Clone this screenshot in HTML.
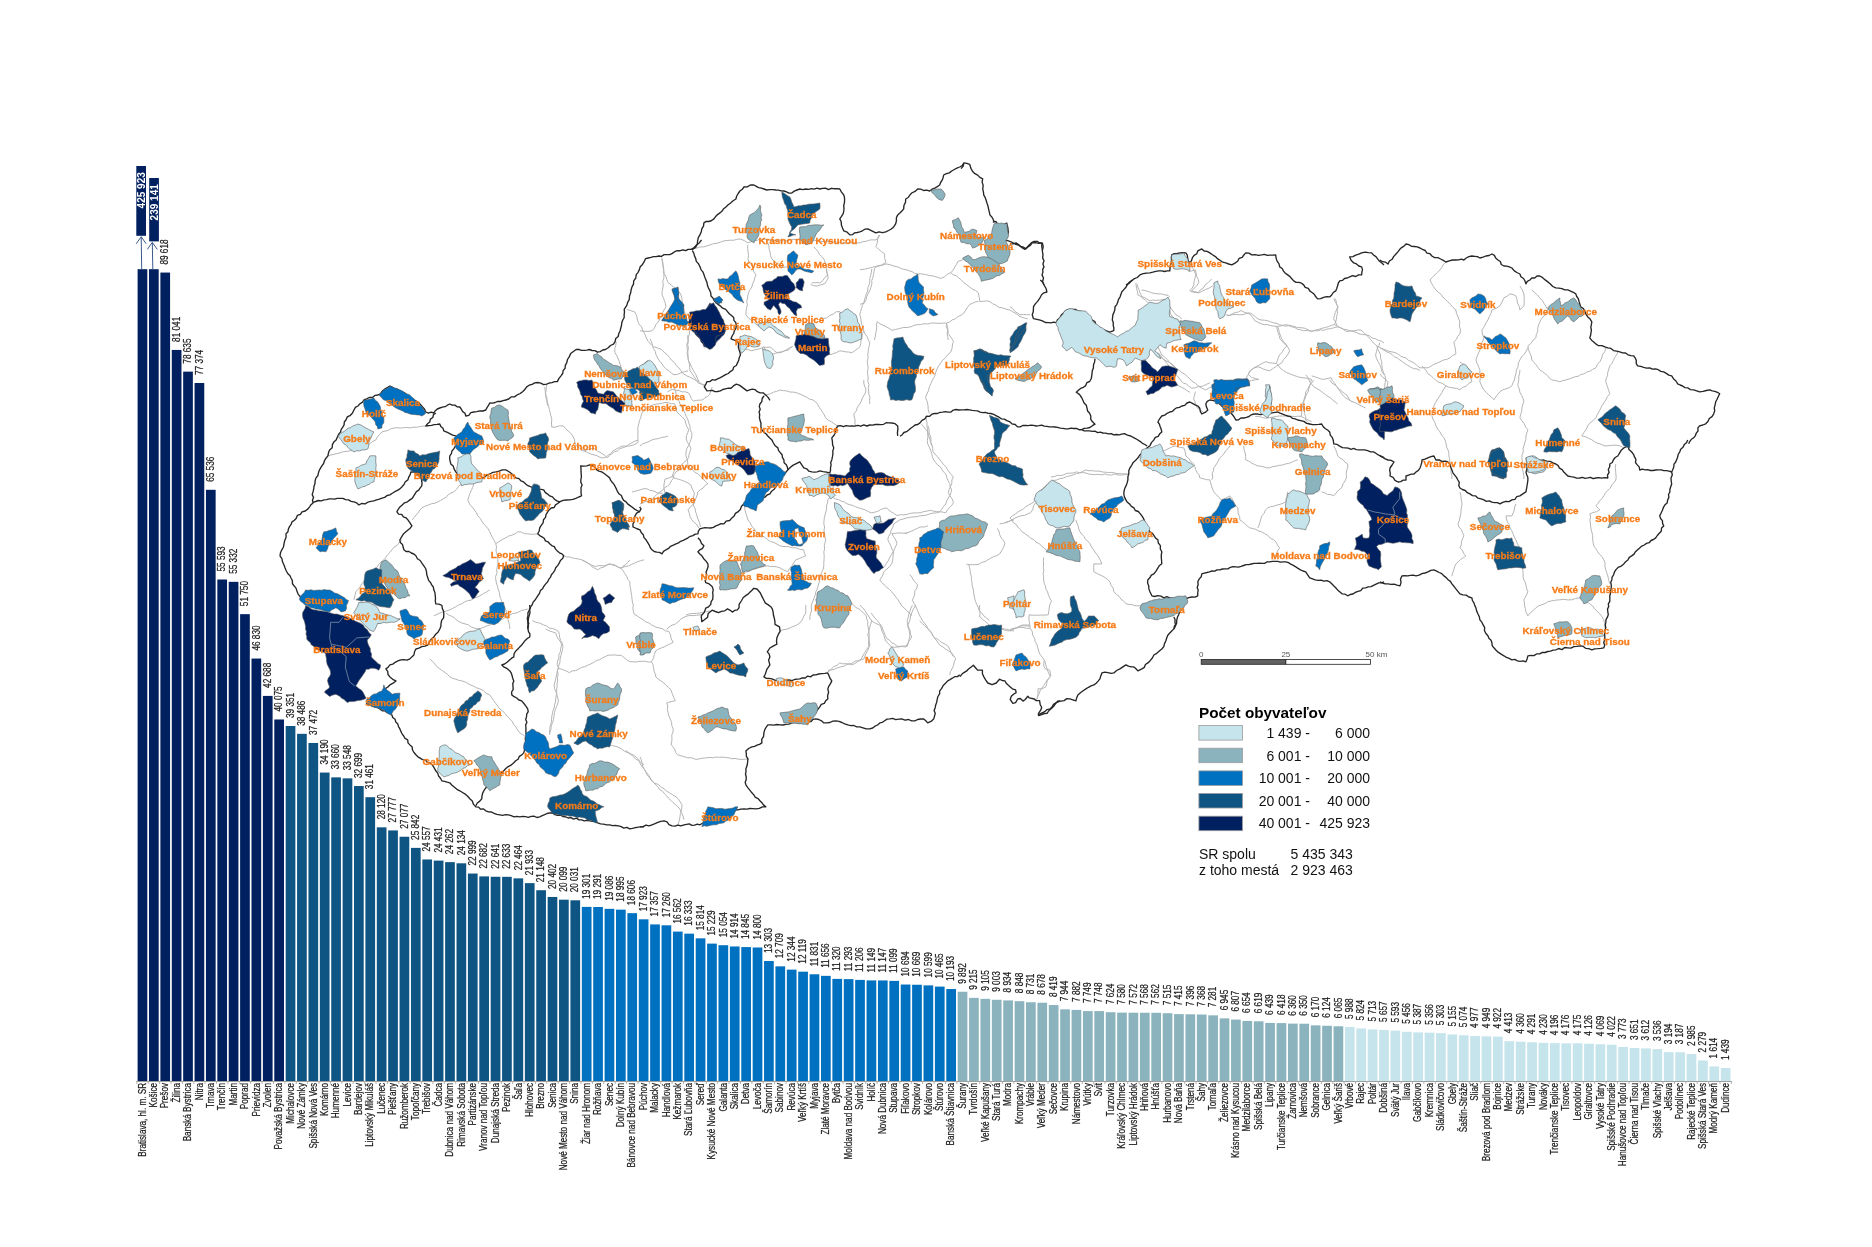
<!DOCTYPE html><html><head><meta charset="utf-8"><style>html,body{margin:0;padding:0;background:#fff;width:1872px;height:1247px;overflow:hidden}svg{display:block;will-change:transform}text{font-family:"Liberation Sans",sans-serif}</style></head><body>
<svg width="1872" height="1247" viewBox="0 0 1872 1247">
<g fill="none" stroke="#b4b4b4" stroke-width="1" stroke-linejoin="round">
<path d="M327.9,455.9 L330.9,455.0 L333.9,454.3 L336.9,453.6 L339.9,452.9 L343.3,451.7 L346.9,451.3 L350.5,450.8 L353.9,449.9 L357.0,449.2 L359.8,447.6 L363.0,447.1 L365.9,445.9 L369.4,444.2 L372.4,441.6 L375.9,439.9 L377.4,436.9 L379.6,434.4 L381.9,431.9 L385.0,431.2 L388.0,430.4 L390.8,428.8 L393.9,428.0 L397.1,427.7 L400.3,428.1 L403.5,427.7 L406.7,427.4 L409.9,428.0 L413.0,427.2 L416.3,427.3 L419.4,426.7 L422.6,426.2 L425.8,426.0"/>
<path d="M401.9,539.8 L399.5,542.4 L397.2,545.1 L394.1,547.1 L391.9,549.8 L390.0,552.4 L387.7,554.7 L385.8,557.3 L383.9,559.8 L381.0,562.0 L378.6,564.6 L376.7,567.6 L373.9,569.8 L371.9,572.2 L370.4,575.0 L367.7,576.8 L366.2,579.6 L363.9,581.8 L361.5,583.9 L360.2,587.0 L357.9,589.3 L355.9,591.8 L354.9,595.8 L353.9,599.8"/>
<path d="M411.9,519.9 L414.2,517.7 L415.9,515.1 L418.2,513.0 L419.7,510.1 L421.8,507.9 L424.9,506.2 L428.1,505.1 L431.2,503.8 L434.7,503.3 L437.8,501.9 L440.6,500.4 L443.3,498.8 L446.0,497.2 L448.2,494.8 L450.9,493.1 L453.8,491.9 L456.6,489.4 L458.7,486.1 L461.8,483.9"/>
<path d="M473.8,483.9 L472.8,487.2 L471.3,490.3 L470.0,493.4 L468.9,496.6 L467.8,499.9 L469.0,502.8 L470.6,505.5 L473.0,507.8 L474.7,510.4 L476.6,512.9 L477.8,515.9 L480.2,518.3 L481.8,521.1 L483.7,524.0 L486.0,526.3 L488.2,528.9 L489.8,531.8 L491.1,534.9 L492.6,537.9 L494.3,540.8 L495.8,543.8 L498.9,541.5 L502.2,539.5 L505.8,537.8 L508.6,536.1 L511.9,535.2 L515.0,533.8 L517.8,531.8 L521.2,532.0 L524.3,533.7 L527.7,533.8 L531.1,534.3 L534.4,534.2 L537.7,533.8"/>
<path d="M495.8,543.8 L496.5,547.0 L496.0,550.3 L496.6,553.5 L497.8,556.6 L497.8,559.8 L498.0,563.2 L497.3,566.5 L496.7,569.8 L497.0,573.2 L495.6,576.4 L495.8,579.8 L496.4,583.0 L497.4,586.2 L498.2,589.4 L499.4,592.5 L499.8,595.8 L500.7,598.7 L501.9,601.5 L503.9,604.0 L504.2,607.1 L505.8,609.8 L506.6,612.9 L506.6,616.3 L507.9,619.3 L508.8,622.5 L509.5,625.7 L509.8,629.0"/>
<path d="M433.8,615.8 L437.0,614.4 L440.0,612.9 L443.3,611.8 L446.6,610.9 L449.8,609.8 L452.8,608.3 L455.8,606.8 L458.6,604.9 L461.8,603.8 L464.6,601.9 L467.6,600.7 L471.0,600.2 L473.6,598.0 L476.9,597.3 L479.8,595.8 L483.2,593.8 L486.5,591.9 L489.8,589.8"/>
<path d="M563.7,555.8 L566.6,557.0 L569.8,556.9 L572.6,558.1 L575.7,558.5 L578.7,559.0 L581.7,559.8 L584.4,561.4 L587.2,562.8 L589.9,564.4 L592.1,566.9 L594.9,568.3 L597.7,569.8 L600.5,568.0 L603.8,567.1 L606.5,565.0 L609.7,563.8 L612.6,565.0 L615.6,565.9 L618.5,567.2 L621.6,567.8 L624.8,566.6 L628.2,566.0 L631.3,564.6 L634.4,563.2 L637.5,561.7 L640.7,560.7 L644.0,559.8"/>
<path d="M331.9,617.0 L331.8,620.1 L330.7,622.9 L329.9,625.9 L329.9,629.0 L331.2,632.0 L331.4,635.4 L331.8,638.7 L333.6,641.7 L333.9,645.0 L336.3,647.0 L338.4,649.3 L341.3,650.7 L343.7,652.7 L345.9,655.0 L346.2,658.0 L346.6,661.0 L346.9,664.0 L347.9,666.9 L348.1,670.0 L349.1,672.9 L348.5,676.0 L349.5,678.9 L349.5,681.9 L349.9,684.9 L351.7,687.7 L353.5,690.6 L355.9,692.9"/>
<path d="M333.9,639.0 L336.9,639.5 L340.0,639.5 L342.9,640.5 L345.9,641.0 L349.3,639.7 L352.7,638.6 L355.9,637.0 L358.7,634.7 L361.9,633.0"/>
<path d="M369.9,631.0 L371.9,628.0 L373.9,625.0 L376.7,623.5 L380.1,623.5 L382.7,621.4 L385.9,621.0 L388.9,620.5 L391.8,619.6 L394.8,619.2 L397.9,619.0 L400.8,618.4 L403.8,617.7 L406.8,617.2 L409.9,617.0"/>
<path d="M429.8,658.9 L432.5,661.3 L434.8,663.9 L436.9,666.8 L439.8,668.9 L442.5,670.7 L445.1,672.6 L447.7,674.5 L449.8,676.9 L452.7,678.4 L455.7,679.2 L458.7,680.3 L461.8,680.9 L465.0,681.9 L467.8,683.5 L470.7,685.1 L473.8,686.3 L476.7,687.8 L479.8,688.9 L483.3,690.6 L486.2,693.3 L489.8,694.9 L491.7,697.8 L493.7,700.6 L495.7,703.4 L497.8,706.1 L499.8,708.9 L502.7,711.0 L505.1,713.6 L507.3,716.4 L509.8,718.9 L512.2,721.4 L513.7,724.5 L516.1,727.1 L517.6,730.2 L519.8,732.9 L522.8,734.8 L525.7,736.9"/>
<path d="M445.8,613.0 L448.4,614.8 L451.3,616.1 L454.1,617.6 L456.4,619.8 L458.9,621.6 L461.8,623.0 L465.1,623.9 L468.4,624.9 L471.2,627.0 L474.5,628.1 L477.8,629.0 L480.9,628.3 L483.9,627.3 L486.8,625.9 L489.8,625.0 L492.9,624.0 L495.7,622.5 L498.5,621.0 L501.4,619.7 L504.3,618.3 L506.9,616.5 L509.8,615.0 L512.6,613.5 L515.8,613.1 L518.7,612.0 L521.6,610.4 L524.7,609.8 L527.7,609.0"/>
<path d="M545.7,629.0 L548.9,630.7 L552.3,631.8 L555.7,633.0 L556.8,636.2 L558.4,639.1 L560.5,641.8 L561.7,645.0 L560.7,648.1 L560.6,651.5 L558.9,654.4 L558.8,657.8 L557.7,660.9 L557.1,664.3 L558.3,667.6 L557.4,670.9 L558.2,674.3 L557.3,677.6 L557.7,680.9 L557.0,683.9 L557.0,686.9 L556.6,689.9 L556.7,692.9 L556.2,695.9 L555.7,698.9 L555.5,702.0 L554.5,704.9 L554.1,708.0 L552.9,710.9 L552.4,713.9 L551.7,716.9 L551.6,719.9 L551.2,722.9 L550.2,725.8 L549.9,728.8 L549.5,731.8 L549.7,734.9"/>
<path d="M609.7,744.9 L612.7,745.7 L615.8,746.4 L618.8,747.5 L621.6,748.9 L624.4,751.2 L627.7,752.7 L630.9,754.5 L633.6,756.8 L635.9,759.3 L639.0,760.6 L641.4,762.9 L644.0,764.8"/>
<path d="M693.9,248.9 L697.1,247.9 L700.2,246.9 L703.6,246.9 L706.8,245.9 L709.9,244.9 L713.4,243.7 L717.0,243.3 L720.5,242.1 L723.9,240.9 L727.1,240.5 L730.3,240.2 L733.6,240.3 L736.7,239.4 L739.9,238.9 L744.1,240.5 L747.9,242.9 L750.9,241.8 L753.8,240.7 L757.1,240.4 L759.9,238.9 L763.2,239.2 L766.6,239.5 L769.8,240.2 L773.2,240.6 L776.6,240.1 L779.9,240.9 L783.2,240.8 L786.6,240.8 L789.9,240.0 L793.2,239.3 L796.6,239.8 L799.8,238.9 L803.2,238.7 L806.5,239.6 L809.9,239.6 L813.2,240.3 L816.5,240.5 L819.8,240.9 L823.1,241.7 L826.5,241.1 L829.8,241.9 L833.2,242.0 L836.5,242.1 L839.8,242.9 L843.1,243.3 L846.5,243.1 L849.8,242.7 L853.1,243.0 L856.5,242.8 L859.8,242.9 L862.7,241.7 L865.7,241.4 L868.6,240.4 L871.7,239.8 L874.9,240.0 L877.8,238.9 L879.8,234.9"/>
<path d="M747.9,244.9 L747.6,248.4 L748.1,251.9 L748.5,255.4 L747.9,258.9 L749.1,262.3 L751.6,265.1 L753.0,268.3 L753.9,271.9 L755.9,274.9 L754.8,277.8 L754.0,280.9 L752.6,283.8 L751.9,286.9 L749.4,290.6 L747.9,294.9 L747.5,298.2 L746.7,301.5 L747.4,304.9 L746.5,308.2 L746.0,311.5 L745.9,314.8 L748.6,318.1 L751.9,320.8 L754.6,322.8 L757.1,325.0 L759.9,326.8"/>
<path d="M767.9,242.9 L768.9,246.0 L769.2,249.4 L770.2,252.5 L770.5,255.8 L771.9,258.9 L774.5,261.6 L777.5,264.0 L779.9,266.9 L783.9,267.2 L787.9,266.9"/>
<path d="M813.8,246.9 L815.9,249.3 L818.2,251.4 L819.4,254.5 L821.8,256.5 L823.8,258.9 L825.0,262.0 L825.8,265.2 L826.5,268.4 L826.5,271.8 L827.8,274.9 L824.9,277.3 L822.9,280.6 L819.8,282.9 L815.8,282.6 L811.8,282.9"/>
<path d="M871.8,268.9 L871.4,272.1 L870.7,275.2 L869.8,278.3 L869.7,281.5 L869.2,284.6 L867.8,287.6 L867.8,290.9 L866.4,293.8 L865.4,296.7 L864.5,299.8 L863.8,302.9 L862.3,305.7 L861.5,308.7 L860.5,311.7 L859.8,314.8 L860.8,318.0 L861.1,321.3 L861.7,324.6 L862.9,327.6 L863.8,330.8 L865.0,333.9 L867.1,336.6 L868.3,339.8 L869.8,342.8 L869.2,345.8 L868.5,348.8 L868.2,351.8 L867.8,354.8 L868.1,358.1 L867.2,361.5 L867.8,364.8 L868.2,368.1 L867.4,371.5 L867.8,374.8 L868.2,378.0 L867.7,381.3 L869.0,384.5 L868.3,387.8 L868.7,391.0 L868.8,394.2 L869.9,397.4 L869.5,400.7 L869.8,404.0"/>
<path d="M662.0,258.9 L662.4,262.1 L663.0,265.3 L663.7,268.4 L663.4,271.7 L664.0,274.9 L663.8,278.2 L662.7,281.5 L663.3,284.9 L662.8,288.2 L662.1,291.5 L662.0,294.9 L663.4,297.7 L664.4,300.7 L665.4,303.7 L666.0,306.8 L664.1,309.7 L662.7,312.7 L661.9,316.0 L660.0,318.8 L658.2,322.0 L655.8,324.7 L654.4,328.1 L652.0,330.8 L648.0,331.4 L644.0,331.2 L640.0,330.8"/>
<path d="M688.0,334.8 L687.6,338.2 L688.3,341.5 L687.7,344.8 L688.4,348.1 L687.8,351.5 L688.0,354.8 L688.1,358.0 L688.6,361.2 L689.5,364.3 L689.6,367.6 L690.0,370.8 L692.2,373.6 L694.1,376.7 L696.1,379.7 L697.9,382.8 L701.8,384.2 L705.9,384.8"/>
<path d="M650.0,338.8 L651.5,341.9 L652.5,345.2 L653.3,348.5 L655.3,351.4 L656.0,354.8 L657.7,358.0 L659.6,361.1 L661.9,363.9 L664.0,366.8 L666.2,369.2 L669.0,370.7 L671.3,373.0 L674.0,374.8 L677.6,374.4 L681.0,372.8 L684.4,371.7 L688.0,370.8"/>
<path d="M739.9,346.8 L742.7,348.3 L745.8,349.0 L748.9,349.8 L751.9,350.8 L754.8,349.7 L758.0,349.1 L761.1,348.3 L763.9,346.8 L765.9,350.8 L767.9,354.8 L770.9,354.3 L773.9,353.8 L776.8,352.8 L779.9,352.8 L783.0,351.7 L786.0,350.0 L788.9,348.4 L791.8,346.8"/>
<path d="M829.8,354.8 L833.2,353.7 L836.6,352.5 L839.8,350.8 L842.8,351.2 L845.8,351.9 L848.8,352.0 L851.8,352.8 L854.5,350.9 L857.2,349.0 L859.8,346.8 L860.7,343.6 L861.0,340.3 L861.9,337.2 L862.4,333.9 L863.8,330.8"/>
<path d="M763.9,396.0 L767.0,394.7 L770.3,393.8 L773.4,392.2 L776.7,391.4 L779.9,390.0 L783.2,390.6 L786.6,390.9 L789.9,392.0 L793.3,392.1 L796.6,392.8 L799.8,394.0 L803.1,395.5 L806.3,397.0 L809.3,399.1 L812.9,399.9 L815.8,402.0 L817.7,404.4 L819.1,407.2 L820.9,409.7 L822.6,412.3 L824.3,414.9 L825.6,417.7 L827.8,420.0 L831.3,421.7 L834.5,424.0 L837.8,426.0"/>
<path d="M855.8,426.0 L854.8,423.0 L855.1,419.9 L854.3,417.0 L853.8,414.0 L856.3,410.9 L857.4,407.1 L859.8,404.0 L861.3,401.0 L862.5,397.9 L864.2,394.9 L865.8,392.0 L865.8,388.9 L864.5,386.0 L863.8,383.1 L863.8,380.0"/>
<path d="M925.7,416.0 L926.3,419.4 L927.0,422.9 L926.9,426.5 L927.7,430.0 L927.5,433.4 L928.0,436.9 L927.3,440.4 L927.7,443.9 L929.2,447.0 L930.6,450.1 L931.7,453.4 L932.4,456.8 L933.7,459.9 L935.5,462.5 L937.5,464.8 L940.0,466.6 L941.8,469.2 L943.4,471.8 L945.7,473.9 L946.7,477.2 L947.8,480.4 L949.7,483.4 L950.2,486.8 L951.7,489.9 L950.9,492.8 L949.8,495.7 L948.1,498.3 L946.7,501.0 L945.7,503.9 L943.6,506.4 L941.7,509.2 L939.7,511.9 L936.4,512.9 L933.0,513.1 L929.7,513.9 L926.5,515.1 L923.1,515.5 L919.7,515.9 L916.4,516.7 L913.0,516.9 L909.6,517.3 L906.3,518.0 L903.1,519.1 L899.7,519.9 L896.8,522.0 L893.7,523.9"/>
<path d="M831.8,473.9 L831.7,477.0 L832.1,479.9 L832.3,483.0 L833.4,485.9 L832.9,489.0 L833.8,491.9 L831.7,494.5 L829.7,497.1 L827.8,499.9 L827.6,502.9 L826.3,505.8 L826.7,508.9 L825.8,511.9 L825.1,514.8 L824.3,517.8 L824.0,520.8 L823.8,523.9 L824.6,527.0 L824.0,530.3 L824.6,533.5 L824.8,536.7 L825.8,539.8 L825.0,542.8 L824.3,545.7 L824.6,548.9 L823.8,551.8 L824.2,555.3 L824.1,558.8 L823.8,562.3 L823.8,565.8 L823.2,569.4 L821.4,572.7 L820.4,576.2 L819.8,579.8 L819.0,582.9 L818.1,585.9 L817.2,588.9 L815.8,591.8 L815.2,594.9 L814.1,597.9 L813.0,600.8 L811.8,603.8 L811.2,606.9 L811.6,610.2 L810.6,613.4 L809.9,616.5 L809.8,619.8"/>
<path d="M893.7,523.9 L892.8,527.2 L891.2,530.2 L890.4,533.5 L888.5,536.5 L887.8,539.8 L889.3,542.8 L890.9,545.8 L891.8,549.1 L893.7,551.8 L893.2,554.8 L892.9,557.8 L892.6,560.9 L891.7,563.8 L889.4,566.8 L886.6,569.3 L883.8,571.8 L882.3,576.1 L879.8,579.8 L881.8,582.5 L884.2,584.9 L886.7,587.3 L889.4,589.4 L891.7,591.8 L893.9,594.5 L896.0,597.2 L898.1,599.9 L899.9,602.8 L901.7,605.8 L904.4,608.1 L906.7,610.8 L909.5,613.0 L911.7,615.8"/>
<path d="M1014.0,519.9 L1010.4,520.8 L1006.8,521.9 L1003.4,523.3 L999.6,523.9"/>
<path d="M743.9,503.9 L744.6,507.1 L745.0,510.4 L746.0,513.5 L747.0,516.7 L747.9,519.9 L750.1,522.7 L751.7,526.0 L754.1,528.7 L755.9,531.8 L758.6,534.2 L762.0,535.6 L765.1,537.5 L767.9,539.8 L770.7,541.6 L774.0,542.5 L777.0,544.1 L779.9,545.8 L783.0,546.5 L786.3,546.5 L789.5,546.9 L792.6,547.9 L795.8,547.8 L799.7,549.3 L803.8,549.8 L804.3,553.0 L805.8,555.8 L802.5,557.1 L799.2,558.6 L795.8,559.8 L793.8,562.8 L791.9,565.9 L789.4,568.5 L787.9,571.8 L783.7,570.1 L779.9,567.8 L776.9,566.9 L773.9,566.5 L770.8,566.6 L767.9,565.8 L764.6,566.3 L761.4,567.2 L758.2,567.9 L755.1,569.0 L751.9,569.8 L748.8,571.4 L745.5,572.2 L742.1,572.9 L738.9,574.1 L735.9,575.8 L731.9,576.0 L727.9,575.6 L723.9,575.8"/>
<path d="M674.0,388.0 L675.7,391.0 L676.1,394.5 L677.5,397.6 L678.9,400.7 L680.0,404.0 L681.8,407.1 L683.6,410.1 L685.0,413.4 L686.4,416.7 L688.0,420.0 L688.8,423.1 L690.0,426.3 L690.1,429.6 L691.7,432.6 L691.9,435.9 L691.1,439.3 L689.8,442.4 L688.7,445.7 L686.8,448.6 L686.0,451.9 L685.9,455.5 L687.0,458.9 L687.6,462.4 L688.0,465.9 L684.8,467.0 L681.8,468.6 L678.9,470.2 L676.0,471.9 L674.0,474.7 L673.4,478.1 L671.4,480.8 L670.0,483.9 L667.6,486.1 L664.6,487.5 L662.8,490.3 L660.0,491.9 L657.0,494.2 L654.3,496.9 L652.0,499.9 L649.2,501.4 L645.8,501.4 L643.0,502.9 L640.0,503.9"/>
<path d="M688.0,465.9 L690.0,468.3 L692.8,469.9 L694.8,472.4 L697.7,473.7 L699.9,475.9 L702.9,478.3 L705.2,481.3 L707.9,483.9 L705.1,485.4 L703.1,488.1 L700.3,489.7 L697.9,491.9 L697.2,495.0 L696.1,497.9 L694.8,500.8 L693.9,503.9 L690.7,506.6 L688.0,509.9 L689.3,513.2 L690.1,516.7 L691.9,519.9 L693.8,522.2 L696.4,524.0 L697.8,526.7 L699.9,528.9"/>
<path d="M640.0,445.9 L642.7,443.9 L645.9,442.7 L649.0,441.5 L652.0,439.9 L655.2,439.0 L658.4,438.6 L661.6,437.4 L664.9,437.1 L668.0,435.9"/>
<path d="M640.0,756.8 L641.3,759.7 L642.0,762.8 L642.6,766.0 L644.0,768.8 L645.8,772.0 L648.4,774.6 L650.2,777.7 L652.0,780.8 L654.7,783.2 L658.2,784.4 L660.9,786.9 L664.0,788.8 L666.7,791.2 L669.8,793.0 L672.9,794.9 L676.0,796.8 L678.4,799.1 L680.2,802.0 L682.0,804.8 L681.8,807.8 L681.2,810.8 L680.3,813.8 L680.0,816.8 L679.2,820.8 L678.0,824.8"/>
<path d="M686.0,615.0 L689.4,613.9 L692.9,613.5 L696.4,613.4 L699.9,613.0 L703.3,612.2 L706.6,611.7 L709.9,611.0"/>
<path d="M779.9,631.0 L782.8,629.8 L786.0,629.3 L789.0,628.5 L791.8,627.0 L796.1,625.4 L799.8,623.0 L802.3,619.9 L803.7,616.2 L805.8,613.0 L805.8,609.0 L805.8,605.0"/>
<path d="M827.8,670.9 L831.1,669.3 L833.6,666.6 L837.1,665.3 L839.8,662.9 L842.7,663.8 L845.8,663.7 L848.9,663.9 L851.8,664.9 L854.8,663.5 L857.6,661.6 L860.6,660.1 L863.8,658.9 L864.8,656.1 L866.1,653.3 L867.6,650.7 L868.8,647.8 L869.8,645.0 L869.5,641.6 L868.8,638.2 L867.8,635.0 L868.7,631.4 L869.6,627.9 L870.6,624.4 L871.8,621.0 L869.8,618.0 L867.8,615.0 L865.8,611.9 L863.8,609.0 L859.8,605.0"/>
<path d="M871.8,621.0 L875.5,623.4 L879.8,625.0 L881.1,628.1 L882.1,631.4 L883.7,634.4 L884.5,637.8 L885.8,641.0 L888.7,644.0 L891.7,647.0 L895.2,647.2 L898.7,646.9 L902.2,646.5 L905.7,647.0 L907.6,643.5 L909.5,640.2 L911.7,637.0 L910.4,634.1 L910.2,630.8 L909.0,627.9 L907.7,625.0 L909.2,622.2 L910.2,619.2 L910.5,615.9 L911.7,613.0 L913.5,608.9 L915.7,605.0"/>
<path d="M919.7,621.0 L922.1,623.4 L924.6,625.7 L927.0,628.1 L929.7,630.2 L931.7,633.0 L933.3,636.3 L935.3,639.2 L937.6,642.0 L939.7,645.0 L942.8,646.8 L945.6,649.1 L948.7,651.0 L951.7,653.0 L953.8,655.9 L955.7,658.9 L954.2,662.0 L953.6,665.4 L952.2,668.6 L950.5,671.6 L949.7,674.9"/>
<path d="M979.7,605.0 L979.4,609.0 L980.0,613.0 L979.7,617.0 L982.2,618.8 L984.4,621.0 L987.1,622.7 L989.1,625.2 L991.6,627.0 L994.8,627.7 L998.1,628.0 L1001.3,628.5 L1004.5,628.9 L1007.7,629.5 L1010.8,630.5 L1014.0,631.0"/>
<path d="M1010.0,306.8 L1012.7,308.6 L1014.7,311.2 L1017.4,313.0 L1020.0,314.8 L1023.3,314.5 L1026.7,314.7 L1030.0,314.8"/>
<path d="M1135.9,282.9 L1136.2,285.9 L1136.7,288.9 L1137.5,291.8 L1137.9,294.9 L1140.8,296.5 L1144.1,297.4 L1147.0,299.1 L1149.9,300.9 L1152.8,300.0 L1155.9,300.4 L1158.9,300.1 L1161.9,299.8 L1164.9,299.3 L1167.8,298.9 L1169.0,302.8 L1169.8,306.8 L1171.8,309.5 L1173.9,312.1 L1175.8,314.8 L1179.1,316.5 L1181.8,318.8"/>
<path d="M1189.8,262.9 L1191.0,266.1 L1193.2,268.7 L1194.6,271.8 L1195.8,274.9 L1194.9,278.2 L1194.1,281.5 L1193.8,284.9 L1192.2,288.1 L1189.8,290.9 L1193.7,292.2 L1197.8,292.9 L1200.1,290.1 L1203.2,288.2 L1205.0,285.0 L1207.8,282.9 L1211.8,278.9"/>
<path d="M1225.8,314.8 L1229.3,315.4 L1232.8,314.6 L1236.3,314.5 L1239.8,314.8 L1243.2,314.6 L1246.4,313.3 L1249.8,312.8 L1252.7,314.5 L1255.2,316.6 L1257.8,318.8 L1261.0,320.0 L1264.4,320.2 L1267.7,320.8 L1270.7,321.8 L1273.7,322.9 L1276.9,323.4 L1279.7,324.8 L1282.7,325.4 L1285.7,326.1 L1288.8,325.7 L1291.7,326.8 L1294.8,327.5 L1297.5,329.3 L1300.7,329.8 L1303.7,330.8 L1307.2,330.5 L1310.7,331.0 L1314.2,330.7 L1317.7,330.8 L1320.6,329.8 L1323.8,330.4 L1326.7,329.1 L1329.7,328.8 L1333.7,327.8 L1337.7,326.8 L1340.7,327.7 L1343.5,329.2 L1346.7,329.7 L1349.7,330.8 L1352.9,331.4 L1356.1,332.4 L1359.1,333.8 L1362.3,334.5 L1365.6,334.8 L1369.2,335.7 L1372.1,338.0 L1375.6,338.8 L1378.4,340.3 L1381.4,341.1 L1384.0,342.8"/>
<path d="M1333.7,298.9 L1335.9,302.8 L1337.7,306.8 L1336.5,309.8 L1335.2,312.7 L1334.4,315.7 L1333.7,318.8 L1335.8,322.7 L1337.7,326.8"/>
<path d="M1277.7,326.8 L1278.7,329.8 L1279.4,332.9 L1280.6,335.9 L1281.7,338.8 L1283.7,341.8 L1286.2,344.5 L1288.1,347.6 L1289.7,350.8 L1288.1,354.0 L1286.0,357.0 L1283.5,359.7 L1281.7,362.8 L1278.7,364.7 L1275.7,366.8 L1272.7,368.7 L1269.7,370.8 L1266.6,370.2 L1263.6,369.2 L1260.8,367.7 L1257.8,366.8 L1253.5,368.3 L1249.8,370.8 L1248.1,374.9 L1245.8,378.8"/>
<path d="M1157.9,346.8 L1159.8,350.8 L1161.8,354.8 L1164.8,357.2 L1167.5,359.8 L1169.8,362.8 L1172.0,365.2 L1174.6,367.0 L1177.1,369.1 L1179.8,370.8 L1182.2,372.9 L1185.1,374.4 L1187.4,376.6 L1189.8,378.8 L1192.0,381.2 L1194.8,382.8 L1197.2,385.0 L1199.8,386.8 L1203.3,385.9 L1206.6,384.3 L1209.8,382.8"/>
<path d="M1305.7,374.8 L1308.0,377.6 L1309.3,381.0 L1311.5,383.9 L1313.7,386.8 L1316.9,388.5 L1320.0,390.3 L1322.8,392.6 L1325.7,394.8 L1328.1,396.5 L1330.7,398.2 L1333.0,400.2 L1335.3,402.1 L1337.7,404.0"/>
<path d="M1379.6,342.8 L1379.0,345.9 L1377.2,348.7 L1376.5,351.7 L1375.6,354.8 L1376.3,358.2 L1377.9,361.2 L1379.6,364.3 L1380.9,367.4 L1381.6,370.8 L1384.0,374.8"/>
<path d="M1010.0,517.9 L1012.5,515.7 L1015.5,514.1 L1018.0,511.9 L1020.8,510.4 L1023.5,508.8 L1025.8,506.6 L1028.6,505.1 L1031.3,503.5 L1034.0,501.9 L1035.9,498.5 L1037.8,495.1 L1040.0,491.9 L1042.1,489.0 L1044.7,486.6 L1047.4,484.3 L1050.0,481.9 L1053.2,480.6 L1056.6,480.0 L1059.9,478.7 L1063.3,478.1 L1066.5,476.6 L1069.9,475.9 L1073.2,474.8 L1076.4,473.6 L1079.7,472.8 L1082.8,471.4 L1085.9,469.9 L1089.1,470.8 L1092.3,470.7 L1095.5,471.2 L1098.8,471.0 L1101.9,471.9 L1105.2,472.2 L1108.6,472.5 L1111.9,472.4 L1115.2,473.2 L1118.6,473.6 L1121.9,473.9 L1127.9,473.9"/>
<path d="M1010.0,517.9 L1012.0,520.2 L1013.5,522.9 L1016.4,524.5 L1018.0,527.2 L1020.2,529.4 L1022.0,531.8 L1025.1,533.7 L1028.0,535.8 L1030.7,538.2 L1034.0,539.8 L1036.1,542.2 L1039.0,543.5 L1041.3,545.6 L1043.5,547.9 L1046.0,549.8 L1049.9,552.0 L1054.0,553.8"/>
<path d="M1075.9,519.9 L1076.8,522.9 L1078.2,525.8 L1078.7,528.9 L1079.9,531.8 L1081.9,534.2 L1084.0,536.6 L1085.5,539.4 L1088.1,541.3 L1089.9,543.8 L1091.6,547.1 L1093.7,550.0 L1095.7,553.0 L1097.9,555.8 L1100.1,559.7 L1101.9,563.8 L1097.9,564.0 L1093.9,563.8 L1093.7,567.8 L1093.9,571.8 L1097.9,573.9 L1101.9,575.8 L1104.9,577.4 L1107.5,579.5 L1109.9,581.8 L1111.0,585.2 L1113.1,588.2 L1113.9,591.8 L1116.3,594.2 L1119.0,596.3 L1120.9,599.1 L1123.7,601.2 L1125.9,603.8 L1128.9,604.4 L1131.9,604.6 L1134.8,605.7 L1137.9,605.8 L1141.9,605.8"/>
<path d="M1137.9,457.9 L1140.8,456.9 L1144.0,457.5 L1146.9,456.7 L1149.9,455.9 L1152.8,454.2 L1156.1,453.1 L1159.4,452.3 L1162.8,451.6 L1165.8,449.9 L1169.1,448.4 L1172.3,446.7 L1175.8,445.9 L1179.7,447.3 L1183.8,447.9 L1185.2,451.8 L1185.8,455.9 L1188.7,458.4 L1190.9,461.5 L1193.8,463.9 L1194.9,466.8 L1195.8,469.7 L1197.1,472.5 L1199.1,474.9 L1199.8,477.9 L1203.1,478.7 L1206.4,479.6 L1209.8,479.9 L1210.7,482.9 L1211.5,486.0 L1212.6,489.0 L1213.8,491.9 L1216.4,494.6 L1218.8,497.5 L1221.8,499.9 L1225.9,498.1 L1229.8,495.9 L1232.0,498.7 L1233.7,501.9 L1235.4,505.1 L1237.8,507.9 L1238.1,510.9 L1238.3,513.9 L1239.7,516.8 L1239.8,519.9 L1242.5,521.6 L1244.9,523.7 L1247.2,525.9 L1249.8,527.9 L1252.9,528.5 L1255.9,529.4 L1258.7,531.1 L1261.7,531.8 L1264.8,533.8 L1268.0,535.5 L1270.4,538.3 L1273.7,539.8 L1276.2,542.2 L1277.6,545.3 L1279.7,547.8 L1277.8,550.6 L1276.5,553.7 L1275.3,556.8 L1273.7,559.8"/>
<path d="M1229.8,445.9 L1228.0,448.6 L1225.6,450.8 L1224.1,453.7 L1221.8,455.9 L1219.3,458.6 L1217.8,461.9 L1215.9,465.0 L1213.8,467.9 L1213.3,470.9 L1212.2,473.8 L1212.8,477.0 L1211.8,479.9"/>
<path d="M1243.8,445.9 L1244.0,449.5 L1245.2,452.9 L1245.6,456.4 L1245.8,459.9 L1248.9,461.1 L1251.7,463.1 L1254.7,464.6 L1257.8,465.9 L1260.8,466.2 L1263.7,466.9 L1266.7,467.8 L1269.7,467.9 L1272.8,466.6 L1276.1,466.2 L1279.3,465.3 L1282.6,465.0 L1285.7,463.9 L1288.9,463.3 L1291.8,462.3 L1294.7,460.8 L1297.7,459.9"/>
<path d="M1257.8,527.9 L1259.2,525.0 L1260.0,522.0 L1260.8,518.9 L1261.7,515.9 L1264.1,513.5 L1265.3,510.2 L1267.7,507.9 L1270.7,506.7 L1273.8,506.2 L1276.8,505.1 L1279.9,504.4 L1282.9,503.3 L1285.7,501.9 L1286.6,498.6 L1287.0,495.2 L1287.7,491.9"/>
<path d="M1321.7,491.9 L1324.7,492.8 L1327.5,494.4 L1330.8,494.6 L1333.7,495.9 L1336.1,493.0 L1338.6,490.1 L1341.7,487.9 L1343.2,483.7 L1345.7,479.9 L1346.5,476.8 L1346.2,473.5 L1346.7,470.3 L1347.8,467.2 L1347.7,463.9 L1345.0,462.2 L1343.0,459.6 L1340.1,458.1 L1337.7,455.9 L1336.7,452.4 L1335.5,449.1 L1333.7,445.9"/>
<path d="M1313.7,380.0 L1311.7,383.0 L1309.3,385.7 L1307.9,389.1 L1305.7,392.0 L1305.5,395.0 L1304.4,397.9 L1303.9,400.9 L1303.7,404.0 L1303.6,407.2 L1304.5,410.4 L1304.4,413.6 L1305.8,416.7 L1305.7,420.0 L1309.7,424.0"/>
<path d="M1329.7,380.0 L1332.0,383.1 L1335.3,385.1 L1337.7,388.0 L1339.5,390.6 L1341.3,393.3 L1343.3,395.8 L1345.7,398.0 L1348.6,399.6 L1351.5,401.3 L1354.7,402.4 L1357.7,404.0 L1361.6,406.1 L1365.6,408.0"/>
<path d="M1010.0,631.0 L1013.0,629.5 L1016.1,628.2 L1019.2,626.9 L1022.0,625.0 L1026.0,625.0 L1030.0,625.0"/>
<path d="M1445.9,262.0 L1443.5,264.3 L1441.9,267.3 L1439.9,270.0 L1437.4,272.4 L1434.9,274.9 L1432.3,277.3 L1430.0,280.0 L1431.6,283.5 L1433.6,286.8 L1435.9,289.9 L1438.3,292.4 L1441.1,294.4 L1443.0,297.3 L1445.6,299.5 L1447.9,301.9 L1450.6,304.6 L1453.0,307.5 L1455.9,309.9 L1456.4,313.1 L1457.7,316.0 L1458.8,319.0 L1459.9,321.9 L1459.3,325.9 L1460.5,329.9 L1459.9,333.9 L1457.7,336.4 L1456.3,339.5 L1453.9,341.9 L1454.4,344.9 L1455.2,347.8 L1455.6,350.9 L1455.9,353.9 L1452.7,355.5 L1449.9,357.9 L1446.7,359.4 L1443.1,360.1 L1439.9,361.9 L1436.9,363.2 L1433.7,364.4 L1430.9,366.2 L1428.0,367.9 L1424.0,367.7 L1420.0,367.9 L1417.3,365.8 L1414.9,363.5 L1412.0,361.9 L1408.6,360.4 L1406.0,357.9 L1403.0,357.1 L1400.2,355.8 L1397.8,353.8 L1395.0,352.6 L1392.0,351.9 L1388.9,351.3 L1385.9,350.1 L1383.0,348.9 L1380.0,347.9"/>
<path d="M1519.9,285.9 L1522.2,289.8 L1523.9,293.9 L1524.2,297.9 L1524.2,301.9 L1523.9,305.9 L1519.9,309.9 L1519.2,306.3 L1517.4,303.0 L1517.0,299.4 L1515.9,295.9 L1513.0,294.5 L1509.9,293.9 L1507.1,296.2 L1503.9,297.9 L1502.0,302.0 L1499.9,305.9 L1496.1,308.4 L1491.9,309.9 L1491.0,313.4 L1489.3,316.6 L1487.9,319.9 L1485.8,323.2 L1484.2,326.8 L1481.9,329.9 L1482.4,334.0 L1483.9,337.9 L1482.8,340.9 L1481.3,343.7 L1480.9,346.9 L1479.9,349.9 L1478.5,353.2 L1477.0,356.5 L1475.9,359.9 L1477.1,363.3 L1478.5,366.6 L1479.9,369.9 L1479.8,373.9 L1480.2,377.9 L1479.9,381.8 L1481.7,386.0 L1483.9,389.8 L1486.2,392.5 L1488.8,394.9 L1491.5,397.2 L1493.9,399.8 L1495.7,397.1 L1497.7,394.3 L1499.9,391.8 L1502.6,389.8 L1505.9,388.9 L1509.1,387.7 L1511.9,385.8 L1512.9,382.9 L1514.4,380.0 L1515.0,376.9 L1515.9,373.9 L1516.3,370.2 L1518.0,366.9 L1518.3,363.2 L1519.9,359.9 L1521.7,356.8 L1524.3,354.2 L1526.2,351.1 L1527.9,347.9"/>
<path d="M1531.8,289.9 L1534.6,292.5 L1537.4,295.0 L1539.8,297.9 L1542.3,300.6 L1544.2,303.7 L1546.1,306.7 L1547.8,309.9 L1545.5,312.7 L1544.0,316.0 L1541.5,318.7 L1539.8,321.9 L1538.5,325.0 L1537.7,328.2 L1537.7,331.6 L1536.3,334.6 L1535.8,337.9 L1533.0,340.4 L1530.8,343.5 L1527.9,345.9 L1528.5,349.5 L1529.7,352.9 L1531.3,356.2 L1531.8,359.9 L1533.9,362.3 L1536.0,364.7 L1537.9,367.3 L1539.8,369.9 L1542.4,371.6 L1544.9,373.6 L1547.4,375.4 L1549.3,378.0 L1551.8,379.9 L1555.9,380.6 L1559.8,381.8 L1562.7,380.6 L1565.9,380.0 L1568.9,379.1 L1571.8,377.9 L1574.8,376.8 L1578.0,376.4 L1580.7,374.5 L1583.8,373.9 L1586.7,372.1 L1589.9,371.2 L1592.7,369.3 L1595.8,367.9 L1597.4,364.3 L1600.1,361.4 L1601.8,357.9 L1602.6,354.4 L1604.9,351.4 L1605.8,347.9"/>
<path d="M1519.9,369.9 L1519.7,373.1 L1518.8,376.2 L1518.8,379.5 L1518.2,382.6 L1517.9,385.8 L1519.3,389.0 L1519.9,392.4 L1521.6,395.4 L1523.1,398.5 L1523.9,401.8 L1522.6,404.9 L1521.9,408.1 L1521.7,411.5 L1520.7,414.6 L1519.9,417.8 L1521.9,420.8 L1524.2,423.6 L1525.6,427.0 L1527.9,429.8 L1526.8,432.9 L1525.9,436.1 L1525.8,439.5 L1524.8,442.6 L1523.9,445.8 L1523.1,448.7 L1523.3,451.9 L1522.1,454.7 L1521.9,457.8 L1522.3,460.8 L1523.0,463.8 L1522.9,466.8 L1522.5,469.9 L1523.4,472.9 L1523.8,475.9 L1523.9,479.0"/>
<path d="M1617.8,351.9 L1616.6,354.9 L1614.7,357.5 L1613.4,360.5 L1611.9,363.4 L1609.8,365.9 L1608.8,369.0 L1607.8,372.2 L1607.5,375.5 L1606.1,378.5 L1605.8,381.8 L1606.8,384.8 L1607.8,387.8 L1608.8,390.8 L1609.8,393.8 L1607.4,396.6 L1605.8,399.8 L1603.9,402.9 L1601.8,405.8 L1600.5,408.9 L1598.8,411.8 L1597.2,414.8 L1595.8,417.8 L1593.2,420.5 L1590.1,422.8 L1587.8,425.8 L1586.3,429.4 L1583.9,432.5 L1581.8,435.8 L1585.3,436.7 L1588.5,438.3 L1591.8,439.8 L1594.6,441.7 L1597.5,443.3 L1600.9,444.1 L1603.8,445.8 L1607.0,445.9 L1610.2,445.5 L1613.4,445.2 L1616.6,445.2 L1619.8,445.8 L1623.8,447.8"/>
<path d="M1445.9,385.8 L1443.8,389.1 L1441.9,392.5 L1439.9,395.8 L1437.6,399.0 L1435.7,402.3 L1433.9,405.8 L1433.6,409.2 L1433.1,412.6 L1431.9,415.8 L1433.0,419.3 L1434.9,422.4 L1435.9,425.8 L1437.6,429.0 L1439.9,431.8 L1441.6,435.0 L1443.9,437.8 L1445.3,440.7 L1446.1,443.7 L1446.5,446.9 L1447.9,449.8 L1448.9,452.7 L1448.9,455.8 L1449.5,458.8 L1449.9,461.8 L1449.8,465.3 L1451.1,468.6 L1450.9,472.1 L1451.9,475.5 L1451.9,479.0"/>
<path d="M1459.9,361.9 L1462.5,363.8 L1465.0,365.7 L1467.7,367.6 L1469.9,369.9 L1470.1,372.9 L1471.0,375.8 L1471.1,378.9 L1471.9,381.8 L1468.7,383.5 L1466.2,386.2 L1462.6,387.4 L1459.9,389.8 L1456.6,388.3 L1452.9,387.9 L1449.3,387.4 L1445.9,385.8"/>
<path d="M1422.0,365.9 L1424.2,368.4 L1426.3,370.9 L1428.0,373.9 L1430.7,375.5 L1433.1,377.6 L1435.4,379.9 L1437.9,381.8 L1442.2,383.4 L1445.9,385.8"/>
<path d="M1380.0,373.9 L1382.3,376.9 L1385.4,379.2 L1388.0,381.8 L1387.3,385.9 L1386.0,389.8"/>
<path d="M1459.9,491.9 L1460.9,495.4 L1461.1,498.9 L1461.9,502.4 L1461.9,505.9 L1461.0,508.9 L1461.0,512.0 L1460.5,515.1 L1459.8,518.0 L1459.1,521.0 L1457.9,523.9 L1459.1,527.1 L1461.4,529.7 L1462.6,532.8 L1463.9,535.9 L1462.5,538.8 L1461.5,541.8 L1461.2,545.0 L1459.9,547.9 L1462.4,550.2 L1463.6,553.5 L1465.9,555.9 L1463.3,557.7 L1460.6,559.5 L1458.3,561.7 L1455.9,563.9 L1454.6,566.8 L1453.8,569.8 L1452.7,572.8 L1451.9,575.9"/>
<path d="M1515.9,503.9 L1514.7,506.9 L1514.3,510.1 L1513.2,513.0 L1511.9,515.9 L1505.9,515.9 L1506.6,519.0 L1507.4,522.1 L1509.3,524.8 L1509.9,527.9 L1511.7,530.7 L1513.1,533.8 L1514.3,536.9 L1515.9,539.9 L1517.5,544.1 L1519.9,547.9 L1520.7,551.0 L1520.1,554.4 L1521.1,557.5 L1522.0,560.6 L1521.9,563.9 L1522.2,567.1 L1522.8,570.2 L1523.2,573.5 L1523.0,576.7 L1523.9,579.9 L1525.4,582.7 L1526.1,585.8 L1526.8,588.9 L1527.9,591.8 L1526.0,595.9 L1523.9,599.8 L1524.4,602.8 L1524.6,605.9 L1525.4,608.8 L1525.9,611.8 L1527.9,615.8 L1530.2,612.8 L1533.2,610.5 L1535.8,607.8 L1538.6,605.9 L1541.8,604.7 L1545.0,603.6 L1547.8,601.8 L1550.8,601.0 L1553.8,600.5 L1556.8,600.0 L1559.8,599.8 L1563.8,599.3 L1567.8,599.9 L1571.8,599.8 L1575.7,598.5 L1579.8,597.8 L1583.0,600.1 L1586.7,601.4 L1589.8,603.8 L1592.6,606.0 L1594.7,608.9 L1597.2,611.4 L1599.8,613.8 L1602.0,616.7 L1603.8,619.8 L1604.7,623.8 L1604.8,627.8"/>
<path d="M1615.8,464.0 L1615.3,467.2 L1615.6,470.4 L1615.8,473.6 L1616.2,476.8 L1615.8,480.0 L1613.9,482.7 L1611.7,485.2 L1610.1,488.2 L1607.7,490.6 L1605.4,493.0 L1603.8,495.9 L1601.9,498.5 L1599.7,500.9 L1597.9,503.5 L1595.8,505.9 L1599.8,509.9 L1596.6,511.7 L1593.1,512.5 L1589.8,513.9 L1590.6,516.9 L1590.0,520.0 L1590.3,523.0 L1590.6,526.0 L1591.0,529.0 L1591.8,531.9 L1592.6,535.4 L1592.7,538.9 L1593.0,542.4 L1593.8,545.9 L1595.8,548.6 L1597.6,551.6 L1599.6,554.4 L1602.2,556.8 L1603.8,559.9 L1605.1,562.9 L1604.9,566.4 L1605.7,569.6 L1606.7,572.7 L1607.8,575.9 L1608.7,579.9 L1609.8,583.9"/>
<path d="M1392.0,493.9 L1394.4,496.2 L1397.0,498.3 L1400.0,499.9 L1398.4,503.2 L1397.1,506.5 L1396.0,509.9 L1393.6,512.4 L1390.8,514.2 L1388.0,515.9 L1385.5,518.7 L1382.7,521.3 L1380.0,523.9"/>
<path d="M1380.0,535.9 L1382.9,534.2 L1386.2,533.2 L1389.3,531.9 L1392.0,529.9 L1396.0,529.8 L1400.0,530.3 L1404.0,529.9"/>
<path d="M661.6,257.4 L662.4,260.5 L663.0,263.7 L663.1,267.0 L663.8,270.2 L664.2,273.4 L665.8,276.4 L666.9,279.6 L668.2,282.7 L671.6,285.4 L674.9,288.1 L678.0,290.4 L680.3,293.4 L681.6,296.9 L682.1,300.5 L682.9,304.1 L683.6,307.7 L684.3,311.3 L685.6,314.8"/>
<path d="M626.8,309.4 L630.9,310.7 L634.9,312.1 L636.7,315.9 L637.5,320.1 L638.9,323.9 L641.6,327.0 L642.9,330.8 L644.9,334.2 L646.3,338.0 L648.2,341.5 L650.9,344.2 L653.5,346.8 L657.6,347.9 L661.6,349.5 L664.1,352.3 L667.2,354.6 L669.6,357.5 L671.6,360.4 L674.5,362.5 L676.2,365.5 L678.9,367.8 L680.9,370.7 L682.9,373.5 L686.8,375.9 L690.9,377.6 L694.8,379.9 L699.0,381.6 L701.3,384.0 L704.3,385.6"/>
<path d="M616.2,341.5 L615.8,345.1 L614.8,348.6 L614.8,352.2 L616.9,356.1 L618.8,360.2 L620.1,364.2 L621.5,368.2"/>
<path d="M689.6,330.8 L689.4,334.1 L688.4,337.2 L688.3,340.5 L687.0,343.6 L686.9,346.8 L687.5,350.2 L687.1,353.6 L687.9,356.9 L688.3,360.2 L690.2,363.7 L691.7,367.4 L693.6,370.9 L695.7,374.3 L697.2,378.0 L699.0,381.6"/>
<path d="M546.7,384.2 L546.3,387.4 L546.1,390.5 L545.4,393.6 L546.6,396.6 L547.1,399.7 L547.0,403.0 L548.0,406.0"/>
<path d="M946.7,324.1 L947.5,327.1 L948.0,330.2 L948.1,333.4 L950.0,336.0 L951.8,338.7 L953.4,341.4 L952.4,345.0 L952.0,348.7 L950.7,352.1 L947.8,354.5 L945.6,357.7 L942.7,360.1 L940.8,362.7 L939.0,365.4 L937.4,368.1 L935.8,372.1 L934.7,376.2 L932.6,379.6 L931.0,383.2 L929.4,386.8 L928.5,390.6 L926.9,394.0 L925.4,397.5 L927.2,401.4 L928.0,405.5 L928.2,409.6 L929.4,413.5"/>
<path d="M921.4,424.2 L923.8,426.7 L925.7,429.6 L928.0,432.2 L928.6,435.8 L929.9,439.2 L930.6,442.7 L932.1,446.0"/>
<path d="M792.9,346.2 L790.3,348.0 L788.1,350.2 L784.8,350.7 L781.7,351.8 L776.9,352.6 L773.7,350.2 L770.5,347.0 L766.9,347.4 L763.3,347.0"/>
<path d="M820.2,317.3 L823.3,318.3 L826.6,318.1 L829.5,315.5 L833.2,314.1 L836.2,311.7 L840.0,311.7"/>
<path d="M810.6,284.4 L813.6,285.7 L817.0,286.0 L821.0,284.8 L825.0,283.6 L826.6,280.8 L828.2,278.0 L827.3,274.0 L826.6,270.0"/>
<path d="M544.7,387.1 L545.2,390.6 L545.6,394.1 L545.9,397.7 L547.0,400.6 L547.8,403.5 L548.7,406.5 L549.4,409.5 L550.1,412.7 L550.8,415.8 L551.8,418.9 L551.5,423.0 L551.8,427.2 L555.7,427.0 L559.6,425.8 L563.6,426.0 L565.6,428.7 L568.1,430.9 L570.7,433.1 L572.7,435.8 L574.2,439.0 L574.9,442.7 L576.6,446.0 L579.1,448.0 L582.3,448.8 L584.8,450.8 L587.8,449.5 L591.0,448.7 L594.2,448.4 L597.6,451.1 L601.3,453.1 L604.6,455.1 L607.2,457.8 L609.4,455.7 L611.1,453.1 L613.1,450.8 L616.2,449.1 L619.3,447.4 L622.5,446.0 L626.1,446.2 L629.6,446.0 L634.0,444.8 L637.9,442.5 L638.0,439.4 L637.8,436.4 L637.9,433.3 L637.9,430.2 L637.9,427.2 L638.8,423.9 L639.4,420.6 L640.8,417.5 L641.4,414.2 L643.8,409.5"/>
<path d="M643.8,409.5 L646.9,407.9 L650.0,406.1 L653.2,404.8 L656.2,404.2 L659.2,403.8 L662.1,403.2 L665.0,402.4 L668.2,402.7 L671.2,403.8 L674.4,403.6 L676.1,407.6 L676.8,411.8 L679.6,414.6 L682.4,417.2 L685.0,420.1 L685.7,423.4 L686.9,426.6 L688.6,429.5 L687.8,432.7 L686.5,435.7 L686.2,439.0 L687.4,442.3 L689.4,445.2 L690.9,448.4 L690.0,451.5 L689.0,454.6 L688.6,457.8 L686.4,460.4 L683.8,462.4 L681.5,464.9 L679.4,467.2 L676.6,468.6 L674.4,470.8 L673.0,473.7 L672.1,476.7 L668.6,478.1 L665.0,479.1 L664.3,482.6 L663.8,486.1 L664.3,489.7 L665.0,493.2"/>
<path d="M632.0,492.0 L635.5,491.2 L639.1,490.2 L642.5,489.0 L646.1,488.5 L649.5,490.2 L653.2,490.8 L657.9,493.2 L662.6,493.2"/>
<path d="M672.1,476.7 L675.1,478.3 L678.3,479.1 L681.5,480.2 L684.8,481.5 L688.0,483.0 L690.9,485.0 L692.3,489.2 L694.5,493.2 L693.5,497.1 L693.5,501.1 L693.3,505.0 L695.0,508.4 L695.7,512.1 L696.8,515.0 L697.5,518.1 L698.8,521.0 L699.9,523.9 L700.4,527.1"/>
<path d="M667.4,391.8 L672.1,389.4 L675.6,390.2 L679.2,390.6 L682.2,391.9 L685.5,391.8 L688.6,393.0 L690.2,395.7 L691.3,398.7 L693.3,401.2 L696.4,400.4 L699.6,400.1 L702.7,400.0 L704.7,397.7 L707.8,396.5 L709.8,394.2 L710.8,390.5 L712.2,387.1"/>
<path d="M1169.7,297.1 L1168.0,295.3 L1164.7,294.8 L1161.4,293.9 L1158.1,293.9 L1154.7,293.5 L1151.4,292.7 L1148.2,291.4 L1144.9,290.5 L1141.5,290.0"/>
<path d="M1150.3,349.1 L1153.1,350.9 L1155.5,353.2 L1158.0,355.3 L1160.8,357.0 L1163.6,358.8 L1166.2,361.1 L1169.4,362.4 L1172.4,364.1 L1174.9,367.0 L1177.7,369.4"/>
<path d="M1177.7,385.3 L1181.2,387.1 L1184.7,388.9 L1187.3,390.8 L1190.0,392.4"/>
<path d="M1035.9,700.6 L1037.2,697.5 L1038.0,694.2 L1038.0,688.8 L1042.3,688.8 L1046.0,686.7 L1046.6,683.5 L1047.6,680.3 L1050.8,675.5 L1049.7,670.1 L1045.5,669.1 L1043.9,666.4 L1043.7,663.2 L1044.4,660.0"/>
<path d="M832.8,497.5 L835.5,499.0 L838.6,499.6 L841.3,501.2 L844.3,501.9 L846.9,503.8 L849.8,504.7 L852.8,505.5 L855.6,506.8 L858.5,507.8 L861.8,508.8 L865.1,509.9 L868.2,511.5 L871.3,512.9 L874.5,512.2 L877.7,511.4 L880.5,509.6 L883.6,508.6 L886.7,507.8 L888.9,510.2 L891.5,512.1 L894.3,513.7 L897.0,515.5 L900.4,514.7 L903.9,514.9 L907.3,514.3 L910.6,513.3 L914.0,512.9 L917.5,512.9 L920.8,512.7 L923.9,511.5 L927.1,511.1 L930.3,510.3 L933.4,511.1 L936.5,511.6 L939.6,511.8 L942.7,512.1 L945.7,512.9 L947.4,510.1 L949.5,507.7 L951.7,505.4 L953.4,502.6 L952.2,499.0 L949.9,495.9 L948.3,492.4 L949.2,489.3 L950.7,486.3 L951.8,483.3 L951.9,479.9 L953.4,477.0 L951.3,474.5 L949.1,472.0 L947.4,469.2 L945.6,466.4 L943.2,464.2 L941.2,461.5 L939.2,458.9 L937.1,456.4 L934.8,454.0 L932.9,451.3 L932.7,448.2 L932.0,445.1 L930.9,442.2 L931.0,439.0 L930.3,435.9 L929.1,432.6 L929.0,429.0 L927.8,425.7"/>
<path d="M904.7,533.4 L908.0,532.4 L911.3,531.3 L914.4,529.7 L917.5,528.3 L920.8,526.9 L924.5,527.0 L927.8,525.7"/>
<path d="M884.2,566.8 L886.3,563.7 L888.4,560.6 L889.8,557.1 L891.9,554.0 L893.7,550.6 L895.3,547.1 L897.0,543.7 L895.8,540.0 L893.7,536.8 L891.9,533.4 L894.9,533.4 L898.0,532.9 L901.1,533.0 L904.2,533.2 L907.2,533.4"/>
<path d="M909.8,574.5 L911.8,577.0 L913.3,579.9 L915.4,582.3 L917.5,584.8 L916.9,588.0 L914.9,590.7 L914.7,594.1 L913.8,597.2 L912.4,600.2 L914.2,603.5 L916.0,606.9 L917.5,610.4 L918.9,614.0 L920.7,617.4 L922.6,620.7 L924.5,623.1 L926.4,625.6 L927.8,628.4 L929.7,630.8 L931.6,633.2 L932.9,636.1 L935.2,638.2 L938.1,639.4 L940.3,641.6 L943.0,643.1 L945.8,644.6 L948.3,646.3 L949.9,649.8 L951.4,653.4 L953.4,656.6"/>
<path d="M871.3,613.0 L873.1,615.8 L875.1,618.4 L877.5,620.6 L879.4,623.3 L881.6,625.8 L882.6,629.1 L884.0,632.3 L885.3,635.5 L886.7,638.6 L889.5,640.2 L891.7,642.8 L894.6,644.1 L897.0,646.3 L900.4,646.3 L903.8,646.0 L907.2,646.3 L908.3,643.0 L909.0,639.5 L909.8,636.1 L909.6,632.9 L909.0,629.9 L907.9,626.9 L907.5,623.8 L907.2,620.7 L908.2,617.6 L908.8,614.3 L909.8,611.3 L910.9,608.2 L912.4,605.3"/>
<path d="M850.8,602.7 L853.4,604.8 L855.6,607.4 L858.8,608.8 L861.4,610.9 L863.7,613.3 L866.2,615.6 L866.7,618.6 L867.8,621.6 L867.7,624.8 L868.3,627.9 L868.8,630.9 L869.1,634.0 L869.1,637.1 L868.8,640.2 L868.4,643.3 L868.8,646.3 L866.7,649.4 L864.7,652.6 L862.8,655.9 L861.1,659.2 L858.3,660.8 L855.1,661.0 L852.5,663.0 L849.5,663.9 L846.4,664.7 L843.7,666.3 L840.5,666.9 L837.2,667.9 L834.1,669.3 L830.7,670.2 L827.7,672.0"/>
<path d="M1004.8,523.2 L1008.3,521.8 L1011.7,520.0 L1015.0,518.0 L1018.0,516.8 L1021.1,515.8 L1024.4,515.5 L1027.4,514.0 L1030.4,512.9 L1032.7,509.8 L1033.5,505.9 L1035.6,502.6"/>
<path d="M999.6,628.4 L1003.0,629.6 L1006.4,630.6 L1009.9,630.9 L1013.1,628.8 L1016.8,627.6 L1020.2,625.8 L1023.6,625.9 L1027.0,625.9 L1030.4,625.8"/>
<path d="M1050.9,477.0 L1054.2,476.6 L1057.3,475.4 L1060.7,475.5 L1063.9,474.8 L1066.9,473.3 L1070.2,473.2 L1073.5,472.9 L1076.6,471.9 L1079.6,472.8 L1082.8,472.6 L1085.9,473.0 L1088.9,474.1 L1092.0,474.4 L1095.3,474.6 L1098.5,474.3 L1101.8,474.9 L1105.1,473.9 L1108.3,474.9 L1111.6,475.0 L1114.9,473.9 L1118.1,475.0 L1121.4,474.9 L1124.7,474.7 L1127.9,474.4"/>
<path d="M966.3,564.2 L969.5,564.6 L972.7,564.7 L975.9,564.6 L979.1,564.2 L981.8,562.3 L985.1,561.6 L987.9,559.8 L990.8,558.2 L993.6,556.6 L996.8,555.6 L999.6,554.0 L1001.6,550.7 L1003.5,547.4 L1004.8,543.7 L1003.6,540.4 L1001.2,537.8 L999.7,534.7 L999.0,531.2 L997.1,528.3"/>
<path d="M968.8,564.2 L969.4,567.3 L970.2,570.3 L970.4,573.5 L971.4,576.5 L971.4,579.6 L972.1,582.7 L972.2,585.8 L973.1,588.8 L973.6,591.9 L974.0,595.0 L974.6,598.2 L975.5,601.4 L976.7,604.4 L978.2,607.3 L979.1,610.4 L981.7,612.9 L983.9,615.9 L986.7,618.2 L989.4,620.7"/>
<path d="M532.5,620.6 L536.0,622.3 L539.8,623.1 L543.3,624.9 L546.4,625.9 L549.1,628.0 L552.5,628.5 L555.6,629.6 L558.4,631.4 L559.4,634.4 L559.7,637.6 L560.7,640.6 L562.5,643.4 L562.8,646.6 L562.5,649.7 L561.6,652.8 L560.9,655.8 L560.1,658.9 L560.0,662.1 L558.9,665.1 L558.4,668.2 L562.2,669.4 L565.8,670.8 L569.3,672.6 L572.2,670.9 L575.7,670.6 L578.6,669.1 L581.6,667.4 L584.8,666.7 L587.8,665.2 L590.9,663.9 L593.8,662.4 L596.4,660.5 L599.6,659.7 L602.3,657.9 L605.3,656.6 L608.2,655.2 L611.5,655.1 L614.7,654.9 L618.0,655.4 L621.2,655.2 L624.0,657.6 L626.8,659.8 L629.9,661.7 L633.0,661.8 L636.1,662.0 L639.1,661.3 L642.2,661.3 L645.3,661.2 L648.4,662.2 L651.5,661.7 L653.5,658.3 L654.3,654.5 L655.8,650.9 L658.5,649.1 L661.5,647.9 L664.6,646.7 L667.4,645.1 L670.3,643.8 L673.2,642.3 L671.2,638.9 L670.5,635.0 L668.8,631.4 L665.4,630.9 L662.5,628.7 L659.2,627.9 L655.8,627.1 L651.5,624.9"/>
<path d="M629.9,560.0 L627.9,562.3 L625.8,564.6 L623.0,566.1 L621.2,568.7 L623.3,571.0 L624.8,573.7 L626.7,576.3 L627.7,579.3 L629.9,581.6 L629.8,585.2 L630.6,588.6 L631.0,592.1 L631.7,595.5 L632.0,599.0 L632.4,602.0 L633.3,605.0 L632.9,608.1 L633.3,611.1 L634.2,614.1 L637.1,615.9 L639.9,617.8 L642.9,619.5 L645.5,621.7 L648.8,622.9 L651.5,624.9"/>
<path d="M666.7,629.3 L669.2,627.0 L672.0,625.2 L675.3,624.1 L677.9,622.0 L680.3,619.5 L683.1,617.7 L686.1,616.3 L689.6,615.5 L693.1,615.6 L696.6,615.3 L700.0,614.8 L703.5,614.1"/>
<path d="M558.4,668.2 L557.1,671.6 L556.6,675.1 L555.8,678.6 L554.9,682.0 L554.1,685.5 L554.5,688.7 L555.9,691.6 L556.9,694.6 L557.7,697.6 L558.4,700.7 L557.7,703.8 L556.4,706.7 L555.3,709.6 L554.5,712.7 L554.1,715.8 L553.5,719.4 L552.5,722.8 L551.1,726.1 L550.9,729.7 L549.8,733.2"/>
<path d="M625.5,750.5 L628.1,752.2 L630.8,753.8 L633.6,755.2 L636.1,757.1 L638.5,759.1 L639.5,762.2 L641.0,765.1 L642.9,767.8 L645.1,770.1 L646.3,773.0 L647.6,775.9 L649.9,778.1 L651.5,780.8 L653.9,782.7 L655.9,785.0 L658.2,787.1 L659.8,789.8 L662.7,791.3 L664.5,793.8 L666.7,795.9 L668.7,798.3 L670.9,800.4 L673.0,802.6 L675.4,804.5 L677.8,806.5 L679.7,808.9 L681.5,812.4 L683.0,816.0 L684.0,819.7"/>
<path d="M651.5,661.7 L652.9,664.6 L653.6,667.7 L653.9,670.9 L655.2,673.8 L655.8,676.9 L658.3,679.1 L661.1,681.0 L663.8,682.9 L666.0,685.4 L668.6,687.5 L671.0,689.9 L672.2,693.6 L673.7,697.2 L675.3,700.7 L671.0,701.7 L666.7,702.9 L667.8,706.0 L667.4,709.4 L668.1,712.6 L668.8,715.8 L670.2,719.0 L671.6,722.2 L671.8,725.7 L673.2,728.8 L673.0,731.9 L671.8,734.8 L671.9,737.9 L671.9,741.0 L671.0,744.0 L672.6,746.7 L674.7,749.1 L675.5,752.3 L677.5,754.8 L680.9,755.7 L684.4,756.7 L687.8,757.8 L691.5,757.7 L694.8,759.1 L697.9,759.3 L701.0,758.3 L704.1,758.1 L707.2,757.7 L710.2,757.4 L713.4,757.8 L716.5,757.0 L719.5,757.3 L722.7,757.1 L725.8,757.6 L728.9,757.8 L731.9,758.8 L735.0,758.4 L738.1,759.1 L741.7,759.5 L745.3,759.2 L748.9,759.1"/>
<path d="M582.3,560.0 L585.6,561.5 L588.6,563.6 L591.8,565.2 L595.2,566.5 L598.7,565.7 L602.2,565.7 L605.7,565.7 L609.0,564.2 L612.6,564.3 L615.7,565.3 L618.3,567.3 L621.2,568.7"/>
<path d="M1137.0,284.1 L1137.8,287.0 L1139.1,289.8 L1139.9,292.7 L1141.3,295.4 L1142.3,298.2 L1145.3,300.0 L1147.8,302.4 L1150.4,304.7 L1152.9,307.0 L1155.6,305.6 L1158.4,304.4 L1161.5,304.1 L1164.1,302.4 L1167.0,301.7 L1168.1,304.8 L1168.4,308.0 L1170.1,310.9 L1170.6,314.1 L1172.4,316.6 L1174.6,318.9 L1177.5,320.4 L1179.4,322.9"/>
<path d="M1188.2,271.8 L1191.7,270.8 L1195.3,270.0 L1196.1,273.1 L1196.6,276.3 L1198.1,279.2 L1198.8,282.3 L1196.9,285.6 L1194.1,288.2 L1191.7,291.2 L1195.3,291.7 L1198.8,292.9 L1202.3,291.1 L1205.8,289.4 L1209.5,287.9 L1212.9,285.9"/>
<path d="M1227.0,315.9 L1230.0,315.2 L1232.6,313.6 L1235.4,312.5 L1238.4,312.0 L1241.1,310.6 L1243.9,312.0 L1246.9,313.1 L1249.9,314.1 L1252.7,317.5 L1255.2,321.1 L1258.2,322.3 L1261.0,323.7 L1264.1,324.7 L1267.2,324.6 L1270.2,325.4 L1273.3,326.1 L1276.4,326.4 L1280.9,326.0 L1285.2,324.7 L1289.7,325.4 L1294.0,326.4 L1297.5,327.6 L1301.1,327.7 L1304.6,328.2 L1308.2,329.8 L1311.7,331.7 L1315.1,330.1 L1318.7,329.4 L1322.3,328.2 L1325.4,327.5 L1328.5,326.6 L1331.5,325.3 L1334.6,324.7"/>
<path d="M1334.6,298.2 L1336.2,301.0 L1336.5,304.3 L1338.1,307.0 L1337.1,310.0 L1337.5,313.2 L1336.7,316.3 L1336.4,319.4 L1334.6,324.7 L1337.6,326.6 L1340.9,328.0 L1344.0,329.7 L1347.0,331.7 L1350.4,330.8 L1354.0,330.9 L1357.5,330.0 L1361.1,330.0 L1363.2,332.2 L1365.5,334.3 L1368.0,336.3 L1369.9,338.8 L1372.1,341.3 L1374.3,343.8 L1376.9,345.8 L1380.0,347.7 L1383.0,349.6 L1386.0,351.5 L1389.3,352.9 L1392.1,354.4 L1394.3,356.8 L1397.4,358.0 L1399.9,360.0 L1402.5,361.7 L1405.0,363.7 L1407.7,365.4 L1410.5,367.0 L1413.5,368.6 L1417.0,368.9 L1420.0,370.5"/>
<path d="M1276.4,326.4 L1277.3,329.5 L1278.0,332.7 L1279.2,335.6 L1279.9,338.8 L1282.2,341.3 L1284.3,343.8 L1287.0,345.8 L1284.2,348.5 L1282.4,351.8 L1279.9,354.7 L1278.3,357.4 L1277.4,360.5 L1276.4,363.5 L1272.8,363.1 L1269.3,362.8 L1265.8,361.7 L1262.2,363.4 L1258.9,365.4 L1255.2,367.0 L1252.5,369.0 L1250.1,371.3 L1248.2,374.1 L1251.7,377.6 L1255.3,378.4 L1258.8,379.4 L1255.2,379.8 L1251.7,380.7 L1248.2,381.1 L1244.8,383.2 L1241.1,384.6"/>
<path d="M1276.4,363.5 L1278.7,365.8 L1280.7,368.6 L1283.5,370.5 L1286.8,372.7 L1290.5,374.1 L1294.0,375.5 L1297.5,376.6 L1301.1,377.6 L1304.7,377.9 L1308.2,378.4 L1311.7,379.4 L1310.5,382.3 L1309.9,385.5 L1308.9,388.6 L1308.1,391.7 L1306.1,395.1 L1304.9,398.9 L1302.9,402.3 L1302.7,405.8 L1301.9,409.3 L1301.7,412.9 L1301.1,416.4"/>
<path d="M1311.7,375.8 L1315.2,377.0 L1318.8,378.1 L1322.3,379.4 L1326.7,378.8 L1331.1,377.6 L1332.5,380.7 L1334.8,383.4 L1336.4,386.4 L1339.0,388.7 L1341.4,391.1 L1344.2,393.2 L1347.0,395.2 L1349.2,399.1 L1352.2,402.3"/>
<path d="M1376.9,345.8 L1377.6,349.0 L1379.1,351.8 L1380.5,354.7 L1380.6,358.2 L1381.7,361.7 L1381.9,365.2 L1382.2,368.8 L1383.4,372.3 L1385.0,375.7 L1385.8,379.4 L1385.1,382.9 L1384.7,386.4 L1384.0,389.9"/>
<path d="M1158.2,352.9 L1160.8,355.2 L1162.3,358.5 L1164.8,360.9 L1167.0,363.5 L1169.3,366.5 L1172.0,369.1 L1174.1,372.3 L1176.5,375.2 L1179.0,378.0 L1181.1,381.1 L1183.6,383.2 L1186.7,384.2 L1189.1,386.4 L1191.7,388.2 L1195.4,387.7 L1198.8,386.4 L1202.2,388.4 L1205.8,389.9 L1209.2,387.8 L1212.9,386.4"/>
<path d="M1195.3,391.7 L1194.5,395.3 L1193.5,398.8 L1194.9,401.6 L1195.8,404.7 L1197.0,407.6 L1200.6,410.1 L1204.1,412.9"/>
<path d="M1255.2,416.4 L1258.9,416.4 L1262.3,417.5 L1265.8,418.2 L1269.4,417.6 L1272.9,417.1 L1276.4,416.4 L1279.5,416.0 L1282.6,416.0 L1285.7,416.1 L1288.7,415.9 L1291.8,416.3 L1294.9,416.6 L1298.0,416.2 L1301.1,416.4 L1304.6,418.3 L1308.1,420.0 L1311.7,421.7"/>
<path d="M878.8,235.1 L877.6,238.9 L877.3,242.9 L875.9,246.6 L878.6,249.3 L881.5,251.6 L884.5,253.8 L884.7,258.3 L886.0,262.5 L883.1,264.0 L880.4,265.7 L877.1,266.5 L874.4,268.3 L874.1,271.4 L873.5,274.5 L872.8,277.6 L871.7,280.6 L871.9,283.9 L871.0,286.9 L870.1,289.9 L868.4,293.1 L866.8,296.3 L866.0,299.8 L864.3,302.9 L860.0,304.4"/>
<path d="M860.0,269.7 L864.4,269.2 L868.7,268.3 L872.1,267.3 L875.6,266.5 L879.0,265.5 L882.6,265.2 L886.0,263.9 L889.9,264.6 L893.7,266.0 L897.5,266.8 L900.3,268.1 L903.2,269.2 L906.2,269.7 L909.1,270.8 L912.1,271.6 L914.7,273.3 L917.7,274.0 L921.7,273.9 L925.5,274.5 L929.3,275.5 L933.3,276.0 L937.1,277.2 L940.8,278.4 L944.4,276.8 L947.4,274.3 L950.9,272.6 L953.2,270.0 L954.8,267.0 L956.6,264.1 L958.2,261.1 L961.2,260.6 L963.9,259.1 L966.8,258.2"/>
<path d="M950.9,272.6 L953.2,274.8 L956.3,275.8 L958.7,277.8 L961.1,279.8 L963.7,282.5 L966.7,284.8 L969.7,287.0 L972.4,289.2 L975.7,290.6 L978.4,292.8 L979.1,297.1 L979.8,301.5 L983.2,301.3 L986.6,300.9 L989.9,301.5 L992.6,303.7 L995.8,305.1 L998.6,307.2 L1002.5,307.8 L1006.3,309.2 L1010.1,310.1 L1013.0,312.0 L1016.2,313.6 L1018.8,315.9 L1021.6,317.1 L1024.5,318.1 L1027.5,318.8"/>
<path d="M978.4,301.5 L975.3,301.9 L972.6,303.3 L969.7,304.4 L967.6,307.2 L965.8,310.1 L963.9,313.0 L961.2,315.2 L958.0,316.6 L955.3,318.8 L952.2,319.9 L949.7,322.0 L946.6,323.1 L942.8,323.1 L938.9,323.4 L935.1,323.1 L931.4,322.9 L927.9,324.0 L924.2,323.7 L920.6,324.6 L917.1,324.7 L913.7,325.5 L910.3,326.9 L906.9,327.5 L903.3,327.5 L899.5,328.5 L895.6,329.4 L891.8,330.3 L889.0,328.3 L886.1,326.7 L883.0,325.2 L880.0,323.8 L877.3,321.7 L876.4,324.7 L876.8,327.9 L876.3,330.9 L875.6,333.9 L875.2,337.0 L874.4,340.0"/>
<path d="M946.6,323.1 L946.3,326.6 L947.6,329.8 L947.2,333.3 L947.7,336.7 L948.1,340.0"/>
<path d="M581.6,450.3 L584.8,451.3 L587.8,452.6 L590.8,454.1 L594.0,454.9 L597.2,455.8 L600.1,457.4 L603.4,458.0 L606.4,456.8 L608.8,454.7 L611.8,453.9 L614.2,451.7 L617.4,451.1 L619.8,448.8 L622.7,447.7 L626.0,446.6 L628.8,444.5 L631.8,442.8 L634.8,441.2 L638.1,440.0"/>
<path d="M1043.7,557.5 L1043.3,560.7 L1043.6,564.0 L1043.4,567.2 L1043.8,570.4 L1043.1,573.6 L1043.6,576.8 L1043.7,580.0 L1044.1,583.1 L1045.4,585.9 L1045.9,589.0 L1047.6,591.9 L1048.5,595.3 L1049.9,598.4 L1051.5,601.3 L1050.0,604.0 L1049.3,607.0 L1048.9,610.9 L1048.2,614.8 L1045.0,615.1 L1041.8,615.0 L1038.6,615.2 L1035.5,615.2 L1032.3,615.2 L1029.1,614.8 L1028.9,618.2 L1029.2,621.6 L1029.7,624.9 L1030.2,628.3 L1032.2,631.4 L1032.7,635.2 L1034.7,638.4 L1035.1,641.5 L1036.8,644.1 L1037.5,647.1 L1038.5,650.0 L1039.2,653.0 L1041.0,655.6 L1043.0,658.2 L1044.8,660.9 L1045.7,664.7 L1046.9,668.4 L1048.2,672.1 L1050.4,676.6 L1047.7,679.2 L1045.7,682.4 L1043.7,685.6 L1040.3,690.1 L1039.4,693.1 L1037.9,696.0 L1037.0,699.0"/>
<path d="M1010.0,629.4 L1013.0,628.5 L1016.0,628.1 L1019.0,627.2 L1022.7,627.5 L1026.4,628.2 L1030.2,628.3"/>
</g>
<g fill="none" stroke="#262626" stroke-width="1.35" stroke-linejoin="round">
<path d="M519.8,393.6 L517.0,395.0 L514.5,396.9 L511.1,396.9 L508.7,399.0 L505.8,400.0 L503.1,400.7 L500.5,401.5 L497.8,401.4 L495.2,402.5 L492.6,403.1 L489.8,403.0 L488.5,405.4 L487.0,407.6 L485.8,410.0 L482.9,411.0 L479.8,410.9 L476.8,411.7 L473.8,412.0 L470.8,412.6 L468.8,415.3 L465.8,416.0 L465.0,413.3 L462.7,411.6 L461.3,409.2 L459.8,407.0 L457.1,406.8 L454.9,405.1 L452.2,405.2 L449.8,404.0 L447.4,405.2 L445.1,406.7 L442.4,407.2 L439.8,408.0 L437.3,409.0 L435.3,410.7 L433.8,413.0 L431.2,412.2 L428.4,413.1 L425.8,412.0 L424.4,409.0 L422.3,406.6 L420.2,404.2 L417.9,402.0 L413.9,400.0 L411.2,398.8 L408.7,397.3 L406.6,395.3 L404.6,393.0 L401.9,392.0 L399.5,390.7 L397.3,389.2 L394.5,388.8 L392.3,387.2 L389.9,386.0 L387.3,387.5 L384.8,389.1 L382.4,391.0 L380.6,393.6 L377.9,395.0 L374.9,395.4 L372.5,397.4 L369.3,397.5 L366.7,398.9 L363.9,400.0 L362.3,402.4 L359.8,403.9 L357.9,406.0 L355.4,407.4 L353.9,410.0 L352.5,413.0 L350.4,415.3 L347.3,416.9 L345.9,420.0 L344.3,422.0 L344.1,424.9 L342.8,427.2 L341.2,429.3 L340.6,431.9 L338.9,433.9 L337.5,436.8 L336.3,439.7 L333.9,441.9 L332.4,444.6 L332.2,447.8 L329.6,450.0 L328.5,452.8 L327.9,455.9 L326.0,458.2 L324.5,460.7 L323.6,463.5 L321.9,465.9 L320.5,468.2 L319.2,470.5 L318.4,473.1 L317.8,475.8 L316.0,477.9 L315.1,480.7 L315.0,483.6 L314.0,486.3 L313.7,489.1 L313.0,491.9 L312.2,494.6 L313.5,497.4 L312.5,500.1 L313.0,502.9 L311.0,504.7 L309.6,506.8 L308.0,508.9 L305.3,511.0 L302.0,511.9 L300.4,514.3 L297.4,515.3 L296.3,518.2 L294.4,520.3 L292.0,521.9 L291.1,524.4 L289.5,526.6 L288.4,529.0 L287.9,531.8 L286.0,533.8 L286.1,537.3 L284.7,540.5 L284.0,543.8 L283.5,547.0 L281.8,549.8 L280.5,552.7 L280.0,555.8 L281.9,558.6 L282.5,561.8 L283.9,564.8 L285.0,567.8 L286.2,570.7 L287.7,573.5 L290.0,575.8 L291.1,578.2 L292.4,580.6 L292.4,583.5 L294.0,585.8 L296.0,588.1 L296.9,591.0 L298.0,593.8 L301.0,597.8"/>
<path d="M313.0,502.3 L315.7,501.5 L318.3,500.5 L321.3,500.8 L323.9,499.9 L326.6,499.6 L329.2,498.9 L331.9,498.9 L334.6,499.1 L337.2,498.3 L339.9,498.3 L342.9,498.3 L345.5,499.7 L348.5,499.9 L351.1,501.4 L353.9,501.9 L356.7,502.9 L358.9,504.9 L361.7,503.5 L365.1,503.9 L367.8,502.2 L370.8,501.3 L373.9,500.9 L376.6,499.9 L379.3,499.2 L382.0,498.2 L384.7,497.4 L387.1,495.5 L389.9,494.9 L392.3,493.3 L394.8,491.7 L397.4,490.4 L399.9,488.9 L402.0,486.7 L404.0,484.5 L405.3,481.7 L407.9,479.9 L408.7,477.2 L410.2,474.7 L410.9,471.9 L414.6,472.1 L417.9,473.9 L421.8,475.9"/>
<path d="M421.8,473.9 L421.4,476.9 L421.5,479.9 L422.0,482.9 L421.8,485.9 L420.2,487.9 L418.7,490.2 L416.4,491.6 L415.0,493.9 L413.6,496.1 L412.2,498.4 L409.9,499.9 L407.5,501.8 L404.5,502.8 L402.2,504.9 L399.9,506.9 L398.2,509.3 L396.9,511.9 L398.6,514.1 L401.7,514.4 L403.4,516.8 L406.0,517.8 L407.9,519.9 L410.0,522.8 L411.9,525.9 L410.2,528.2 L408.0,530.0 L405.9,531.8 L403.3,534.1 L401.6,536.9 L399.9,539.8 L400.3,542.6 L402.5,544.6 L403.2,547.2 L403.9,549.8 L406.0,551.5 L409.0,551.5 L411.3,553.0 L413.8,554.0 L415.9,555.8 L417.4,558.7 L420.2,560.5 L421.9,563.2 L423.8,565.8 L425.6,568.5 L426.5,571.6 L426.8,574.8 L427.8,577.8 L428.6,580.4 L430.5,582.5 L431.7,584.9 L433.3,587.0 L433.8,589.8 L434.9,592.5 L435.2,595.3 L435.5,598.1 L435.3,601.0 L435.8,603.8 L438.8,604.2 L441.6,605.2"/>
<path d="M435.8,413.0 L433.5,414.6 L432.8,417.5 L430.4,419.1 L429.7,422.0 L427.5,423.8 L425.8,426.0 L428.7,425.6 L431.5,425.4 L434.2,424.6 L437.0,424.4 L439.8,424.0 L440.8,426.5 L443.0,428.3 L443.8,430.9 L446.8,432.2 L449.8,433.6 L452.6,435.1 L455.8,435.9 L458.2,437.5 L459.8,439.9 L458.4,442.3 L457.5,444.9 L455.1,446.5 L453.8,448.9 L451.9,451.0 L451.4,453.7 L449.8,455.9 L449.6,458.7 L450.2,461.3 L450.8,463.9 L453.2,466.1 L454.2,469.2 L455.8,471.9 L457.7,474.0 L458.5,476.6 L459.0,479.3 L461.2,481.2 L461.8,483.9 L464.8,483.5 L467.7,482.2 L470.7,481.7 L473.8,481.9 L476.5,481.4 L478.3,478.9 L480.7,477.8 L483.7,477.8 L485.8,475.9 L488.2,474.6 L490.6,473.5 L493.0,472.3 L495.8,471.9 L499.1,471.2 L502.3,469.8 L505.8,469.9 L508.7,471.5 L511.4,473.5 L513.8,475.9 L515.9,477.8 L518.9,478.6 L520.9,480.8 L523.6,481.9 L525.7,483.9 L527.9,485.7 L530.4,486.7 L533.0,487.6 L535.7,487.9 L538.2,489.2 L541.0,489.3 L543.7,489.9 L545.2,492.4 L547.6,494.1 L549.7,495.9 L552.5,496.9 L554.5,499.2 L556.9,500.9 L559.7,501.9 L562.9,500.4 L566.3,500.0 L569.7,499.9 L572.9,499.3 L575.8,498.3 L578.7,497.0 L581.7,495.9"/>
<path d="M581.7,495.9 L581.0,493.2 L581.1,490.4 L581.0,487.7 L582.1,485.0 L580.8,482.3 L580.9,479.5 L581.4,476.8 L581.2,474.1 L581.0,471.4 L581.0,468.6 L580.7,465.9 L583.8,466.2 L586.8,465.9 L589.7,464.9 L592.4,465.7 L594.9,467.0 L596.5,469.7 L598.9,471.1 L601.7,471.9 L604.5,473.7 L607.1,475.8 L609.7,477.9 L610.7,480.4 L612.4,482.5 L614.2,484.6 L615.4,487.0 L616.6,489.4 L617.7,491.9 L619.2,494.0 L621.4,495.5 L622.3,498.1 L623.7,500.4 L626.1,501.8 L627.6,503.9 L630.0,505.6 L632.3,507.3 L634.6,509.1 L637.1,510.5 L639.6,511.9"/>
<path d="M559.7,501.9 L557.7,503.5 L555.5,504.9 L554.2,507.5 L551.2,508.0 L549.3,509.7 L547.7,511.9 L546.1,514.4 L545.5,517.4 L543.5,519.8 L543.1,522.9 L541.2,525.3 L539.7,527.9 L539.2,531.0 L537.7,533.8 L539.7,535.6 L542.0,536.9 L544.2,538.3 L545.4,540.9 L548.0,541.8 L549.7,543.8 L551.7,545.6 L554.3,546.6 L555.6,549.1 L557.4,551.1 L559.4,552.8 L561.9,553.9 L563.7,555.8 L562.6,558.6 L560.4,560.5 L559.2,563.2 L557.6,565.6 L555.7,567.8 L554.8,570.4 L553.2,572.6 L551.4,574.7 L550.5,577.2 L548.8,579.3 L547.7,581.8 L545.7,583.9 L544.0,586.2 L542.6,588.7 L540.4,590.6 L539.4,593.5 L537.7,595.8 L536.3,598.1 L534.8,600.3 L533.0,602.4 L532.1,604.9 L530.5,607.1 L529.7,609.8 L530.0,612.6 L529.3,615.3 L528.5,618.0 L528.2,620.7 L527.8,623.4 L528.4,626.3 L527.7,629.0"/>
<path d="M365.9,702.9 L368.4,703.8 L370.7,705.0 L372.9,706.3 L375.5,707.0 L378.0,707.7 L380.2,709.2 L382.3,710.8 L385.1,710.9 L387.1,712.7 L389.9,713.1 L391.9,714.9 L392.7,717.5 L395.0,719.3 L395.8,721.9 L397.8,723.9 L398.5,726.6 L399.9,728.9 L400.9,731.4 L402.1,733.8 L403.7,736.0 L405.0,738.4 L407.7,739.8 L408.0,742.9 L409.9,744.9 L412.1,746.8 L412.5,750.0 L414.0,752.5 L415.9,754.7 L417.9,756.8 L420.2,758.2 L422.5,759.6 L425.4,759.8 L427.2,762.2 L429.8,762.8 L432.4,765.1 L434.2,767.9 L435.8,770.8 L437.7,773.1 L438.6,776.0 L440.5,778.2 L441.8,780.8 L444.5,781.3 L447.2,782.2 L449.8,782.8 L452.0,785.2 L454.5,787.3 L456.9,789.3 L459.8,790.8 L462.5,792.5 L465.3,794.2 L467.7,796.3 L469.8,798.8 L472.3,801.1 L473.5,804.4 L475.8,806.8 L478.6,807.1 L480.6,809.2 L483.6,809.0 L485.8,810.8 L488.5,811.9 L491.5,812.0 L494.1,813.4 L496.9,814.4 L499.8,814.8 L502.6,815.3 L505.6,814.6 L508.4,814.8 L511.2,815.7 L514.0,816.9 L516.9,816.4 L519.8,816.8 L522.6,816.4 L525.5,816.7 L528.3,817.3 L531.2,816.3 L534.0,816.1 L536.9,817.5 L539.7,816.8 L542.2,815.7 L544.7,814.7 L547.1,813.5 L549.7,812.8 L552.5,813.0 L554.9,814.7 L557.6,815.3 L560.5,815.1 L562.9,816.5 L565.7,816.8 L568.2,818.0 L571.1,817.6 L573.5,819.1 L576.5,818.1 L578.9,819.9 L581.7,819.8 L584.2,820.9 L587.1,820.4 L589.8,820.9 L592.4,821.4 L595.1,821.7 L597.7,822.8 L600.6,823.8 L603.6,824.1 L606.6,824.8 L609.7,824.8 L612.5,825.6 L615.4,825.5 L618.4,825.8 L621.2,826.7 L623.8,828.1 L626.9,827.4 L629.6,828.8 L632.5,828.4 L635.4,827.7 L638.2,827.2 L641.1,826.9 L644.0,826.8"/>
<path d="M441.8,605.0 L442.3,608.4 L443.7,611.5 L443.8,615.0 L443.6,617.9 L441.7,620.4 L441.0,623.3 L440.9,626.2 L439.8,629.0 L438.2,631.9 L435.7,634.2 L433.8,637.0 L431.2,639.2 L429.4,642.0 L427.8,645.0 L424.9,646.1 L421.8,646.7 L418.9,648.2 L415.9,649.0 L414.5,651.8 L413.9,655.0 L411.8,656.9 L409.9,658.9 L407.0,660.2 L403.8,659.7 L400.8,659.8 L397.9,660.9 L395.2,662.3 L392.8,664.1 L389.9,664.9 L388.1,667.2 L385.9,668.9 L387.7,671.4 L388.0,674.5 L389.9,676.9 L392.7,679.3 L395.9,680.9 L393.1,683.2 L389.9,684.9 L387.6,687.2 L384.9,688.9 L383.9,692.9"/>
<path d="M529.7,605.0 L530.0,607.7 L529.2,610.3 L527.9,612.9 L528.0,615.6 L527.3,618.2 L527.7,621.0 L528.8,623.6 L527.7,626.4 L528.0,629.1 L528.5,631.7 L530.0,634.2 L529.7,637.0 L527.3,638.5 L525.2,640.4 L523.5,642.7 L521.7,645.0 L519.7,646.9 L517.9,649.1 L515.8,651.0 L514.1,653.7 L513.8,656.9 L511.3,658.4 L509.1,660.4 L507.0,662.3 L504.6,664.0 L501.8,664.9 L504.2,667.2 L507.3,668.7 L509.8,670.9 L511.3,673.2 L512.1,675.8 L512.8,678.4 L513.8,680.9 L512.8,683.6 L513.0,686.5 L513.2,689.4 L511.6,692.0 L511.8,694.9 L514.1,696.7 L516.7,698.0 L518.9,700.0 L521.7,700.9 L523.9,703.5 L525.9,706.1 L527.7,708.9 L528.2,711.7 L526.7,714.2 L526.5,716.9 L525.7,719.5 L526.9,722.3 L525.7,724.9 L525.9,727.5 L525.9,730.2 L525.9,732.9 L526.5,735.5 L525.2,738.2 L525.7,740.9 L526.0,744.0 L524.5,746.8 L524.6,749.9 L523.7,752.9 L521.8,754.9 L519.3,756.4 L518.1,759.2 L515.7,760.8 L513.8,762.8 L511.0,765.2 L507.8,766.8 L505.6,768.7 L503.8,770.8 L501.7,772.8 L499.6,774.6 L498.3,777.3 L495.6,778.7 L493.6,780.6 L492.3,783.3 L489.8,784.8 L487.2,786.3 L485.4,788.4 L483.8,790.8 L482.6,793.4 L482.0,796.0 L481.8,798.8 L479.8,801.1 L477.3,803.0 L475.8,805.8"/>
<path d="M691.9,249.9 L695.9,246.9 L697.3,244.0 L697.6,240.8 L698.3,237.7 L699.9,234.9 L701.2,232.0 L701.8,228.9 L703.5,226.1 L703.9,222.9 L706.2,221.4 L709.1,221.5 L711.6,220.5 L713.9,218.9 L715.6,216.6 L717.6,214.6 L719.9,212.9 L722.1,211.1 L723.7,208.7 L725.9,206.9 L727.9,205.0 L730.6,203.0 L733.1,200.8 L735.9,199.0 L736.7,196.0 L738.2,193.5 L739.9,191.0 L742.3,189.3 L743.9,187.0 L747.3,186.8 L750.4,185.0 L753.9,185.0 L756.3,186.3 L758.6,187.6 L761.3,188.1 L763.9,189.0 L766.8,190.0 L769.9,189.6 L772.9,189.7 L775.9,190.0 L778.5,190.1 L781.2,190.8 L783.9,191.0 L786.5,191.9 L789.0,193.1 L791.8,193.0 L794.2,191.1 L797.0,190.0 L799.8,189.0 L802.8,189.6 L805.8,189.0 L808.6,189.3 L811.4,188.6 L814.2,189.1 L817.0,188.2 L819.8,189.0 L822.7,188.4 L825.5,188.2 L828.4,189.6 L831.2,188.3 L834.1,188.7 L836.9,188.7 L839.8,189.0 L841.5,192.1 L843.8,195.0 L844.5,197.6 L844.6,200.3 L844.4,203.0 L843.7,205.6 L844.0,208.3 L843.8,210.9 L843.1,213.9 L841.5,216.4 L839.8,218.9 L841.2,221.8 L841.4,225.1 L842.5,228.0 L843.8,230.9 L847.2,232.2 L849.8,234.9 L852.5,234.7 L854.6,232.8 L857.2,232.5 L859.8,231.9 L862.4,230.8 L864.8,229.2 L867.8,228.9 L871.8,230.9 L875.8,232.9 L879.0,231.9 L882.5,232.7 L885.8,231.9 L888.6,230.5 L891.3,229.0 L893.7,226.9 L895.5,224.2 L896.4,221.1 L896.4,217.8 L897.7,214.9 L899.9,213.1 L901.9,211.1 L903.7,208.9 L903.9,205.5 L905.5,202.4 L905.7,199.0 L908.2,197.5 L909.8,195.1 L911.7,193.0 L915.0,191.4 L917.7,189.0 L920.8,189.1 L923.6,190.5 L926.8,190.2 L929.7,191.0 L932.0,189.2 L934.8,188.1 L937.3,186.6 L939.7,185.0 L940.6,182.5 L942.2,180.2 L943.1,177.6 L943.7,175.0 L946.4,173.7 L949.3,172.9 L951.7,171.0 L954.3,169.5 L956.9,168.2 L959.7,167.0 L962.3,165.6 L963.7,163.0"/>
<path d="M763.9,396.0 L762.2,398.5 L761.8,401.6 L759.9,404.0 L759.3,406.6 L760.2,409.3 L759.1,412.0 L759.7,414.6 L759.4,417.3 L759.9,420.0 L761.0,423.2 L760.9,426.7 L761.9,430.0 L763.7,432.1 L766.0,433.8 L767.8,436.0 L769.8,438.0 L771.9,439.9 L773.4,443.0 L775.2,445.8 L777.9,447.9 L778.6,450.6 L780.3,452.7 L782.1,454.8 L782.5,457.6 L783.9,459.9 L784.1,462.7 L786.3,464.7 L787.4,467.2 L787.9,469.9 L790.2,467.5 L792.8,465.4 L795.8,463.9 L799.8,461.9 L801.8,464.9 L803.8,467.9 L806.7,468.8 L808.9,471.2 L811.8,471.9 L814.6,472.2 L817.2,471.9 L819.8,470.9 L823.1,471.6 L826.5,472.2 L829.8,472.9 L830.5,470.4 L830.5,467.7 L831.1,465.1 L830.7,462.4 L831.8,459.9 L832.4,456.9 L832.9,453.9 L832.8,450.9 L833.8,447.9 L832.6,444.7 L832.4,441.3 L831.8,437.9 L833.6,435.8 L835.0,433.5 L835.7,430.9 L836.3,428.2 L837.8,426.0 L840.6,425.7 L843.4,426.7 L846.2,425.6 L849.0,426.1 L851.8,426.0 L854.8,426.2 L857.8,425.3 L860.8,426.2 L863.8,424.9 L866.8,426.0 L869.8,425.0 L872.5,425.1 L875.3,424.5 L878.0,424.3 L880.8,424.6 L883.6,424.3 L886.2,422.7 L889.0,422.9 L891.7,423.0 L895.1,423.7 L897.7,426.0 L897.9,429.3 L897.4,432.6 L897.7,435.9"/>
<path d="M787.9,469.9 L786.0,472.0 L783.9,473.9 L782.3,476.3 L781.3,479.2 L779.8,481.7 L777.9,483.9 L776.1,486.6 L774.2,489.2 L771.6,491.2 L769.9,493.9 L767.1,495.0 L765.0,497.2 L762.1,497.9 L759.9,499.9 L757.3,500.8 L754.4,500.7 L751.8,501.5 L749.2,502.5 L746.4,502.8 L743.9,503.9 L741.5,506.2 L740.3,509.5 L737.9,511.9 L735.4,513.4 L734.1,516.1 L731.9,517.9 L729.7,520.5 L726.1,521.2 L723.9,523.9 L721.0,523.7 L718.5,524.9 L715.9,525.9 L713.4,527.3 L710.8,528.0 L707.9,527.9 L705.2,527.7 L702.6,528.2 L699.9,528.9 L698.4,531.1 L697.9,533.8 L695.2,534.1 L692.9,535.6 L690.3,536.3 L688.0,537.8 L685.7,539.2 L683.2,540.4 L680.7,541.3 L678.5,542.9 L676.0,543.8 L673.3,545.1 L670.6,546.3 L668.5,548.4 L666.0,549.8 L663.5,551.4 L662.0,553.8 L659.6,552.4 L656.8,552.2 L654.2,551.5 L652.0,549.8 L650.2,547.5 L649.1,544.8 L647.6,542.3 L646.0,539.8 L644.0,537.6 L643.3,534.7 L641.2,532.5 L640.0,529.9 L636.4,528.5 L633.0,526.9 L632.9,524.0 L634.4,521.4 L634.1,518.5 L635.0,515.9 L636.6,513.2 L639.5,511.6 L641.0,508.9 L639.6,506.9"/>
<path d="M697.9,537.8 L700.2,540.3 L701.5,543.5 L703.9,545.8 L702.5,548.4 L699.9,549.8 L697.9,551.8 L699.8,554.0 L701.9,555.8 L703.7,558.7 L706.0,561.1 L707.9,563.8 L708.1,566.7 L707.1,569.4 L706.1,572.1 L706.7,575.1 L705.9,577.8"/>
<path d="M640.0,826.8 L643.1,826.7 L645.9,825.1 L649.1,825.9 L652.0,824.8 L655.0,823.7 L657.8,822.3 L660.8,821.3 L664.0,820.8 L667.0,821.8 L669.0,824.6 L672.0,825.8 L675.0,826.1 L677.9,825.1 L681.0,825.9 L684.0,824.8 L686.6,824.3 L689.3,823.9 L691.9,825.3 L694.6,825.2 L697.3,824.2 L699.9,824.8 L702.5,823.2 L704.9,821.5 L707.9,820.8 L711.0,819.9 L713.9,818.8 L717.0,818.0 L719.9,816.8 L722.6,816.1 L725.0,814.9 L727.0,813.0 L729.4,811.9 L731.9,810.8 L734.8,809.7 L737.9,809.9 L740.9,809.1 L743.9,808.8 L746.9,809.1 L749.9,808.5 L752.9,808.6 L755.9,808.8 L759.3,808.4 L762.4,806.9 L765.9,806.8 L763.6,805.1 L761.9,802.7 L759.9,800.8 L758.1,798.6 L755.4,797.3 L753.8,794.9 L751.9,792.8 L749.8,790.2 L747.8,787.6 L745.9,784.8 L745.2,782.2 L746.2,779.5 L746.2,776.8 L745.5,774.2 L746.0,771.5 L745.9,768.8 L747.1,765.6 L747.6,762.3 L747.9,758.8 L746.4,756.4 L746.3,753.6 L745.9,750.9 L748.6,748.5 L751.9,746.9 L754.6,746.4 L757.0,745.2 L759.5,744.3 L761.9,742.9 L761.7,739.4 L763.6,736.3 L763.9,732.9 L764.7,729.9 L766.1,727.3 L767.9,724.9 L770.9,724.8 L773.9,725.1 L776.9,724.5 L779.9,724.9 L783.0,725.0 L785.9,724.3 L789.0,724.2 L791.8,722.9 L794.6,722.3 L797.4,722.8 L800.2,722.7 L803.0,722.7 L805.8,722.9 L808.1,721.3 L811.1,721.5 L813.1,719.3 L815.8,718.9 L818.8,719.5 L821.5,720.8 L823.8,722.9 L826.9,722.9 L829.9,722.5 L832.8,721.1 L835.8,720.9 L839.0,721.4 L841.9,722.5 L844.8,723.8 L847.8,724.9 L850.8,725.6 L853.9,725.5 L856.7,726.8 L859.8,726.9 L863.0,727.9 L866.3,728.9 L869.8,728.9 L872.7,728.0 L875.0,726.2 L877.6,725.0 L879.8,722.9 L882.4,722.3 L884.7,720.7 L887.0,719.1 L889.8,718.9 L892.7,718.4 L895.7,719.6 L898.7,719.2 L901.7,718.9 L905.0,720.1 L908.5,719.5 L911.7,720.9 L914.8,720.9 L917.7,719.5 L920.7,719.0 L923.7,718.9 L925.8,720.8 L927.7,722.9 L931.0,721.4 L933.7,718.9 L934.5,716.1 L935.3,713.4 L934.1,710.4 L935.2,707.7 L935.7,704.9 L936.7,702.2 L937.2,699.3 L937.9,696.5 L939.6,693.9 L939.7,690.9 L941.7,688.4 L943.2,685.5 L945.5,683.3 L947.7,680.9 L950.0,679.6 L952.3,678.2 L954.6,676.7 L957.5,676.6 L959.7,674.9"/>
<path d="M768.5,659.9 L769.9,664.9 L768.4,667.2 L766.8,669.4 L766.0,672.0 L765.1,674.5 L763.9,676.9 L766.4,678.3 L769.2,678.4 L771.9,678.9 L774.8,680.1 L777.8,680.6 L780.9,680.4 L783.9,680.9 L786.5,680.1 L789.2,680.0 L791.9,680.6 L794.5,679.5 L797.2,679.1 L799.8,678.9 L802.4,677.8 L805.3,678.0 L807.6,676.1 L810.6,676.9 L813.0,675.0 L815.8,674.9 L818.7,674.0 L821.8,673.6 L824.8,673.3 L827.8,672.9 L829.0,675.7 L830.1,678.4 L831.8,680.9 L830.5,683.6 L828.9,686.1 L827.8,688.9 L828.6,692.2 L827.6,695.6 L827.8,698.9 L825.7,700.8 L824.3,703.4 L821.3,704.3 L819.8,706.9 L817.7,709.5 L815.9,712.2 L813.8,714.9"/>
<path d="M1010.0,243.9 L1013.1,243.9 L1016.0,242.9 L1018.5,244.5 L1020.6,246.5 L1023.6,247.2 L1026.0,248.9 L1027.9,246.8 L1030.4,245.3 L1032.0,242.9 L1035.3,242.6 L1038.6,243.4 L1042.0,242.9 L1041.7,245.9 L1042.2,248.9 L1042.5,251.9 L1043.0,254.9 L1042.6,257.9 L1044.0,260.8 L1042.9,264.0 L1044.0,266.9 L1042.7,269.4 L1042.9,272.3 L1042.0,274.9 L1043.5,278.0 L1042.5,281.7 L1044.0,284.9"/>
<path d="M1125.9,284.9 L1128.9,283.4 L1131.4,281.1 L1133.9,278.9 L1137.3,277.5 L1139.9,274.9 L1143.1,273.6 L1146.5,273.2 L1149.9,272.9 L1152.8,272.2 L1155.8,271.3 L1158.8,270.8 L1161.8,270.9 L1164.5,271.5 L1167.2,270.9 L1169.8,270.9 L1170.0,268.2 L1170.4,265.5 L1171.2,262.9 L1171.5,260.3 L1171.3,257.5 L1171.8,254.9 L1174.3,253.6 L1177.1,253.3 L1179.8,252.9 L1182.8,252.6 L1185.8,252.9 L1187.3,255.2 L1187.7,258.0 L1188.1,260.7 L1189.8,262.9 L1191.5,260.6 L1192.4,257.7 L1194.1,255.4 L1196.8,253.7 L1197.8,250.9 L1201.8,248.9 L1204.1,251.0 L1207.2,251.4 L1209.8,252.9 L1212.5,254.8 L1215.4,256.6 L1217.8,258.9 L1220.3,260.5 L1222.8,262.2 L1225.8,262.9 L1228.7,264.0 L1231.8,264.9 L1235.0,263.2 L1237.8,260.9 L1239.2,258.3 L1242.2,257.3 L1243.8,255.0 L1245.8,252.9 L1249.0,253.2 L1251.8,254.9 L1255.1,254.6 L1258.4,255.3 L1261.7,254.9 L1264.5,254.4 L1267.3,255.4 L1270.1,255.1 L1272.9,255.1 L1275.7,254.9 L1276.1,258.1 L1277.1,261.1 L1279.0,263.8 L1279.7,266.9 L1282.2,268.5 L1283.5,271.1 L1285.4,273.2 L1287.7,274.9 L1290.0,276.6 L1291.8,278.8 L1293.7,280.9 L1296.0,282.4 L1298.9,282.3 L1301.5,283.2 L1303.7,284.9 L1305.2,287.4 L1308.3,288.3 L1309.7,290.9 L1312.0,292.5 L1314.3,294.3 L1315.8,296.8 L1317.7,298.9 L1320.7,298.7 L1323.6,297.4 L1326.6,296.7 L1329.7,296.9 L1331.7,294.9 L1333.3,292.5 L1335.7,290.9 L1336.8,288.4 L1337.6,285.8 L1338.3,283.2 L1339.7,280.9 L1342.4,280.4 L1344.5,278.5 L1347.2,278.0 L1349.7,276.9 L1352.5,275.6 L1355.8,276.5 L1358.6,274.8 L1361.6,274.9 L1361.9,272.2 L1362.5,269.6 L1361.6,266.9 L1358.8,266.0 L1356.5,263.9 L1353.7,262.9 L1351.1,260.3 L1349.7,256.9 L1352.9,256.6 L1355.7,255.2 L1358.8,254.2 L1361.6,252.9 L1365.0,252.1 L1368.3,252.7 L1371.6,252.9 L1373.5,255.0 L1375.9,256.6 L1377.6,258.9 L1379.5,261.2 L1381.8,263.0 L1384.0,264.9"/>
<path d="M1149.9,445.9 L1151.4,442.6 L1153.9,439.9 L1155.3,437.4 L1158.2,436.3 L1159.7,433.8 L1161.8,431.9 L1161.2,429.3 L1160.2,426.8 L1159.4,424.2 L1157.9,422.0 L1159.6,418.8 L1161.8,416.0 L1164.7,415.1 L1167.2,413.3 L1169.8,412.0 L1172.5,411.3 L1174.5,409.2 L1176.7,407.8 L1179.5,407.4 L1181.8,406.0 L1184.8,405.3 L1187.0,403.0 L1189.8,402.0 L1192.4,403.4 L1195.1,404.8 L1197.8,406.0 L1199.8,408.3 L1200.3,411.4 L1201.8,414.0 L1205.1,412.4 L1207.8,410.0 L1206.5,407.1 L1205.8,404.0 L1207.2,401.4 L1209.8,400.0 L1212.5,400.4 L1215.2,401.2 L1217.8,402.0 L1219.7,404.1 L1221.8,406.0 L1224.7,406.8 L1227.5,408.0 L1229.8,410.0 L1230.7,412.8 L1232.7,415.0 L1234.4,417.4 L1235.8,420.0 L1238.6,419.8 L1240.9,417.9 L1243.8,418.0 L1246.4,417.3 L1249.0,416.5 L1251.2,414.8 L1253.8,414.0 L1257.1,413.8 L1260.4,414.7 L1263.7,414.0 L1266.5,413.0 L1269.4,413.4 L1272.1,412.8 L1274.9,412.4 L1277.7,412.0 L1280.1,413.2 L1282.7,414.1 L1285.1,415.2 L1287.7,416.0 L1290.4,416.6 L1292.6,418.4 L1295.2,418.9 L1297.7,420.0 L1300.8,420.6 L1303.9,421.4 L1306.6,423.4 L1309.7,424.0 L1312.7,424.7 L1315.7,424.6 L1318.7,424.4 L1321.7,424.0 L1323.1,426.5 L1325.1,428.5 L1327.6,430.0 L1329.7,431.9 L1330.3,435.1 L1332.4,437.7 L1333.4,440.7 L1333.7,443.9 L1336.9,444.3 L1339.6,446.1 L1342.4,447.7 L1345.7,447.9 L1348.3,448.2 L1350.9,449.3 L1353.7,448.4 L1356.3,449.6 L1359.0,449.8 L1361.6,449.9 L1364.7,449.8 L1367.7,450.6 L1370.6,451.8 L1373.6,451.9 L1376.2,453.5 L1378.7,455.2 L1381.4,456.4 L1384.0,457.9"/>
<path d="M1149.9,445.9 L1147.5,447.5 L1145.8,449.8 L1143.8,451.8 L1141.5,453.5 L1139.4,455.5 L1137.9,457.9 L1135.7,460.3 L1133.2,462.4 L1131.7,465.3 L1129.9,467.9 L1128.8,470.8 L1128.8,473.9 L1127.9,476.8 L1127.9,479.9 L1127.1,483.0 L1126.0,485.9 L1124.6,488.8 L1123.9,491.9 L1123.9,494.7 L1124.6,497.4 L1125.9,499.9 L1127.4,502.3 L1129.7,504.1 L1131.4,506.4 L1133.9,507.9 L1135.3,510.5 L1138.3,511.5 L1140.1,513.6 L1141.9,515.9 L1143.5,518.4 L1144.6,521.2 L1145.4,524.1 L1146.6,526.8 L1148.3,529.3 L1149.9,531.8 L1152.4,533.3 L1154.0,535.7 L1155.6,538.1 L1157.9,539.8 L1158.3,543.0 L1160.4,545.6 L1160.3,549.0 L1161.8,551.8 L1161.3,554.8 L1161.3,557.8 L1161.6,560.8 L1161.8,563.8 L1159.2,565.8 L1157.5,568.6 L1155.9,571.4 L1153.9,573.8 L1151.3,575.2 L1149.8,577.8 L1147.9,579.8 L1147.6,582.9 L1148.7,585.8 L1148.9,588.9 L1149.9,591.8 L1151.9,595.8 L1154.8,596.5 L1157.9,595.6 L1160.9,596.1 L1163.8,597.8 L1166.9,596.7 L1169.8,597.8 L1173.2,598.3 L1176.5,599.2 L1179.8,599.8 L1182.9,599.9 L1185.8,598.8 L1188.7,597.6 L1191.8,597.0 L1195.0,597.1 L1197.8,595.8 L1197.7,593.0 L1198.2,590.2 L1197.2,587.4 L1198.2,584.6 L1197.8,581.8 L1199.1,579.1 L1201.2,576.8 L1201.8,573.8 L1204.3,573.1 L1206.9,572.5 L1209.4,571.8 L1212.0,571.0 L1214.7,571.2 L1217.1,569.8 L1219.8,569.8 L1222.4,569.0 L1225.1,568.8 L1227.9,568.9 L1230.4,567.3 L1233.0,566.7 L1235.8,566.8 L1238.5,567.1 L1241.1,566.4 L1243.6,565.5 L1246.1,564.6 L1248.8,564.6 L1251.4,564.0 L1254.0,563.4 L1256.6,563.4 L1259.3,563.2 L1262.0,563.4 L1264.6,563.4 L1267.1,561.8 L1269.7,561.8 L1272.4,561.4 L1275.1,561.3 L1277.7,561.3 L1280.4,562.2 L1283.1,561.9 L1285.7,561.8 L1288.5,562.6 L1290.8,564.2 L1293.3,565.4 L1295.7,566.8 L1298.0,568.4 L1300.5,569.8 L1303.0,571.0 L1305.7,571.8 L1307.7,574.8 L1309.7,577.8 L1312.5,578.8 L1315.2,579.8 L1318.1,580.3 L1321.1,580.1 L1323.9,581.2 L1326.9,580.6 L1329.7,581.8 L1331.7,583.8 L1333.7,585.8 L1335.7,587.7 L1337.6,589.9 L1339.7,591.8 L1342.0,593.8 L1345.1,594.2 L1347.7,595.8 L1350.2,594.5 L1353.0,594.0 L1355.4,592.4 L1358.0,591.3 L1360.8,590.7 L1362.7,588.2 L1365.6,587.8 L1368.2,586.8 L1371.1,586.6 L1373.5,585.3 L1376.1,584.1 L1378.6,582.9 L1381.5,582.9 L1384.0,581.8"/>
<path d="M1185.8,598.8 L1184.5,601.3 L1184.0,604.2 L1183.0,606.9 L1181.0,609.2 L1179.8,611.8 L1178.7,614.6 L1177.4,617.3 L1176.7,620.3 L1176.6,623.5 L1174.5,626.0 L1173.8,629.0"/>
<path d="M1173.8,617.0 L1175.1,619.5 L1174.9,622.4 L1175.8,625.0 L1174.5,628.1 L1172.2,630.6 L1169.8,633.0 L1167.8,635.3 L1166.7,638.0 L1165.8,641.0 L1164.5,643.6 L1163.8,646.6 L1161.8,649.0 L1159.3,651.1 L1156.8,653.3 L1153.9,655.0 L1152.2,658.2 L1149.9,660.9 L1147.9,662.9 L1145.4,664.5 L1144.3,667.4 L1141.9,668.9 L1137.9,670.9 L1136.0,668.8 L1133.9,666.9 L1131.1,666.9 L1128.4,666.2 L1125.9,664.9 L1122.9,666.9 L1119.9,668.9 L1116.6,670.5 L1113.9,672.9 L1110.9,673.3 L1107.9,672.7 L1104.9,672.2 L1101.9,672.9 L1100.8,675.9 L1099.9,678.9 L1098.1,681.1 L1096.2,683.2 L1093.9,684.9 L1091.1,685.9 L1088.5,687.3 L1085.9,688.9 L1083.1,690.7 L1080.4,692.7 L1077.9,694.9 L1076.7,697.8 L1075.9,700.9 L1072.9,699.9 L1069.9,698.9 L1066.8,698.6 L1064.1,700.6 L1061.1,701.2 L1058.0,700.9 L1056.0,702.9 L1053.5,704.4 L1052.0,707.0 L1050.0,708.9 L1047.0,709.6 L1044.7,711.7 L1042.0,712.9 L1038.0,714.9"/>
<path d="M1380.0,260.0 L1382.5,261.7 L1385.6,262.2 L1388.0,264.0 L1389.4,261.0 L1392.2,259.2 L1393.8,256.4 L1396.0,254.0 L1397.9,251.9 L1399.6,249.6 L1401.6,247.6 L1404.0,246.1 L1406.0,244.0 L1408.8,244.6 L1411.4,246.3 L1414.3,246.5 L1417.3,246.9 L1420.0,248.0 L1422.5,249.4 L1425.2,250.5 L1426.9,253.2 L1430.0,253.7 L1431.9,256.0 L1434.6,257.6 L1437.8,257.7 L1440.6,259.0 L1443.3,260.4 L1445.9,262.0 L1449.2,260.9 L1452.5,260.0 L1455.9,260.0 L1458.6,259.8 L1461.3,259.2 L1463.9,260.0 L1466.2,258.0 L1468.9,256.7 L1471.9,256.0 L1474.7,256.3 L1477.4,256.6 L1479.9,258.0 L1483.0,257.2 L1485.9,256.0 L1489.1,255.5 L1491.9,254.0 L1494.4,255.4 L1495.7,258.1 L1497.9,260.0 L1500.3,261.5 L1501.3,264.5 L1503.9,266.0 L1506.7,266.1 L1509.3,266.9 L1511.9,268.0 L1514.1,270.6 L1516.8,272.5 L1519.9,274.0 L1520.9,276.7 L1523.6,278.5 L1525.0,281.0 L1525.9,283.9 L1527.3,281.4 L1529.9,280.0 L1531.8,278.0 L1534.7,278.0 L1537.0,276.0 L1539.8,276.0 L1542.7,277.7 L1545.2,279.9 L1547.8,281.9 L1550.4,284.0 L1552.7,286.5 L1555.8,287.9 L1558.9,288.1 L1561.9,288.7 L1564.8,289.8 L1567.8,289.9 L1570.6,291.1 L1573.3,292.3 L1575.8,293.9 L1576.7,296.5 L1578.3,298.7 L1579.0,301.3 L1579.8,303.9 L1580.6,306.8 L1583.4,308.6 L1584.7,311.2 L1585.8,313.9 L1587.6,316.7 L1590.1,319.0 L1591.8,321.9 L1591.4,324.6 L1590.8,327.2 L1591.4,330.0 L1591.0,332.6 L1590.6,335.3 L1589.8,337.9 L1591.5,340.2 L1593.7,342.0 L1595.8,343.9 L1598.5,345.7 L1601.9,345.6 L1604.8,346.9 L1607.8,347.9 L1610.9,348.4 L1613.5,350.6 L1616.7,351.2 L1619.8,351.9 L1622.5,352.9 L1625.5,353.0 L1628.0,354.8 L1630.8,355.6 L1633.7,355.9 L1635.3,358.1 L1636.3,360.6 L1636.2,363.6 L1637.7,365.9 L1640.7,366.4 L1643.7,367.3 L1646.6,368.1 L1649.7,367.9 L1652.4,369.1 L1655.5,368.9 L1658.3,369.7 L1660.8,371.4 L1663.7,371.9 L1666.3,373.4 L1668.8,375.1 L1671.7,375.9 L1673.4,378.7 L1676.0,381.0 L1677.7,383.8 L1680.1,385.0 L1682.6,386.0 L1684.9,387.6 L1687.7,387.8 L1690.4,389.6 L1693.7,389.9 L1696.7,390.8 L1699.7,391.8 L1703.1,391.4 L1706.3,390.5 L1709.7,389.8 L1712.2,390.8 L1714.9,391.3 L1717.4,392.3 L1719.7,393.8 L1718.3,396.5 L1717.1,399.2 L1715.7,401.8 L1715.1,404.8 L1714.3,407.8 L1714.7,410.9 L1713.7,413.8 L1712.0,416.6 L1709.3,418.5 L1707.9,421.5 L1705.7,423.8 L1702.8,425.0 L1699.7,425.8 L1697.9,427.9 L1698.0,431.0 L1696.3,433.1 L1695.4,435.6 L1693.7,437.8 L1691.4,439.3 L1689.8,441.3 L1688.7,443.8"/>
<path d="M1380.0,456.0 L1382.8,457.1 L1385.2,458.9 L1388.0,460.0 L1391.2,460.4 L1394.0,462.0 L1392.1,465.0 L1390.0,468.0 L1389.7,470.6 L1390.3,473.3 L1390.0,476.0 L1393.1,477.4 L1395.0,480.3 L1398.0,482.0 L1400.7,481.6 L1403.2,480.2 L1406.0,480.0 L1406.0,476.0 L1408.6,475.1 L1411.2,474.2 L1414.0,474.0 L1416.0,472.0 L1418.4,470.4 L1420.0,468.0 L1420.9,465.4 L1421.7,462.8 L1422.0,460.0 L1425.0,459.2 L1427.9,457.8 L1430.8,456.6 L1433.9,456.0 L1435.9,460.0 L1439.1,459.8 L1441.9,461.3 L1445.0,461.2 L1447.9,462.0 L1450.0,464.3 L1450.8,467.2 L1451.9,470.0 L1452.9,472.8 L1454.7,475.1 L1456.5,477.4 L1457.9,480.0 L1459.3,482.4 L1458.8,485.4 L1459.9,488.0 L1462.4,489.5 L1465.2,490.5 L1467.3,492.7 L1469.9,493.9 L1472.5,495.6 L1475.7,495.9 L1478.0,498.2 L1481.1,498.8 L1483.9,499.9 L1486.4,501.4 L1489.3,500.9 L1491.8,502.2 L1494.5,502.6 L1497.4,502.7 L1499.9,503.9 L1502.7,502.3 L1505.7,501.3 L1509.1,501.6 L1511.9,499.9 L1514.9,499.3 L1516.8,496.6 L1519.9,495.9 L1522.8,493.9 L1525.9,491.9 L1526.5,489.0 L1527.0,486.0 L1527.5,483.0 L1527.9,480.0 L1527.8,477.3 L1526.7,474.7 L1526.0,472.1 L1526.9,469.3 L1527.0,466.5 L1525.9,464.0 L1529.2,462.5 L1531.8,460.0 L1534.8,460.8 L1537.8,459.6 L1540.8,460.4 L1543.8,460.0 L1546.7,461.2 L1550.1,461.3 L1552.9,462.9 L1555.8,464.0 L1558.2,465.6 L1559.5,468.2 L1562.1,469.7 L1563.8,472.0 L1565.8,474.0 L1567.8,476.0 L1570.8,476.6 L1573.8,477.1 L1576.7,478.1 L1579.8,478.0 L1582.5,477.3 L1585.1,478.3 L1587.8,477.9 L1590.5,477.3 L1593.1,478.7 L1595.8,478.0 L1598.8,477.7 L1601.8,478.2 L1604.8,477.6 L1607.8,478.0 L1607.5,475.1 L1609.1,472.4 L1608.3,469.5 L1609.7,466.8 L1609.8,464.0 L1612.3,462.5 L1613.4,459.7 L1615.2,457.5 L1617.8,456.0 L1619.5,453.2 L1621.2,450.3 L1623.8,448.0 L1627.8,446.0 L1629.0,449.5 L1631.7,452.0 L1633.5,454.3 L1634.5,456.9 L1635.9,459.4 L1635.5,462.6 L1637.3,464.9 L1639.3,467.1 L1639.7,470.0 L1642.4,469.1 L1645.1,469.8 L1647.7,469.6 L1650.4,470.5 L1653.1,470.5 L1655.7,470.0 L1658.4,469.9 L1661.2,469.8 L1663.8,470.6 L1666.5,470.7 L1669.1,471.2 L1671.7,472.0"/>
<path d="M1687.7,440.0 L1686.5,442.7 L1684.3,444.6 L1683.0,447.3 L1680.7,449.2 L1679.7,452.0 L1678.2,454.3 L1677.7,457.0 L1676.7,459.5 L1675.7,462.0 L1674.0,464.2 L1673.8,467.0 L1672.8,469.5 L1671.7,472.0 L1672.3,475.0 L1671.0,478.0 L1671.2,481.0 L1671.7,484.0 L1670.8,486.5 L1669.9,489.2 L1669.9,492.0 L1668.5,494.5 L1668.9,497.4 L1667.7,499.9 L1667.1,503.0 L1664.8,505.1 L1663.3,507.7 L1662.3,510.5 L1661.0,513.2 L1659.7,515.9 L1660.6,518.5 L1662.4,520.6 L1662.6,523.5 L1663.7,525.9 L1661.6,528.0 L1661.2,531.2 L1659.3,533.3 L1657.3,535.5 L1655.7,537.9 L1653.5,539.5 L1651.0,540.5 L1649.2,542.7 L1646.5,543.4 L1644.3,545.0 L1641.8,546.1 L1639.7,547.9 L1637.6,549.7 L1635.5,551.7 L1634.0,554.1 L1631.7,555.9 L1629.3,557.4 L1627.9,560.0 L1625.6,561.7 L1623.8,563.9 L1621.3,566.1 L1618.1,567.4 L1615.8,569.9 L1614.4,572.2 L1613.6,574.8 L1612.1,577.1 L1611.8,579.9 L1610.7,582.4 L1611.3,585.2 L1611.2,587.9 L1610.7,590.6 L1610.5,593.2 L1609.8,595.8 L1609.8,598.6 L1609.8,601.3 L1608.3,603.8 L1608.7,606.5 L1607.5,609.1 L1607.8,611.8 L1608.3,614.6 L1607.4,617.2 L1606.0,619.7 L1605.8,622.4 L1605.3,625.0 L1605.8,627.8 L1604.7,630.7 L1604.6,633.8 L1604.8,636.8 L1604.8,639.8 L1603.7,642.4 L1604.7,645.2 L1603.8,647.8 L1600.8,648.4 L1597.8,648.7 L1594.7,648.8 L1591.8,649.8 L1588.8,648.7 L1585.6,648.3 L1583.0,646.2 L1579.8,645.8 L1576.8,646.3 L1573.8,646.6 L1570.9,648.1 L1567.8,647.8 L1564.7,647.5 L1562.0,649.6 L1558.7,648.5 L1555.8,649.8 L1553.1,650.2 L1550.5,651.2 L1547.8,651.5 L1545.2,652.5 L1542.3,652.4 L1539.8,653.8 L1536.8,653.8 L1534.0,655.6 L1530.9,655.4 L1527.9,655.8 L1527.1,658.9 L1525.9,661.8 L1523.1,660.9 L1520.2,661.3 L1517.4,660.8 L1514.8,659.4 L1511.9,659.8 L1509.2,658.4 L1506.4,657.4 L1503.9,655.8 L1501.1,654.1 L1498.4,652.4 L1496.1,650.2 L1493.9,647.8 L1492.2,645.6 L1491.9,642.8 L1491.0,640.3 L1488.9,638.3 L1487.9,635.8 L1485.9,633.5 L1484.5,630.8 L1484.6,627.4 L1483.1,624.9 L1481.8,622.2 L1479.9,619.8 L1479.3,616.7 L1477.9,613.8 L1476.6,610.9 L1475.9,607.8 L1474.7,605.4 L1473.9,602.8 L1472.4,600.5 L1471.9,597.8 L1468.9,597.0 L1466.2,595.1 L1462.9,594.8 L1459.9,593.8 L1457.9,591.3 L1455.9,588.9 L1453.9,586.3 L1451.9,583.9 L1450.4,581.4 L1448.1,579.7 L1446.2,577.6 L1443.9,575.9 L1441.8,573.7 L1439.2,572.5 L1436.6,571.1 L1433.9,569.9 L1430.8,570.3 L1428.0,571.9 L1425.0,573.0 L1421.9,573.7 L1419.1,575.2 L1416.0,575.9 L1413.2,575.2 L1410.4,575.3 L1407.6,575.9 L1404.8,575.6 L1402.0,575.9 L1400.5,579.0 L1401.0,582.6 L1400.0,585.9 L1397.0,585.2 L1394.1,584.2 L1391.0,584.3 L1388.0,583.9 L1385.2,583.9 L1382.5,583.0 L1380.0,581.9"/>
<path d="M520.0,393.6 L522.6,391.8 L524.8,389.5 L526.7,386.9 L529.2,385.2 L532.1,384.3 L534.7,382.9 L537.8,382.5 L540.8,383.1 L543.6,384.6 L546.7,384.2 L549.2,383.0 L552.0,382.7 L554.6,381.7 L557.4,381.6 L558.8,378.6 L560.8,376.1 L562.7,373.5 L563.1,370.6 L565.1,368.3 L565.3,365.4 L566.7,362.9 L567.5,359.5 L569.3,356.6 L570.7,353.5 L573.4,351.5 L576.1,349.5 L578.8,349.3 L581.4,350.3 L584.1,350.3 L586.8,350.1 L589.4,349.5 L592.1,350.5 L595.0,350.7 L597.5,352.2 L600.2,351.6 L602.7,350.0 L605.5,349.5 L608.2,347.8 L610.5,345.5 L613.5,344.2 L615.1,341.6 L615.7,338.6 L618.2,336.5 L618.8,333.5 L620.1,331.0 L620.7,328.2 L621.5,325.5 L621.8,322.6 L622.8,320.0 L624.2,317.5 L624.1,314.8 L624.5,312.1 L624.2,309.4 L626.8,305.4 L627.7,302.3 L629.3,299.4 L629.5,296.1 L630.6,293.1 L631.1,290.0 L632.0,286.9 L633.5,284.1 L633.7,280.8 L635.8,278.0 L636.2,274.7 L638.1,272.3 L639.4,269.6 L640.2,266.7 L642.5,264.4 L644.2,261.7 L645.5,258.7 L648.2,258.0 L650.9,257.4 L653.5,256.7 L656.2,256.6 L658.9,256.0 L661.7,256.3 L664.1,254.6 L666.9,254.7 L669.8,254.6 L672.3,253.4 L674.7,251.7 L677.4,250.7 L680.3,250.7 L682.9,249.8 L685.7,250.7 L688.2,249.3 L690.9,249.3 L693.9,247.8 L696.3,245.3 L699.2,242.9 L701.6,240.0"/>
<path d="M692.3,250.7 L693.8,253.2 L694.5,255.9 L695.7,258.5 L696.3,261.4 L698.5,263.7 L699.9,266.6 L701.0,269.6 L703.0,272.1 L704.0,274.7 L704.9,277.4 L706.0,280.0 L707.0,282.7 L707.5,285.5 L708.5,288.1 L709.9,290.6 L710.8,293.2 L711.0,296.1 L712.9,297.9 L714.0,300.3 L715.6,302.4 L717.6,304.1 L720.3,305.9 L722.7,308.2 L725.7,309.4 L727.5,311.6 L729.3,313.8 L731.5,315.6 L733.7,317.5 L733.9,320.3 L735.8,322.7 L736.3,325.5 L735.9,328.3 L734.4,330.7 L733.7,333.5 L732.1,336.0 L731.0,338.8 L734.3,340.2 L737.7,341.5 L738.6,344.1 L738.3,346.9 L739.0,349.6 L739.9,352.2 L740.4,354.9 L739.3,357.5 L738.7,360.3 L737.5,362.9 L736.3,365.5 L733.8,367.0 L732.8,370.0 L730.3,371.6 L728.3,373.5 L725.6,374.7 L723.0,376.2 L720.4,377.6 L717.6,378.9 L715.1,380.2 L712.2,379.7 L709.8,381.6 L707.0,381.6 L705.8,384.3 L704.3,386.9 L707.0,390.9 L709.6,390.7 L712.3,390.3 L715.0,391.6 L717.6,391.5 L720.3,390.9 L722.8,389.5 L725.5,388.8 L728.2,388.2 L731.0,388.2 L733.4,385.9 L736.3,384.2 L739.3,385.1 L741.7,386.9 L744.4,388.9 L747.0,390.9 L749.6,389.8 L752.2,389.2 L755.0,389.6 L757.3,391.7 L760.1,392.8 L763.4,392.9 L765.7,394.9 L768.1,397.4 L770.0,400.3"/>
<path d="M1040.2,280.0 L1042.8,282.2 L1044.2,285.3 L1046.1,288.5 L1046.9,292.0 L1043.9,292.8 L1041.6,294.7 L1039.8,298.2 L1037.6,301.4 L1035.3,303.9 L1033.5,306.7 L1033.4,309.4 L1033.2,312.1 L1032.2,314.7 L1033.5,318.7 L1036.9,319.3 L1040.2,320.1 L1042.9,321.1 L1045.3,322.5 L1048.2,322.7 L1050.9,322.9 L1053.6,322.1 L1056.2,322.7 L1057.5,319.8 L1060.0,317.9 L1061.3,315.1 L1063.5,312.9 L1065.6,310.7 L1068.8,309.4 L1072.3,309.4 L1075.4,309.3 L1078.2,311.2 L1081.3,311.5 L1084.3,312.1 L1086.4,313.9 L1088.1,316.2 L1089.9,318.5 L1092.3,320.1 L1094.9,321.5 L1095.8,324.6 L1098.0,326.4 L1100.3,328.1 L1103.4,329.6 L1106.5,330.9 L1109.7,332.1 L1113.7,330.7 L1113.9,328.0 L1113.2,325.4 L1113.3,322.7 L1112.3,320.1 L1112.6,317.3 L1112.9,314.6 L1114.1,312.1 L1114.9,309.5 L1115.0,306.7 L1116.8,304.6 L1117.8,302.1 L1118.5,299.4 L1120.0,297.1 L1120.9,294.6 L1121.7,292.0 L1123.6,289.9 L1125.5,287.8 L1127.0,285.3 L1129.3,282.2 L1132.4,280.0"/>
<path d="M1095.0,358.8 L1094.6,361.9 L1093.5,364.8 L1093.4,367.9 L1092.3,370.8 L1092.0,373.6 L1091.7,376.3 L1091.1,379.0 L1089.6,381.5 L1086.9,382.6 L1085.7,385.6 L1083.4,387.3 L1080.6,388.4 L1078.4,390.3 L1076.3,392.2 L1079.4,394.4 L1081.6,397.5 L1082.9,400.2 L1084.1,403.0 L1086.3,405.2 L1087.0,408.2 L1087.6,411.0 L1089.6,413.3 L1090.8,416.0 L1090.7,419.1 L1092.3,421.6 L1095.0,424.2 L1092.4,425.7 L1089.9,427.5 L1087.0,428.2 L1084.2,428.4 L1081.7,429.6 L1079.0,429.6"/>
<path d="M900.0,436.2 L902.2,434.7 L903.9,432.5 L906.6,431.7 L908.7,430.0 L910.7,428.2 L912.9,426.7 L915.0,425.0 L917.8,424.5 L920.0,422.9 L922.0,420.4 L924.9,418.9 L926.7,416.2 L929.6,416.3 L931.9,414.2 L934.5,413.5 L937.4,413.5 L940.0,412.4 L942.6,412.1 L945.3,411.7 L948.1,412.2 L951.0,412.1 L953.3,410.1 L956.1,409.5 L958.8,410.0 L961.4,409.8 L964.1,409.9 L966.8,409.5 L969.5,409.8 L972.2,410.3 L974.9,410.7 L977.6,410.9 L980.1,412.2 L982.8,412.6 L985.5,412.3 L988.1,413.4 L990.8,413.5 L993.7,414.4 L996.4,415.8 L999.0,417.2 L1001.5,418.9 L1004.4,419.1 L1006.9,420.6 L1009.5,421.6 L1011.9,423.8 L1015.2,424.5 L1017.5,426.9 L1020.2,426.9 L1022.8,425.5 L1025.5,425.5 L1028.2,425.6 L1030.9,425.2 L1033.5,425.3 L1036.2,426.0 L1038.9,425.6 L1041.7,425.1 L1044.2,426.1 L1046.9,426.4 L1049.6,426.9 L1052.3,426.9 L1055.0,427.0 L1057.6,427.4 L1060.3,428.2 L1062.9,428.4 L1065.6,428.8 L1068.3,428.9 L1070.9,428.2 L1073.6,428.5 L1076.4,428.4 L1079.0,429.6 L1081.7,429.7 L1084.2,430.8 L1087.0,430.9 L1089.7,430.9 L1092.3,431.3 L1095.0,431.2 L1097.6,432.6 L1100.3,432.2 L1102.9,433.0 L1105.7,433.2 L1108.3,433.8 L1111.2,433.6 L1113.7,434.9 L1116.3,434.5 L1119.1,434.9 L1121.7,434.1 L1124.4,433.6 L1127.4,435.2 L1130.7,436.0 L1133.7,437.6 L1137.1,439.5 L1140.4,441.6 L1142.4,443.3 L1144.9,444.5 L1147.1,446.0"/>
<path d="M705.0,580.0 L705.7,582.6 L709.2,583.9 L712.1,586.4 L713.2,589.6 L712.7,592.8 L713.0,596.0 L712.7,599.3 L711.1,601.6 L710.8,604.4 L708.6,606.8 L705.7,608.2 L704.4,612.1 L701.2,615.9 L701.5,618.8 L701.8,621.7 L704.4,619.8 L707.6,617.2 L708.2,613.4 L712.1,610.2 L715.3,611.5 L718.5,612.7 L721.4,611.3 L724.8,610.8 L727.5,608.9 L730.2,610.3 L732.6,612.1 L734.6,610.4 L737.4,609.8 L739.1,607.6 L739.1,604.4 L741.6,600.5 L743.3,597.5 L746.1,595.4 L748.3,593.9 L750.1,592.0 L752.0,590.3 L753.8,588.3 L757.0,589.0 L760.2,592.8 L761.8,596.1 L763.4,599.3 L765.4,603.1 L768.3,604.9 L771.1,607.0 L772.5,609.4 L773.1,612.1 L773.5,615.3 L774.4,618.5 L774.9,621.4 L775.0,624.3 L779.5,626.9 L780.1,631.3 L778.3,634.4 L776.9,637.8 L776.5,641.0 L776.9,644.2 L774.5,645.3 L772.2,646.7 L769.9,648.0 L767.3,651.9 L769.2,654.1 L769.9,657.0 L768.6,660.0"/>
<path d="M992.8,222.1 L996.0,221.5 L997.7,224.3 L1000.3,226.3 L1003.6,224.9 L1006.7,223.1 L1007.8,227.4 L1008.3,232.2 L1007.4,235.0 L1005.8,237.5 L1004.6,240.2 L1008.4,240.9 L1012.1,242.4 L1015.1,244.0 L1018.5,245.0 L1021.6,247.3 L1024.9,249.3 L1027.1,247.2 L1029.2,245.0 L1031.3,242.9 L1034.0,241.4 L1037.2,241.3 L1039.6,243.0 L1042.5,243.4 L1043.2,246.7 L1042.5,250.0"/>
<path d="M960.0,676.6 L961.8,674.3 L963.9,672.6 L966.4,671.2 L968.5,669.0 L970.9,667.2 L973.4,665.3 L975.5,667.7 L977.6,670.1 L982.4,670.1 L982.4,673.8 L984.0,677.1 L985.8,680.1 L987.8,683.0 L992.1,684.6 L996.3,683.0 L999.5,679.2 L1002.1,680.5 L1004.9,680.8 L1006.2,683.2 L1008.1,685.1 L1010.3,686.9 L1012.4,688.8 L1015.6,689.9 L1016.1,692.6 L1013.5,694.2 L1011.3,696.3 L1010.2,699.5 L1012.9,703.3 L1015.6,702.7 L1017.7,699.0 L1020.4,698.5 L1023.0,701.1 L1025.2,699.5 L1027.8,696.3 L1029.4,697.9 L1034.3,699.0 L1035.9,700.6 L1039.6,700.6 L1040.1,704.2 L1041.7,707.5 L1040.7,710.2 L1038.5,713.4 L1038.5,715.6 L1041.7,714.5 L1044.3,713.5 L1047.1,713.4 L1048.6,711.0 L1050.8,709.1 L1053.5,706.5 L1056.2,702.7 L1060.0,701.1"/>
<path d="M961.1,168.7 L963.2,166.1 L963.9,162.9 L966.9,163.4 L969.7,164.3 L970.8,168.1 L972.6,171.5 L974.9,173.7 L977.7,175.1 L979.9,177.4 L982.7,178.8 L982.1,182.1 L983.2,185.5 L982.7,188.9 L983.4,191.8 L983.7,194.9 L985.2,197.6 L986.2,200.4 L987.0,203.3 L988.0,206.1 L988.6,209.1 L989.3,211.9 L989.9,214.9 L991.8,217.0 L993.2,219.4 L994.3,222.1"/>
</g>
<g stroke="#5a5a5a" stroke-width="0.6" stroke-linejoin="round">
<path d="M381.9,392.0 L383.6,390.1 L385.9,389.0 L388.1,387.8 L389.9,386.0 L392.4,387.3 L395.2,388.1 L397.9,389.0 L400.3,390.1 L402.8,391.2 L404.9,392.9 L407.4,394.0 L409.9,395.0 L411.7,396.9 L413.8,398.5 L415.6,400.5 L417.9,402.0 L419.4,404.2 L421.3,406.2 L422.8,408.5 L424.4,410.6 L425.8,413.0 L424.0,414.7 L421.8,416.0 L419.5,415.1 L417.1,414.9 L414.7,414.6 L412.2,414.4 L409.9,414.0 L407.5,413.0 L404.9,412.4 L402.7,411.0 L400.3,409.9 L397.9,409.0 L395.1,407.5 L392.5,405.6 L389.9,404.0 L388.2,402.0 L386.2,400.6 L383.6,399.9 L381.9,398.0 L378.9,395.0Z" fill="#0070c0"/>
<path d="M363.9,400.0 L366.5,400.0 L369.0,399.3 L371.5,398.8 L373.9,398.0 L375.3,400.2 L377.5,401.8 L378.9,404.0 L380.3,406.5 L380.7,409.4 L381.9,412.0 L382.2,414.7 L383.7,417.2 L383.9,420.0 L383.8,422.8 L382.0,425.2 L381.9,428.0 L377.9,429.0 L377.3,426.5 L375.6,424.6 L375.3,422.0 L373.9,420.0 L371.7,418.1 L370.2,415.7 L367.5,414.4 L365.9,412.0 L365.0,408.9 L363.9,406.0 L363.6,403.0Z" fill="#0070c0"/>
<path d="M337.9,435.9 L340.0,434.6 L341.6,432.5 L344.0,431.6 L345.9,430.0 L348.1,428.3 L350.7,427.5 L352.9,425.9 L355.5,425.0 L357.9,424.0 L360.8,424.9 L363.3,426.4 L365.9,428.0 L368.6,429.3 L371.1,430.8 L373.9,431.9 L372.4,434.5 L371.2,437.3 L369.9,439.9 L368.8,442.8 L368.7,446.0 L367.9,448.9 L365.2,449.9 L362.3,449.9 L359.5,450.9 L356.6,450.8 L353.9,451.9 L351.8,450.4 L349.6,449.2 L347.8,447.3 L346.3,445.1 L343.9,443.9 L342.4,442.0 L341.2,439.7 L339.3,438.0Z" fill="#c5e4ec"/>
<path d="M355.9,467.9 L358.5,467.0 L360.7,465.4 L363.3,464.6 L365.9,463.9 L366.8,461.0 L368.5,458.5 L369.9,455.9 L372.9,455.7 L375.9,455.9 L375.8,458.9 L375.7,461.9 L376.2,464.9 L375.9,467.9 L375.8,470.7 L375.7,473.6 L375.1,476.4 L374.4,479.1 L373.9,481.9 L371.4,482.5 L369.5,484.2 L367.1,485.0 L365.0,486.4 L362.4,486.8 L360.2,488.0 L357.9,488.9 L356.7,486.6 L355.8,484.3 L354.9,481.9 L354.8,479.1 L355.2,476.3 L355.1,473.5 L356.0,470.7Z" fill="#c5e4ec"/>
<path d="M407.9,449.9 L410.8,450.9 L413.9,450.9 L415.5,453.0 L418.0,454.1 L419.9,455.9 L422.4,454.7 L425.3,454.9 L427.8,453.9 L430.2,453.3 L432.7,452.8 L435.1,452.3 L437.5,451.9 L439.8,450.9 L439.4,453.5 L439.1,456.1 L439.1,458.8 L438.8,461.4 L437.8,463.9 L436.5,466.2 L435.0,468.2 L432.6,469.6 L431.4,471.9 L429.8,473.9 L429.0,476.8 L427.4,479.3 L425.8,481.9 L421.8,479.9 L419.8,478.0 L418.1,475.6 L415.9,473.9 L413.8,472.5 L411.9,470.9 L409.7,469.6 L407.9,467.9 L406.7,465.0 L405.9,461.9 L405.8,459.4 L407.0,457.2 L407.0,454.7 L407.7,452.4Z" fill="#0f5584"/>
<path d="M453.8,437.9 L455.9,436.5 L457.5,434.6 L459.6,433.2 L461.8,431.9 L463.1,429.3 L465.1,427.1 L466.1,424.4 L467.8,422.0 L468.8,424.7 L470.5,427.1 L472.1,429.6 L473.8,431.9 L476.4,433.3 L479.0,434.8 L481.8,435.9 L483.0,438.9 L483.8,441.9 L482.1,443.8 L479.5,444.6 L477.8,446.5 L475.8,447.9 L473.4,449.5 L471.6,451.7 L469.8,453.9 L467.1,453.8 L464.5,454.0 L461.8,453.9 L460.0,451.8 L457.6,450.1 L455.8,447.9 L455.1,445.5 L454.6,443.0 L454.7,440.4Z" fill="#0070c0"/>
<path d="M457.8,457.9 L461.1,456.9 L463.8,454.9 L466.7,453.9 L469.8,453.9 L470.9,456.3 L471.0,458.9 L471.1,461.5 L471.8,463.9 L473.8,465.9 L475.6,468.1 L477.4,470.3 L479.6,472.0 L481.8,473.9 L481.6,476.6 L482.2,479.2 L481.8,481.9 L479.4,482.2 L477.0,482.5 L474.7,483.5 L472.3,484.1 L469.8,483.9 L467.1,484.4 L464.3,484.7 L461.8,485.9 L460.6,483.2 L458.8,480.7 L457.8,477.9 L458.0,475.4 L457.1,472.9 L456.9,470.4 L456.8,467.9 L457.4,465.5 L457.7,463.0 L458.1,460.5Z" fill="#c5e4ec"/>
<path d="M491.8,408.0 L494.6,407.4 L496.9,405.4 L499.8,405.0 L502.6,406.4 L505.0,408.4 L507.8,410.0 L508.5,412.7 L508.1,415.6 L508.7,418.4 L509.1,421.2 L509.8,424.0 L510.1,426.5 L511.1,428.8 L511.6,431.3 L513.0,433.5 L513.8,435.9 L512.0,437.9 L509.7,439.3 L507.8,440.9 L505.3,440.2 L502.8,440.3 L500.2,440.4 L497.8,439.9 L495.9,437.7 L494.4,435.2 L492.9,432.7 L491.8,430.0 L491.6,427.5 L490.8,425.2 L490.5,422.8 L490.7,420.3 L489.8,418.0 L490.1,415.4 L491.0,413.0 L491.1,410.4Z" fill="#8bb3be"/>
<path d="M529.7,437.9 L532.4,437.0 L535.0,436.2 L537.7,435.4 L540.3,434.2 L543.1,433.9 L545.7,432.9 L546.7,435.3 L548.2,437.4 L548.7,439.9 L547.7,442.4 L547.3,445.0 L547.7,447.7 L547.2,450.2 L546.2,452.7 L546.1,455.4 L545.7,457.9 L543.1,458.2 L540.4,458.3 L537.7,458.9 L535.9,456.9 L533.6,455.6 L531.7,453.7 L529.7,451.9 L529.4,449.2 L528.9,446.5 L527.7,443.9 L529.2,441.1Z" fill="#0f5584"/>
<path d="M499.8,487.9 L502.6,486.5 L505.2,484.7 L507.8,482.9 L510.1,483.9 L511.8,485.9 L511.5,488.7 L510.7,491.5 L510.9,494.3 L510.7,497.2 L509.8,499.9 L507.1,500.4 L504.4,500.9 L501.8,501.9 L501.3,498.7 L499.8,495.9 L500.0,493.2 L499.7,490.6Z" fill="#c5e4ec"/>
<path d="M533.7,483.9 L536.9,484.4 L539.7,485.9 L539.9,488.3 L540.1,490.8 L540.9,493.1 L541.3,495.5 L541.7,497.9 L544.1,499.5 L545.9,501.7 L547.7,503.9 L546.1,505.8 L544.4,507.7 L543.4,510.0 L541.7,511.9 L539.4,513.6 L537.7,515.8 L535.7,517.8 L533.7,519.9 L531.1,520.5 L528.4,520.3 L525.7,520.9 L523.4,518.8 L521.7,516.3 L519.8,513.9 L518.8,511.0 L517.5,508.3 L515.8,505.9 L518.0,505.0 L519.5,502.9 L522.0,502.3 L523.7,500.5 L525.5,498.9 L527.7,497.9 L529.2,495.7 L530.2,493.4 L531.3,491.1 L531.6,488.5 L532.4,486.1Z" fill="#0f5584"/>
<path d="M323.9,531.8 L326.5,531.5 L328.8,530.5 L331.3,529.9 L333.6,528.9 L335.9,527.9 L336.4,531.0 L337.9,533.8 L336.1,535.7 L334.4,537.6 L332.7,539.5 L331.6,541.9 L329.9,543.8 L328.2,546.3 L327.4,549.2 L325.9,551.8 L322.9,551.3 L320.0,551.8 L318.0,549.8 L316.0,547.8 L317.6,545.9 L318.5,543.5 L320.3,541.7 L321.9,539.8 L322.4,537.1 L322.7,534.4Z" fill="#0070c0"/>
<path d="M381.9,561.8 L385.9,559.8 L387.8,561.4 L389.5,563.0 L391.4,564.6 L392.9,566.5 L394.1,568.7 L396.4,569.9 L397.9,571.8 L398.8,574.2 L399.6,576.6 L401.8,578.4 L402.2,581.1 L404.0,583.0 L405.1,585.3 L405.9,587.8 L407.4,590.4 L408.1,593.3 L409.9,595.8 L407.2,596.1 L405.0,597.8 L402.3,597.7 L399.9,598.8 L397.6,597.8 L395.8,596.1 L394.2,594.1 L392.1,592.8 L389.9,591.8 L388.2,590.0 L387.3,587.7 L385.8,585.8 L384.7,583.7 L383.6,581.6 L381.9,579.8 L381.5,577.3 L381.4,574.7 L380.9,572.2 L379.9,569.8 L380.2,567.0 L380.7,564.4Z" fill="#8bb3be"/>
<path d="M365.9,571.8 L368.3,570.5 L370.9,569.8 L373.5,569.0 L375.9,567.8 L378.8,569.2 L381.9,569.8 L381.6,572.6 L381.7,575.4 L381.8,578.2 L381.7,581.0 L381.9,583.8 L384.0,585.7 L385.7,587.9 L387.6,590.1 L389.9,591.8 L390.8,594.6 L392.3,597.2 L393.9,599.8 L392.4,602.3 L391.7,605.3 L389.9,607.8 L387.4,607.6 L385.1,607.0 L382.6,606.8 L380.2,606.5 L377.9,605.8 L375.2,604.6 L372.7,602.8 L369.9,601.8 L367.1,601.7 L364.4,600.5 L361.4,601.2 L358.7,600.3 L355.9,599.8 L358.1,598.4 L360.1,596.8 L361.5,594.5 L363.6,593.0 L365.9,591.8 L364.9,589.4 L365.0,586.8 L363.9,584.4 L363.9,581.8 L364.3,579.3 L364.6,576.8 L364.9,574.2Z" fill="#0f5584"/>
<path d="M399.9,611.0 L402.8,609.9 L405.9,609.0 L407.6,610.8 L408.7,612.9 L409.9,615.0 L412.4,616.0 L415.2,616.4 L417.9,617.0 L419.0,619.2 L421.3,620.6 L422.7,622.7 L423.8,625.0 L423.4,627.5 L422.7,629.9 L422.5,632.5 L421.8,635.0 L419.3,636.5 L416.4,637.3 L413.9,639.0 L412.1,637.3 L410.0,636.2 L407.9,635.0 L406.8,632.4 L406.8,629.6 L405.9,627.0 L404.6,624.9 L403.4,622.8 L401.9,621.0 L401.6,618.4 L400.9,616.0 L400.2,613.5Z" fill="#0070c0"/>
<path d="M455.8,641.0 L458.1,639.7 L460.1,638.2 L462.1,636.6 L463.7,634.4 L465.8,633.0 L468.0,632.0 L470.4,631.3 L472.9,631.2 L475.3,630.8 L477.4,629.3 L479.8,629.0 L481.0,631.3 L482.1,633.8 L483.5,636.1 L484.5,638.6 L485.8,641.0 L483.9,643.1 L481.7,644.9 L479.4,646.6 L477.8,649.0 L475.3,649.0 L472.9,649.2 L470.6,650.2 L468.3,651.0 L465.8,651.0 L463.0,649.9 L460.3,648.6 L457.8,647.0 L457.1,643.9Z" fill="#c5e4ec"/>
<path d="M483.8,641.0 L486.3,639.3 L489.1,638.4 L491.8,637.0 L494.4,637.0 L496.8,635.9 L499.2,635.2 L501.8,635.0 L503.5,636.8 L505.4,638.4 L508.1,639.1 L509.8,641.0 L508.9,643.4 L508.2,645.8 L508.5,648.5 L507.8,651.0 L505.2,652.4 L502.6,653.9 L499.8,655.0 L497.4,656.5 L494.6,657.2 L492.3,658.8 L489.8,659.9 L488.2,657.7 L487.0,655.4 L485.8,653.0 L485.9,650.5 L485.6,648.1 L484.4,645.8 L483.9,643.4Z" fill="#0070c0"/>
<path d="M635.6,637.0 L638.3,635.4 L641.4,634.6 L644.0,633.0 L643.5,635.4 L644.4,637.9 L644.5,640.3 L644.2,642.7 L643.6,645.2 L643.6,647.6 L643.5,650.1 L644.1,652.5 L644.0,655.0 L641.5,653.4 L639.4,651.4 L637.6,649.0 L637.6,646.5 L636.7,644.2 L636.0,641.8 L635.8,639.4Z" fill="#8bb3be"/>
<path d="M523.7,664.9 L525.4,662.9 L528.1,662.0 L529.7,659.9 L531.7,658.3 L533.5,656.3 L535.7,655.0 L538.4,655.0 L541.1,654.7 L543.7,655.0 L544.6,657.8 L546.0,660.5 L547.7,662.9 L545.6,664.3 L543.7,666.1 L541.6,667.5 L540.0,669.7 L537.7,670.9 L538.9,673.4 L539.3,676.1 L540.4,678.6 L541.7,680.9 L540.4,683.1 L538.8,685.0 L537.6,687.2 L535.7,688.9 L534.1,690.7 L531.4,691.1 L529.7,692.9 L528.6,690.6 L528.5,688.0 L527.0,685.8 L526.5,683.3 L525.7,680.9 L525.5,678.3 L524.7,675.6 L524.5,673.0 L524.0,670.3 L523.5,667.7Z" fill="#0f5584"/>
<path d="M585.7,688.9 L588.0,687.6 L590.7,686.9 L592.7,685.0 L595.2,684.0 L597.7,682.9 L600.0,683.7 L602.2,684.7 L604.6,685.2 L607.0,685.8 L609.2,687.0 L611.2,688.6 L613.7,688.9 L615.1,687.0 L616.3,684.9 L617.7,682.9 L619.2,684.8 L620.1,687.1 L621.6,688.9 L621.4,691.7 L620.2,694.2 L619.7,696.9 L619.5,699.7 L618.3,702.2 L617.7,704.9 L615.3,706.3 L613.1,707.8 L610.5,708.6 L608.2,710.0 L605.7,710.9 L603.0,711.4 L600.3,710.7 L597.7,710.8 L595.0,711.0 L592.3,710.6 L589.7,710.9 L589.1,708.2 L587.5,706.0 L586.7,703.4 L585.7,700.9 L586.2,697.9 L585.4,694.9 L585.6,691.9Z" fill="#8bb3be"/>
<path d="M587.7,716.9 L590.2,715.9 L592.6,714.7 L595.2,714.0 L597.7,712.9 L599.9,714.4 L602.3,715.7 L604.9,716.4 L607.4,717.5 L609.7,718.9 L612.5,717.8 L615.1,716.4 L617.7,714.9 L617.3,717.5 L616.6,720.0 L616.2,722.7 L615.3,725.2 L615.1,727.8 L614.7,730.4 L613.7,732.9 L613.3,735.3 L612.8,737.7 L611.9,739.9 L611.2,742.3 L610.5,744.6 L609.7,746.9 L607.2,746.7 L604.8,747.3 L602.5,748.3 L600.0,748.0 L597.7,748.9 L595.7,747.5 L593.4,746.7 L591.7,744.9 L589.4,743.9 L587.5,742.4 L585.7,740.9 L582.8,741.7 L580.3,743.5 L577.7,744.9 L573.7,742.9 L576.1,741.3 L577.6,738.8 L579.5,736.7 L581.5,734.6 L583.7,732.9 L584.1,730.1 L585.3,727.6 L585.8,724.9 L586.8,722.3 L587.0,719.5Z" fill="#0f5584"/>
<path d="M525.7,732.9 L528.0,731.9 L530.0,730.6 L531.7,728.9 L534.3,729.8 L536.3,731.7 L539.0,732.4 L541.1,734.1 L543.6,735.1 L545.7,736.9 L546.4,739.3 L547.8,741.5 L548.6,743.9 L548.7,746.5 L549.7,748.9 L552.3,748.1 L554.9,747.2 L557.4,746.3 L559.7,744.9 L562.2,745.1 L564.7,745.3 L567.2,744.6 L569.7,744.9 L571.1,747.5 L572.3,750.2 L573.7,752.9 L572.1,754.9 L570.4,756.9 L568.7,758.9 L567.0,760.8 L565.8,763.2 L563.7,764.8 L562.7,767.1 L560.8,768.7 L559.3,770.6 L558.7,773.0 L557.4,775.1 L555.7,776.8 L553.1,776.1 L550.9,774.4 L548.2,773.9 L545.7,772.8 L544.4,770.5 L542.3,768.8 L540.2,767.1 L539.1,764.6 L536.8,763.1 L535.6,760.7 L533.7,758.8 L532.2,756.4 L529.9,754.6 L528.0,752.6 L525.7,750.9 L523.7,748.9 L523.6,746.1 L524.1,743.5 L525.2,740.9 L525.4,738.2 L525.5,735.5Z" fill="#0070c0"/>
<path d="M557.7,734.9 L560.7,733.9 L561.7,736.8 L562.1,739.9 L562.7,742.9 L559.3,742.9 L559.2,740.1 L557.8,737.6Z" fill="#0070c0"/>
<path d="M461.8,704.9 L464.1,703.5 L465.5,701.0 L468.0,699.9 L469.4,697.5 L472.1,696.5 L473.6,694.2 L475.8,692.7 L477.8,690.9 L480.2,692.5 L481.8,694.9 L480.6,697.8 L479.8,700.9 L477.4,702.0 L475.9,704.3 L473.5,705.4 L472.1,707.6 L469.8,708.9 L469.7,711.7 L468.3,714.2 L467.8,716.9 L467.6,719.4 L466.6,721.8 L466.8,724.5 L465.8,726.9 L464.1,728.7 L461.9,730.1 L459.8,731.4 L457.8,732.9 L456.7,730.6 L455.8,728.2 L455.0,725.8 L454.5,723.3 L453.8,720.9 L454.5,718.4 L456.1,716.3 L456.7,713.8 L458.4,711.8 L459.3,709.4 L460.2,706.9Z" fill="#0f5584"/>
<path d="M439.8,746.9 L442.6,745.3 L445.8,744.9 L447.8,746.5 L449.7,748.3 L452.1,749.4 L453.8,751.3 L455.8,752.9 L458.7,753.7 L461.2,755.5 L463.8,756.8 L465.0,759.1 L467.1,760.6 L468.3,762.8 L469.8,764.8 L467.2,765.8 L465.3,767.7 L462.6,768.5 L460.7,770.6 L458.3,771.7 L455.8,772.8 L453.3,773.3 L450.9,774.0 L448.7,775.5 L446.3,776.1 L443.8,776.8 L441.7,775.0 L439.6,773.1 L437.8,770.8 L437.8,768.4 L438.6,766.1 L438.5,763.6 L439.0,761.3 L438.9,758.9 L439.2,756.5 L439.3,754.1 L439.1,751.6 L439.6,749.3Z" fill="#c5e4ec"/>
<path d="M473.8,760.8 L476.2,759.2 L478.6,757.6 L481.2,756.2 L483.8,754.9 L486.3,756.0 L489.0,756.7 L491.8,756.8 L492.6,759.8 L494.4,762.2 L495.8,764.8 L497.5,767.2 L498.9,769.8 L500.5,772.2 L501.8,774.8 L500.7,777.2 L500.3,779.7 L499.9,782.3 L499.8,784.8 L497.3,786.3 L494.8,787.8 L492.1,789.1 L489.8,790.8 L488.1,788.5 L486.0,786.6 L483.8,784.8 L483.6,782.0 L482.6,779.5 L482.2,776.7 L481.2,774.1 L480.5,771.5 L479.8,768.8 L478.6,766.6 L476.7,764.9 L475.6,762.6Z" fill="#8bb3be"/>
<path d="M589.7,764.8 L592.1,763.6 L594.9,763.4 L597.3,762.1 L599.7,760.8 L602.2,761.0 L604.6,762.1 L607.2,762.1 L609.7,762.8 L612.4,763.9 L614.9,765.5 L617.2,767.3 L619.7,768.8 L617.7,771.1 L616.9,774.0 L615.1,776.3 L613.7,778.8 L611.4,780.3 L609.3,782.0 L606.7,782.9 L604.6,784.7 L602.5,786.4 L599.7,787.0 L597.7,788.8 L595.2,788.9 L593.0,790.2 L590.5,790.1 L588.1,790.6 L585.7,790.8 L585.2,788.1 L584.1,785.5 L583.7,782.8 L584.8,780.3 L584.9,777.5 L586.7,775.3 L587.3,772.6 L587.9,769.9 L589.2,767.5Z" fill="#8bb3be"/>
<path d="M781.9,192.0 L784.6,193.5 L787.1,195.4 L789.9,197.0 L791.0,199.4 L791.7,202.0 L793.0,204.4 L793.8,206.9 L796.2,206.5 L798.6,205.8 L801.0,205.8 L803.4,205.0 L805.8,205.0 L808.6,204.2 L811.4,204.1 L814.2,203.9 L817.0,203.4 L819.8,203.0 L820.1,205.9 L819.8,208.9 L817.8,210.4 L815.7,211.7 L814.0,213.7 L811.8,214.9 L811.6,217.7 L810.1,220.2 L809.8,222.9 L807.5,223.5 L805.0,223.7 L802.6,224.1 L800.2,224.5 L797.8,224.9 L796.0,227.1 L794.1,229.2 L791.7,230.8 L789.9,232.9 L792.8,234.1 L795.8,234.9 L793.1,235.1 L790.5,236.3 L787.9,236.9 L789.2,234.6 L789.9,231.9 L791.4,229.6 L791.8,226.9 L790.2,224.4 L789.0,221.7 L787.9,218.9 L788.2,216.3 L787.8,213.6 L787.9,210.9 L786.9,208.4 L786.3,205.8 L784.5,203.6 L783.9,201.0 L782.7,198.1 L782.0,195.1Z" fill="#0f5584"/>
<path d="M799.8,226.9 L802.7,226.7 L805.5,226.7 L808.2,225.4 L811.0,225.3 L813.8,224.9 L816.3,224.8 L818.8,224.9 L821.3,225.3 L823.8,224.9 L821.9,226.6 L820.5,228.9 L819.0,230.9 L817.0,232.6 L815.8,234.9 L814.6,237.6 L813.4,240.4 L811.8,242.9 L808.8,243.9 L805.8,244.9 L804.0,242.8 L801.6,241.1 L799.8,238.9 L800.1,235.9 L799.7,232.9 L799.3,229.9Z" fill="#8bb3be"/>
<path d="M749.9,214.9 L752.0,213.8 L754.1,212.7 L755.9,210.9 L757.6,209.2 L759.0,207.3 L759.9,205.0 L760.9,207.3 L760.3,210.1 L760.9,212.5 L761.9,214.9 L761.0,217.3 L761.7,219.8 L760.5,222.1 L760.6,224.6 L759.9,226.9 L758.9,229.3 L759.1,232.0 L758.9,234.5 L757.9,236.9 L756.5,238.9 L755.0,240.8 L753.9,242.9 L751.9,241.5 L749.8,240.3 L747.9,238.9 L747.0,236.6 L747.4,234.1 L746.1,231.8 L746.4,229.3 L745.9,226.9 L746.2,224.4 L747.4,222.1 L748.4,219.8 L748.8,217.2Z" fill="#8bb3be"/>
<path d="M787.9,254.9 L790.0,253.8 L791.7,252.0 L793.8,250.9 L795.5,253.2 L797.8,254.9 L797.5,257.4 L796.6,259.9 L796.4,262.4 L795.8,264.9 L798.6,266.0 L801.4,267.1 L803.8,268.9 L806.3,269.5 L808.9,269.4 L811.3,270.3 L813.8,270.9 L811.8,272.9 L809.5,272.3 L807.1,271.8 L804.8,271.2 L802.5,270.2 L800.3,269.1 L797.8,268.9 L795.6,270.6 L794.0,273.0 L791.8,274.9 L789.9,272.8 L787.9,270.9 L788.0,268.2 L788.1,265.6 L788.0,262.9 L787.3,260.2 L787.4,257.6Z" fill="#0070c0"/>
<path d="M717.9,278.9 L720.4,279.2 L722.9,278.6 L725.4,279.0 L727.9,278.9 L729.5,276.5 L732.0,274.9 L733.7,272.7 L735.9,270.9 L737.2,273.1 L738.1,275.5 L738.6,278.0 L739.1,280.5 L739.9,282.9 L739.6,285.9 L740.5,288.9 L739.9,291.9 L739.9,294.9 L741.4,297.4 L742.4,300.2 L743.9,302.9 L741.3,301.3 L738.3,300.6 L735.9,298.9 L733.7,297.1 L732.2,294.5 L730.0,292.7 L727.9,290.9 L725.7,289.7 L723.9,287.8 L721.8,286.5 L719.9,284.9 L718.5,282.0Z" fill="#0070c0"/>
<path d="M713.9,298.9 L716.9,297.8 L719.9,296.9 L720.9,299.9 L721.9,302.9 L718.9,302.7 L715.9,302.9Z" fill="#0070c0"/>
<path d="M672.0,288.9 L675.1,288.3 L678.0,286.9 L678.4,289.2 L677.8,291.7 L678.7,294.0 L678.6,296.5 L679.0,298.9 L680.7,300.8 L682.3,302.8 L684.0,304.9 L683.7,307.5 L683.7,310.2 L684.0,312.8 L683.1,315.1 L681.8,317.2 L680.0,318.8 L677.3,319.7 L674.7,320.4 L672.0,320.8 L669.5,320.9 L667.0,320.3 L664.5,321.1 L662.0,320.8 L663.2,318.2 L664.9,315.8 L666.3,313.2 L668.0,310.8 L669.9,308.8 L672.0,306.9 L673.6,304.5 L676.0,302.9 L675.6,300.4 L674.8,298.1 L674.3,295.8 L673.2,293.5 L672.3,291.3Z" fill="#0070c0"/>
<path d="M690.0,314.8 L692.7,314.5 L695.4,313.9 L697.9,312.8 L700.7,312.6 L703.3,311.8 L705.9,310.8 L706.9,308.0 L708.4,305.4 L709.9,302.9 L711.8,304.4 L714.2,305.1 L715.9,306.8 L717.4,309.1 L718.4,311.6 L719.2,314.2 L721.2,316.2 L721.9,318.8 L723.5,321.4 L724.4,324.2 L725.9,326.8 L725.8,329.6 L724.8,332.2 L723.9,334.8 L721.7,336.6 L719.9,338.8 L717.7,340.6 L715.9,342.8 L714.8,345.0 L713.0,346.7 L711.9,348.8 L709.2,348.5 L706.6,347.3 L703.9,346.8 L702.9,344.0 L700.8,341.7 L699.9,338.8 L697.8,337.0 L695.8,335.0 L694.3,332.5 L691.9,330.8 L690.2,328.4 L689.2,325.5 L688.0,322.8 L689.2,320.3 L688.8,317.4Z" fill="#002060"/>
<path d="M839.8,312.8 L842.7,312.0 L844.9,309.7 L847.8,308.8 L849.8,310.4 L851.8,311.8 L853.7,313.5 L855.8,314.8 L856.8,317.2 L857.4,319.6 L857.8,322.2 L859.4,324.3 L859.8,326.8 L859.7,329.3 L861.1,331.5 L861.4,334.0 L861.7,336.4 L861.8,338.8 L859.3,339.8 L856.9,341.0 L854.3,341.8 L851.8,342.8 L849.2,342.8 L846.7,342.0 L844.2,341.9 L841.8,340.8 L841.0,338.5 L841.2,336.0 L840.7,333.6 L840.2,331.2 L839.8,328.8 L839.2,326.2 L840.1,323.5 L839.3,320.8 L840.0,318.2 L839.7,315.5Z" fill="#c5e4ec"/>
<path d="M973.7,350.8 L976.8,350.2 L979.7,348.8 L982.3,349.6 L984.5,351.0 L987.1,351.9 L989.0,354.1 L991.6,354.8 L994.2,355.5 L996.8,355.8 L999.4,356.1 L1001.8,357.5 L1004.5,357.5 L1007.2,357.8 L1009.6,358.8 L1008.7,361.8 L1007.6,364.8 L1005.3,365.4 L1002.8,365.2 L1000.5,366.5 L998.0,366.1 L995.6,366.8 L993.8,368.5 L993.1,371.1 L991.0,372.7 L989.7,374.8 L989.4,377.8 L989.3,380.8 L989.2,383.8 L989.7,386.8 L990.4,389.4 L990.8,392.1 L991.6,394.8 L989.7,393.3 L987.6,392.2 L985.7,390.8 L984.1,388.6 L983.3,385.9 L982.1,383.6 L980.7,381.3 L979.7,378.8 L979.1,376.3 L978.5,373.8 L977.3,371.6 L976.3,369.2 L975.7,366.8 L975.3,364.1 L975.3,361.4 L974.4,358.8 L974.7,356.1 L974.2,353.4Z" fill="#0f5584"/>
<path d="M640.0,366.8 L642.1,365.5 L644.1,363.9 L645.7,361.9 L648.0,360.8 L649.9,362.9 L651.7,365.1 L654.0,366.8 L654.2,369.2 L654.4,371.7 L655.6,373.9 L655.6,376.4 L656.0,378.8 L654.7,381.2 L653.5,383.6 L653.5,386.5 L652.0,388.8 L649.6,389.5 L647.2,389.9 L644.8,390.3 L642.4,390.2 L640.0,390.8 L639.9,388.1 L640.5,385.4 L640.2,382.8 L640.2,380.1 L640.5,377.4 L640.4,374.8 L639.4,372.1 L639.9,369.5Z" fill="#c5e4ec"/>
<path d="M640.0,384.8 L642.5,384.1 L644.9,383.4 L647.3,382.8 L649.5,381.2 L652.0,380.8 L653.3,383.1 L654.2,385.7 L656.3,387.6 L657.8,389.8 L658.7,392.4 L660.0,394.8 L657.6,395.9 L655.1,396.8 L652.5,397.1 L649.9,397.6 L647.4,398.3 L644.9,398.8 L642.6,400.3 L640.0,400.8 L639.7,398.1 L640.5,395.4 L639.5,392.8 L640.1,390.1 L639.6,387.4Z" fill="#0f5584"/>
<path d="M787.9,418.0 L790.5,417.4 L793.2,416.7 L795.8,416.0 L798.5,415.4 L801.2,414.6 L803.8,414.0 L803.8,416.5 L804.4,419.0 L804.3,421.5 L803.8,424.0 L803.0,426.5 L802.1,429.1 L801.2,431.6 L799.8,433.9 L802.4,435.5 L805.2,436.5 L807.8,437.9 L811.0,438.6 L813.8,439.9 L811.3,439.8 L808.8,440.3 L806.3,440.2 L803.8,439.9 L801.3,441.0 L798.5,441.1 L795.8,441.9 L793.2,441.3 L790.4,441.2 L787.9,439.9 L788.1,437.4 L787.5,434.9 L787.6,432.4 L787.9,430.0 L787.4,427.0 L788.0,424.0 L787.9,421.0Z" fill="#8bb3be"/>
<path d="M939.7,521.9 L942.0,520.4 L944.8,520.0 L946.8,518.2 L949.1,516.7 L951.7,515.9 L954.4,515.9 L957.0,515.2 L959.7,514.8 L962.4,514.7 L965.0,514.2 L967.7,513.9 L970.1,515.0 L972.7,515.8 L974.7,517.8 L977.2,518.7 L979.7,519.9 L982.2,521.4 L985.2,522.1 L987.7,523.9 L986.9,526.3 L986.2,528.7 L985.2,531.0 L984.2,533.4 L983.7,535.8 L982.3,538.0 L980.2,539.7 L978.7,541.7 L977.7,544.2 L975.7,545.8 L973.1,546.2 L970.8,547.3 L968.6,548.5 L965.9,548.6 L963.7,549.8 L961.4,550.8 L958.9,550.5 L956.4,550.6 L954.0,551.2 L951.7,551.8 L949.4,550.4 L946.7,549.8 L944.4,548.4 L941.7,547.8 L940.4,545.6 L940.5,542.9 L939.0,540.8 L938.7,538.2 L937.7,535.8 L938.7,533.1 L938.5,530.2 L939.3,527.5 L939.5,524.7Z" fill="#8bb3be"/>
<path d="M919.7,537.8 L922.0,536.7 L923.4,534.4 L925.7,533.3 L927.7,531.8 L930.3,531.0 L932.8,530.1 L935.4,529.3 L937.7,527.9 L939.9,528.9 L941.7,530.5 L943.7,531.8 L942.9,534.5 L942.5,537.2 L941.7,539.8 L940.8,542.2 L940.9,544.6 L941.0,547.1 L939.9,549.4 L939.7,551.8 L938.0,553.6 L936.5,555.7 L935.2,557.8 L933.7,559.8 L933.7,562.5 L933.3,565.1 L933.7,567.8 L931.5,569.6 L929.5,571.6 L927.7,573.8 L925.0,573.4 L922.4,574.3 L919.7,573.8 L918.9,571.2 L918.1,568.7 L917.0,566.2 L915.7,563.8 L916.7,561.4 L916.6,558.8 L917.5,556.4 L917.7,553.8 L918.4,551.2 L918.7,548.5 L918.7,545.8 L919.0,543.2 L919.9,540.6Z" fill="#0070c0"/>
<path d="M662.0,583.8 L664.7,584.1 L667.4,584.9 L670.0,585.8 L672.5,585.9 L674.9,587.2 L677.4,587.7 L680.0,587.8 L682.8,587.6 L685.6,587.7 L688.4,588.1 L691.1,588.0 L693.9,587.8 L692.7,590.5 L690.8,592.9 L690.0,595.8 L687.4,596.7 L685.1,598.2 L682.5,598.9 L680.0,599.8 L677.5,600.9 L675.1,602.2 L672.4,602.6 L670.0,603.8 L667.3,602.4 L664.8,600.9 L662.0,599.8 L661.8,597.0 L660.3,594.5 L660.0,591.8 L660.4,589.1 L661.5,586.5Z" fill="#0070c0"/>
<path d="M817.8,591.8 L820.5,590.5 L822.9,589.0 L825.0,586.8 L827.8,585.8 L830.3,587.4 L833.3,588.2 L835.8,589.8 L838.4,590.5 L840.3,592.7 L843.2,593.0 L845.2,595.1 L847.8,595.8 L849.4,598.3 L850.8,601.0 L851.8,603.8 L850.5,606.0 L849.9,608.5 L848.9,610.8 L849.1,613.5 L847.8,615.8 L846.3,617.6 L845.2,619.8 L844.0,621.9 L842.5,623.8 L840.8,625.6 L839.8,627.8 L837.1,627.8 L834.5,627.2 L831.8,627.2 L829.1,627.6 L826.5,628.2 L823.8,627.8 L822.5,625.6 L822.1,623.2 L821.6,620.8 L821.0,618.4 L819.8,616.2 L818.1,614.3 L817.8,611.8 L817.9,609.3 L817.1,607.0 L816.2,604.6 L816.5,602.1 L815.8,599.8 L817.0,597.2 L816.9,594.4Z" fill="#8bb3be"/>
<path d="M1007.6,597.8 L1010.9,596.9 L1014.0,595.8 L1013.9,598.6 L1013.9,601.4 L1014.2,604.2 L1014.0,607.0 L1014.0,609.8 L1012.0,608.3 L1009.6,607.8 L1009.2,605.3 L1008.2,602.9 L1008.2,600.3Z" fill="#c5e4ec"/>
<path d="M705.9,656.9 L708.6,655.7 L711.4,654.7 L713.9,653.0 L717.0,652.3 L719.9,651.0 L721.8,652.5 L723.9,653.7 L725.9,655.0 L728.1,656.7 L730.0,658.9 L731.9,660.9 L733.6,662.7 L735.7,663.9 L737.9,664.9 L741.0,664.2 L743.9,662.9 L744.8,665.2 L746.2,667.2 L747.9,668.9 L747.5,671.7 L746.1,674.1 L745.9,676.9 L743.4,675.7 L740.6,675.5 L737.9,674.9 L735.3,674.2 L732.7,673.2 L729.9,672.9 L728.1,671.3 L726.2,669.9 L723.9,668.9 L721.3,670.3 L718.4,671.2 L715.9,672.9 L713.9,671.5 L711.9,670.0 L709.9,668.4 L707.9,666.9 L707.5,664.4 L706.4,662.1 L706.1,659.5Z" fill="#0f5584"/>
<path d="M733.9,647.0 L736.2,645.8 L737.9,644.0 L739.9,645.9 L740.5,648.7 L742.0,651.0 L743.9,653.0 L739.9,655.0 L738.4,653.0 L737.3,650.7 L735.8,648.7Z" fill="#0f5584"/>
<path d="M692.9,627.4 L695.4,626.5 L697.9,626.0 L699.9,630.0 L697.4,630.2 L694.9,631.0Z" fill="#c5e4ec"/>
<path d="M640.0,633.0 L643.0,632.6 L646.0,632.8 L649.0,632.6 L652.0,633.0 L652.6,635.3 L652.2,637.9 L653.0,640.2 L653.8,642.5 L654.0,645.0 L653.1,647.8 L650.9,650.1 L650.0,653.0 L647.4,652.9 L644.9,653.4 L642.6,655.0 L640.0,655.0 L640.4,652.5 L639.8,650.1 L639.6,647.6 L640.0,645.2 L639.8,642.7 L640.5,640.3 L639.6,637.9 L639.8,635.4Z" fill="#8bb3be"/>
<path d="M775.9,678.9 L778.8,678.0 L781.9,677.9 L784.7,679.7 L787.9,680.9 L790.9,681.9 L793.8,682.9 L791.8,686.9 L789.2,686.3 L786.6,685.1 L783.9,684.9 L780.9,684.3 L777.9,683.9 L776.9,681.4Z" fill="#c5e4ec"/>
<path d="M697.9,716.9 L700.6,716.3 L703.0,715.0 L705.6,714.3 L707.9,712.9 L710.3,712.1 L712.7,711.1 L714.9,709.9 L717.1,708.5 L719.6,708.0 L721.9,706.9 L724.8,708.3 L727.9,708.9 L728.3,711.6 L728.7,714.4 L729.9,716.9 L731.6,718.7 L732.6,721.1 L734.7,722.6 L735.9,724.9 L736.5,727.9 L735.9,730.9 L733.4,731.0 L731.1,730.4 L728.7,730.0 L726.4,728.9 L723.9,728.9 L721.3,728.2 L718.7,727.1 L715.9,726.9 L714.0,728.5 L712.2,730.2 L710.1,731.6 L707.9,732.9 L705.7,731.1 L704.2,728.6 L701.9,726.9 L701.4,724.2 L700.0,721.9 L699.0,719.4Z" fill="#8bb3be"/>
<path d="M779.9,712.9 L782.3,712.6 L784.7,712.3 L787.1,712.1 L789.5,711.7 L791.8,710.9 L794.5,710.2 L797.2,709.6 L799.8,708.9 L801.8,707.4 L803.6,705.6 L805.5,704.0 L807.8,702.9 L810.5,703.3 L813.2,702.8 L815.8,702.9 L817.2,705.8 L817.8,708.9 L817.0,711.8 L815.7,714.5 L813.8,716.9 L812.4,718.9 L810.8,720.8 L808.9,722.6 L807.8,724.9 L805.5,724.2 L803.0,724.2 L800.7,723.6 L798.1,723.8 L795.8,722.9 L792.8,723.3 L789.9,723.0 L786.9,722.8 L783.9,722.9 L783.1,720.3 L782.3,717.7 L780.7,715.5Z" fill="#8bb3be"/>
<path d="M707.9,806.8 L710.6,807.3 L713.4,807.7 L715.9,808.8 L718.9,808.5 L721.9,808.4 L724.9,809.2 L727.9,808.8 L730.4,808.4 L733.0,808.1 L735.3,806.8 L737.9,806.8 L736.6,809.5 L735.1,812.0 L733.9,814.8 L732.1,816.6 L729.9,818.0 L728.3,820.0 L725.8,821.0 L723.9,822.8 L721.4,823.2 L718.9,823.6 L716.5,824.8 L713.9,824.8 L711.5,825.1 L709.2,825.7 L706.8,826.3 L704.2,825.8 L701.9,826.8 L702.5,824.3 L703.2,821.8 L703.4,819.3 L703.9,816.8 L705.4,814.5 L705.6,811.6 L706.9,809.3Z" fill="#0070c0"/>
<path d="M887.8,653.0 L889.3,651.1 L890.1,648.7 L891.7,647.0 L893.4,648.7 L894.4,650.9 L895.7,653.0 L897.0,655.0 L898.0,657.2 L899.7,658.9 L900.9,661.0 L902.7,662.8 L903.7,664.9 L901.9,667.1 L899.7,668.9 L898.0,667.3 L895.5,666.6 L893.7,664.9 L892.3,662.6 L891.2,660.2 L890.3,657.7 L889.2,655.2Z" fill="#c5e4ec"/>
<path d="M895.7,668.9 L898.3,667.9 L901.1,667.5 L903.7,666.9 L905.4,669.2 L907.7,670.9 L907.5,673.9 L907.7,676.9 L905.5,677.9 L903.5,679.2 L901.7,680.9 L897.7,678.9 L897.3,676.4 L896.5,674.0 L896.0,671.5Z" fill="#0070c0"/>
<path d="M971.7,629.0 L974.3,628.3 L977.1,628.1 L979.7,627.0 L982.0,626.3 L984.5,626.5 L986.8,625.5 L989.2,625.1 L991.6,625.0 L994.1,624.4 L996.6,624.9 L999.1,625.4 L1001.6,625.0 L1001.7,627.6 L1001.5,630.3 L1001.6,633.0 L1000.7,635.9 L999.2,638.4 L997.6,641.0 L996.3,642.9 L995.5,645.3 L993.6,647.0 L991.1,646.7 L988.7,645.6 L986.1,645.9 L983.7,645.0 L981.2,644.6 L978.7,644.8 L976.2,645.3 L973.7,645.0 L972.6,642.4 L972.5,639.6 L971.7,637.0 L971.7,634.3 L971.5,631.6Z" fill="#0f5584"/>
<path d="M1171.8,254.9 L1174.2,254.3 L1176.6,254.2 L1179.1,254.1 L1181.5,253.7 L1183.8,252.9 L1184.7,255.2 L1186.2,257.1 L1187.8,258.9 L1188.2,261.3 L1188.8,263.7 L1189.4,266.0 L1190.0,268.4 L1189.8,270.9 L1186.9,269.6 L1183.8,268.9 L1181.3,268.8 L1178.8,269.2 L1176.3,269.3 L1173.8,268.9 L1172.3,266.1 L1171.8,262.9 L1171.8,260.2 L1171.5,257.6Z" fill="#c5e4ec"/>
<path d="M1213.8,282.9 L1217.8,280.9 L1218.0,283.3 L1219.6,285.4 L1219.8,287.9 L1220.5,290.2 L1220.9,292.6 L1221.8,294.9 L1223.4,297.4 L1224.4,300.2 L1225.8,302.9 L1228.6,303.9 L1231.2,305.4 L1233.8,306.8 L1230.9,308.2 L1227.8,308.8 L1226.1,311.3 L1225.1,314.2 L1223.8,316.8 L1219.8,318.8 L1218.4,316.6 L1218.2,314.0 L1217.8,311.5 L1216.1,309.4 L1215.8,306.8 L1215.8,304.4 L1215.2,302.0 L1214.9,299.6 L1214.5,297.2 L1213.8,294.9 L1213.2,291.9 L1213.7,288.9 L1214.2,285.9Z" fill="#c5e4ec"/>
<path d="M1251.8,284.9 L1254.4,283.6 L1256.9,282.1 L1259.3,280.5 L1261.7,278.9 L1264.7,278.7 L1267.7,278.9 L1268.0,281.6 L1269.5,284.1 L1269.7,286.9 L1269.3,289.9 L1269.3,292.9 L1269.8,295.9 L1269.7,298.9 L1267.7,300.8 L1265.7,302.9 L1263.1,302.6 L1260.4,303.4 L1257.8,302.9 L1256.1,301.1 L1255.4,298.7 L1253.8,296.9 L1252.2,295.0 L1251.0,292.9 L1249.8,290.9 L1251.1,288.0Z" fill="#0070c0"/>
<path d="M1179.8,320.8 L1182.5,321.1 L1185.2,320.3 L1187.8,320.8 L1190.2,321.1 L1192.7,321.3 L1195.0,322.0 L1197.4,322.3 L1199.8,322.8 L1201.3,324.7 L1202.2,327.0 L1203.8,328.8 L1204.5,331.5 L1205.0,334.2 L1205.8,336.8 L1204.1,339.1 L1201.8,340.8 L1199.1,340.4 L1196.5,339.5 L1193.8,338.8 L1191.2,337.4 L1188.4,336.2 L1185.8,334.8 L1184.8,332.6 L1183.0,330.9 L1181.8,328.8 L1180.9,326.2 L1180.3,323.6Z" fill="#8bb3be"/>
<path d="M1183.8,344.8 L1186.3,343.8 L1189.0,343.2 L1191.4,342.1 L1193.8,340.8 L1196.6,341.2 L1199.0,342.7 L1201.8,342.8 L1204.3,343.3 L1206.8,343.0 L1209.3,342.8 L1211.8,342.8 L1209.5,344.5 L1207.8,346.8 L1205.0,348.0 L1202.4,349.4 L1199.8,350.8 L1197.0,352.3 L1193.8,352.8 L1192.5,354.8 L1190.8,356.6 L1189.8,358.8 L1185.8,356.8 L1184.7,353.8 L1183.8,350.8 L1184.4,347.8Z" fill="#0070c0"/>
<path d="M1211.8,384.8 L1214.4,383.3 L1217.1,382.0 L1219.8,380.8 L1222.3,381.1 L1224.8,380.7 L1227.3,380.4 L1229.8,380.8 L1232.3,380.4 L1234.7,379.3 L1237.2,378.8 L1239.8,378.8 L1242.4,378.9 L1245.1,378.8 L1247.8,378.8 L1249.2,381.6 L1249.8,384.8 L1247.1,385.5 L1244.6,386.7 L1241.8,386.8 L1239.5,388.5 L1237.5,390.5 L1236.1,393.1 L1233.8,394.8 L1232.3,396.7 L1230.8,398.6 L1228.8,400.2 L1227.4,402.1 L1225.8,404.0 L1223.3,403.9 L1220.8,403.5 L1218.3,403.9 L1215.8,404.0 L1214.9,401.6 L1214.0,399.2 L1212.5,397.2 L1211.8,394.8 L1212.1,392.3 L1212.3,389.8 L1211.9,387.3Z" fill="#0070c0"/>
<path d="M1317.7,342.8 L1320.4,343.3 L1323.0,342.6 L1325.7,342.8 L1327.8,344.0 L1329.6,345.5 L1331.7,346.8 L1333.2,349.6 L1333.7,352.8 L1331.0,354.1 L1328.6,355.9 L1325.7,356.8 L1323.7,355.4 L1322.0,353.7 L1319.7,352.8 L1318.6,350.4 L1318.5,347.8 L1317.6,345.4Z" fill="#8bb3be"/>
<path d="M1353.7,366.8 L1356.3,365.9 L1358.9,365.3 L1361.6,364.8 L1363.5,367.2 L1364.7,369.9 L1365.6,372.8 L1366.2,375.5 L1367.0,378.1 L1367.6,380.8 L1365.5,381.9 L1363.7,383.6 L1361.6,384.8 L1359.8,383.1 L1357.8,381.6 L1355.9,380.0 L1353.7,378.8 L1352.1,376.9 L1351.0,374.8 L1349.7,372.8 L1350.6,370.5 L1352.1,368.7Z" fill="#0070c0"/>
<path d="M1353.7,350.8 L1356.3,350.1 L1359.1,349.9 L1361.6,348.8 L1362.2,352.0 L1363.6,354.8 L1360.6,355.5 L1357.7,356.8 L1356.1,354.9 L1354.9,352.9Z" fill="#0070c0"/>
<path d="M1018.0,326.8 L1020.8,325.8 L1023.5,324.6 L1026.0,322.8 L1025.5,325.5 L1026.1,328.2 L1026.0,330.8 L1024.8,333.6 L1023.1,336.0 L1022.0,338.8 L1020.7,341.5 L1019.0,344.0 L1018.0,346.8 L1016.0,348.4 L1014.2,350.1 L1012.1,351.4 L1010.0,352.8 L1010.1,350.0 L1010.3,347.2 L1009.9,344.4 L1010.6,341.6 L1010.0,338.8 L1011.0,336.6 L1012.6,334.7 L1013.7,332.6 L1015.0,330.6 L1017.0,329.1Z" fill="#0f5584"/>
<path d="M1369.6,388.8 L1372.4,388.6 L1375.1,388.0 L1377.6,386.8 L1379.7,388.2 L1382.2,389.0 L1384.0,390.8 L1384.6,393.4 L1384.3,396.0 L1383.5,398.7 L1384.2,401.3 L1384.0,404.0 L1381.4,402.4 L1378.4,402.0 L1375.6,400.8 L1373.9,398.6 L1373.5,395.8 L1372.3,393.4 L1370.9,391.1Z" fill="#8bb3be"/>
<path d="M1265.7,384.8 L1269.7,384.8 L1269.9,387.2 L1270.0,389.6 L1270.9,391.9 L1270.9,394.3 L1271.1,396.7 L1271.7,399.1 L1271.3,401.6 L1271.7,404.0 L1268.7,403.9 L1265.7,404.0 L1265.3,401.2 L1266.2,398.5 L1265.2,395.7 L1265.6,393.0 L1265.4,390.3 L1266.1,387.5Z" fill="#c5e4ec"/>
<path d="M1141.9,449.9 L1144.4,448.9 L1147.1,448.2 L1149.9,447.9 L1152.5,447.3 L1154.9,446.0 L1157.5,445.3 L1159.9,443.9 L1161.5,446.1 L1162.6,448.6 L1163.2,451.3 L1164.6,453.5 L1165.8,455.9 L1168.5,455.5 L1171.2,456.2 L1173.8,455.9 L1176.2,456.8 L1178.7,457.2 L1181.1,458.0 L1183.4,459.3 L1185.8,459.9 L1187.5,461.9 L1189.9,462.8 L1192.0,464.1 L1193.8,465.9 L1191.7,467.3 L1189.7,468.7 L1187.7,470.2 L1185.8,471.9 L1183.5,472.8 L1180.9,473.1 L1178.7,474.6 L1176.1,474.7 L1173.8,475.9 L1170.7,476.4 L1167.8,477.9 L1165.6,475.9 L1162.9,474.9 L1160.2,473.7 L1157.9,471.9 L1155.4,470.7 L1152.6,470.4 L1150.5,468.6 L1147.9,467.9 L1145.7,466.1 L1144.2,463.6 L1141.5,462.3 L1139.9,459.9 L1140.9,457.5 L1140.8,454.9 L1141.2,452.4Z" fill="#c5e4ec"/>
<path d="M1187.8,445.9 L1190.3,444.8 L1192.9,444.1 L1195.2,442.7 L1197.4,441.1 L1199.8,439.9 L1202.2,438.7 L1204.4,437.1 L1207.0,436.4 L1209.2,434.8 L1211.8,433.9 L1212.0,431.5 L1213.1,429.3 L1213.3,426.8 L1214.3,424.6 L1215.2,422.3 L1215.8,420.0 L1218.0,418.9 L1219.7,417.1 L1221.8,416.0 L1223.3,418.1 L1225.3,419.8 L1226.9,421.8 L1228.6,423.8 L1230.2,425.9 L1231.8,428.0 L1230.9,430.2 L1229.1,431.9 L1227.8,433.9 L1225.5,435.6 L1223.9,438.0 L1221.8,439.9 L1220.7,442.4 L1219.7,444.9 L1218.7,447.4 L1217.8,449.9 L1215.6,451.9 L1213.1,453.4 L1210.4,454.6 L1207.8,455.9 L1205.5,454.5 L1202.6,454.4 L1200.3,452.8 L1197.8,451.9 L1195.0,451.7 L1192.3,451.2 L1189.8,449.9Z" fill="#0f5584"/>
<path d="M1213.8,380.0 L1216.2,379.6 L1218.6,380.2 L1221.1,379.4 L1223.5,380.0 L1225.9,380.3 L1228.4,380.2 L1230.8,379.9 L1233.2,380.5 L1235.6,380.1 L1238.1,379.7 L1240.5,379.6 L1242.9,380.4 L1245.3,379.7 L1247.8,380.0 L1248.9,382.9 L1249.8,386.0 L1246.9,386.1 L1244.2,386.7 L1241.4,387.3 L1238.6,388.0 L1235.8,388.0 L1235.9,390.5 L1235.1,392.8 L1234.4,395.2 L1233.8,397.5 L1233.8,400.0 L1234.3,403.0 L1233.9,406.0 L1234.2,409.0 L1233.8,412.0 L1230.9,412.9 L1228.5,414.7 L1225.8,416.0 L1224.8,413.5 L1224.1,410.9 L1222.9,408.4 L1221.8,406.0 L1220.2,403.7 L1220.1,400.9 L1218.3,398.7 L1217.8,396.0 L1216.5,393.3 L1215.2,390.6 L1213.8,388.0 L1214.2,385.3 L1214.2,382.7Z" fill="#0070c0"/>
<path d="M1265.7,400.0 L1266.6,397.7 L1267.0,395.3 L1267.3,392.9 L1268.2,390.6 L1269.5,388.4 L1269.7,386.0 L1270.4,388.5 L1270.4,391.1 L1271.4,393.5 L1271.7,396.0 L1272.1,398.6 L1271.8,401.3 L1271.2,404.0 L1271.3,406.6 L1271.6,409.3 L1271.7,412.0 L1270.7,414.2 L1268.6,415.6 L1267.7,418.0 L1265.7,416.6 L1263.6,415.1 L1261.6,413.7 L1259.8,412.0 L1260.5,408.9 L1261.7,406.0 L1262.6,403.7 L1264.3,401.9Z" fill="#c5e4ec"/>
<path d="M1271.7,418.0 L1274.3,418.3 L1276.6,419.4 L1279.2,419.7 L1281.7,420.0 L1283.7,422.0 L1285.3,424.3 L1287.7,426.0 L1288.1,428.5 L1287.7,430.9 L1287.2,433.4 L1287.7,435.9 L1287.8,438.6 L1287.1,441.0 L1286.6,443.5 L1285.7,445.9 L1283.1,446.3 L1280.4,445.9 L1277.7,445.9 L1275.8,443.8 L1274.1,441.5 L1271.7,439.9 L1271.6,437.5 L1272.3,435.1 L1271.4,432.6 L1271.2,430.2 L1271.9,427.7 L1272.1,425.3 L1271.9,422.8 L1271.5,420.4Z" fill="#c5e4ec"/>
<path d="M1287.7,437.9 L1290.4,437.3 L1293.2,437.1 L1295.7,435.9 L1298.3,436.2 L1300.6,437.4 L1303.2,437.6 L1305.7,437.9 L1306.7,440.5 L1307.4,443.2 L1307.7,445.9 L1305.6,447.8 L1303.6,449.8 L1301.7,451.9 L1299.1,451.2 L1296.3,450.9 L1293.7,449.9 L1292.3,448.0 L1291.3,445.8 L1289.7,443.9 L1288.7,441.0Z" fill="#8bb3be"/>
<path d="M1299.7,453.9 L1302.3,453.9 L1304.7,455.1 L1307.3,455.1 L1309.7,455.9 L1312.7,456.4 L1315.7,455.8 L1318.7,456.0 L1321.7,455.9 L1322.9,458.1 L1324.6,460.0 L1326.5,461.7 L1327.7,463.9 L1326.7,466.4 L1325.2,468.7 L1324.7,471.4 L1323.7,473.9 L1323.5,476.7 L1321.9,479.1 L1321.5,481.9 L1321.2,484.6 L1319.8,487.1 L1319.7,489.9 L1317.9,491.5 L1315.6,492.4 L1313.7,493.9 L1311.0,494.1 L1308.4,494.2 L1305.7,493.9 L1305.4,491.3 L1305.8,488.7 L1306.0,486.2 L1305.5,483.6 L1306.2,481.0 L1305.8,478.5 L1305.7,475.9 L1304.9,473.5 L1304.2,471.1 L1303.4,468.7 L1302.8,466.2 L1301.7,463.9 L1301.7,461.3 L1301.1,458.8 L1299.7,456.5Z" fill="#8bb3be"/>
<path d="M1287.7,493.9 L1289.9,492.8 L1291.5,490.9 L1293.7,489.9 L1296.0,491.0 L1298.7,491.0 L1301.0,491.9 L1303.4,492.9 L1305.7,493.9 L1307.3,495.7 L1308.2,498.0 L1309.7,499.9 L1309.2,502.3 L1308.8,504.7 L1308.0,507.0 L1308.6,509.6 L1307.7,511.9 L1308.3,514.5 L1309.5,517.1 L1309.7,519.9 L1308.9,522.4 L1307.8,524.9 L1306.4,527.2 L1305.7,529.9 L1303.4,529.2 L1300.9,529.0 L1298.6,528.3 L1296.1,528.4 L1293.7,527.9 L1291.6,526.0 L1289.7,523.9 L1288.0,521.5 L1285.7,519.9 L1286.0,517.2 L1285.7,514.5 L1285.6,511.9 L1285.6,509.2 L1285.5,506.5 L1285.7,503.9 L1286.2,501.4 L1286.2,498.8 L1287.7,496.5Z" fill="#c5e4ec"/>
<path d="M1319.7,545.8 L1322.1,544.5 L1324.6,543.6 L1327.3,543.3 L1329.7,541.8 L1329.7,544.4 L1328.7,546.8 L1328.5,549.4 L1327.7,551.8 L1326.8,554.4 L1325.6,556.8 L1324.4,559.2 L1323.0,561.5 L1321.7,563.8 L1320.3,566.7 L1319.7,569.8 L1318.1,567.4 L1315.7,565.8 L1316.4,563.4 L1316.5,560.8 L1317.0,558.3 L1317.7,555.8 L1317.9,553.3 L1318.5,550.8 L1319.6,548.4Z" fill="#0070c0"/>
<path d="M1221.8,499.9 L1224.4,499.0 L1227.2,498.9 L1229.8,497.9 L1231.3,499.9 L1233.2,501.5 L1234.3,503.8 L1235.8,505.9 L1233.8,507.3 L1231.7,508.3 L1229.8,509.9 L1228.5,512.5 L1227.0,515.0 L1225.6,517.6 L1223.8,519.9 L1222.2,522.4 L1221.6,525.4 L1219.8,527.9 L1218.0,529.6 L1216.7,531.8 L1215.1,533.7 L1213.8,535.8 L1210.8,537.0 L1207.8,537.8 L1206.7,535.7 L1205.3,533.7 L1203.8,531.8 L1203.2,529.4 L1202.5,526.9 L1201.9,524.5 L1200.6,522.2 L1199.8,519.9 L1202.0,518.5 L1204.5,517.9 L1206.9,517.1 L1209.4,516.7 L1211.8,515.9 L1213.0,513.6 L1214.9,512.0 L1216.6,510.1 L1217.8,507.9 L1219.3,505.3 L1220.2,502.4Z" fill="#0070c0"/>
<path d="M1089.9,513.9 L1091.9,512.4 L1094.2,511.3 L1096.0,509.5 L1097.9,507.9 L1099.8,506.2 L1101.6,504.2 L1104.2,503.4 L1106.0,501.6 L1107.9,499.9 L1110.9,498.9 L1113.9,497.9 L1116.7,497.6 L1119.4,497.1 L1121.9,495.9 L1123.9,499.9 L1122.1,501.8 L1119.9,503.1 L1117.8,504.6 L1116.3,506.7 L1113.9,507.9 L1112.9,510.4 L1111.5,512.7 L1111.2,515.5 L1109.9,517.9 L1107.8,519.1 L1105.8,520.3 L1103.9,521.9 L1101.0,520.5 L1097.9,519.9 L1096.2,518.0 L1094.0,516.7 L1092.1,515.1Z" fill="#0070c0"/>
<path d="M1036.0,493.9 L1037.7,492.0 L1039.8,490.6 L1042.2,489.8 L1044.0,487.9 L1046.0,486.0 L1047.8,483.7 L1049.9,481.8 L1052.0,479.9 L1054.5,481.3 L1057.0,482.8 L1059.7,484.0 L1061.9,485.9 L1063.9,487.4 L1066.0,488.8 L1068.3,490.0 L1069.9,491.9 L1070.1,494.5 L1071.3,496.8 L1071.9,499.3 L1071.9,501.9 L1072.8,504.8 L1074.2,507.4 L1075.9,509.9 L1075.8,512.4 L1074.5,514.8 L1074.0,517.3 L1073.9,519.9 L1072.9,522.1 L1071.0,523.7 L1069.9,525.9 L1067.2,526.7 L1064.3,526.3 L1061.6,527.2 L1058.8,527.8 L1056.0,527.9 L1053.5,526.1 L1050.6,525.3 L1048.0,523.9 L1046.9,521.4 L1045.4,519.1 L1044.8,516.5 L1043.5,514.1 L1042.0,511.9 L1041.0,509.6 L1039.4,507.8 L1038.3,505.7 L1036.6,503.9 L1035.8,501.5 L1034.0,499.9 L1035.1,496.9Z" fill="#c5e4ec"/>
<path d="M1056.0,529.9 L1058.7,529.0 L1061.6,529.1 L1064.4,528.9 L1067.1,528.0 L1069.9,527.9 L1070.4,530.4 L1071.3,532.7 L1072.1,535.1 L1073.0,537.5 L1073.9,539.8 L1075.2,542.2 L1076.2,544.7 L1077.6,547.0 L1078.7,549.5 L1079.9,551.8 L1080.0,554.3 L1080.2,556.8 L1080.1,559.3 L1079.9,561.8 L1077.4,561.3 L1074.9,561.2 L1072.5,560.2 L1069.9,559.8 L1067.2,559.3 L1064.8,558.1 L1062.3,557.1 L1060.0,555.8 L1057.5,555.7 L1055.1,555.0 L1053.0,553.8 L1050.7,553.0 L1048.3,552.3 L1046.0,551.8 L1047.9,549.6 L1048.9,546.8 L1050.6,544.4 L1052.0,541.8 L1052.3,539.3 L1053.3,537.0 L1053.9,534.5 L1055.6,532.4Z" fill="#8bb3be"/>
<path d="M1121.9,527.9 L1124.4,527.3 L1126.8,526.5 L1129.2,525.9 L1131.6,524.9 L1133.9,523.9 L1136.6,523.4 L1139.0,522.2 L1141.2,520.5 L1143.9,519.9 L1145.5,521.8 L1147.0,523.8 L1148.3,525.9 L1149.9,527.9 L1149.1,530.2 L1148.9,532.6 L1148.7,535.1 L1148.0,537.4 L1147.9,539.8 L1145.2,540.3 L1143.1,542.3 L1140.5,543.2 L1137.9,543.8 L1136.0,545.4 L1134.1,546.8 L1131.9,547.8 L1130.7,545.6 L1129.2,543.6 L1127.1,542.1 L1125.9,539.8 L1123.5,538.2 L1121.8,535.9 L1119.9,533.8 L1120.5,530.7Z" fill="#c5e4ec"/>
<path d="M1141.9,603.8 L1144.3,603.1 L1146.8,602.7 L1149.0,601.3 L1151.5,600.7 L1153.9,599.8 L1156.5,599.6 L1159.1,598.7 L1161.9,599.3 L1164.5,598.0 L1167.2,597.9 L1169.8,597.8 L1172.5,597.6 L1175.2,597.1 L1177.8,596.2 L1180.5,596.2 L1183.2,596.3 L1185.8,595.8 L1187.0,598.7 L1187.8,601.8 L1186.8,604.1 L1184.6,605.6 L1183.7,608.1 L1181.8,609.8 L1180.0,611.6 L1178.1,613.1 L1175.5,613.8 L1173.8,615.8 L1171.1,616.3 L1168.5,617.1 L1165.8,617.5 L1163.2,618.3 L1160.4,618.6 L1157.9,619.8 L1155.4,619.7 L1153.0,619.2 L1150.7,618.5 L1148.2,618.4 L1145.9,617.8 L1144.5,615.2 L1142.7,612.8 L1140.9,610.6 L1139.9,607.8Z" fill="#8bb3be"/>
<path d="M1018.0,591.8 L1021.0,590.8 L1024.0,589.8 L1024.8,592.1 L1024.5,594.6 L1024.9,597.0 L1025.3,599.4 L1026.0,601.8 L1025.9,604.6 L1025.2,607.4 L1025.2,610.2 L1024.1,612.9 L1024.0,615.8 L1021.5,617.0 L1018.6,616.7 L1016.0,617.8 L1015.9,615.3 L1015.0,613.0 L1014.2,610.7 L1013.5,608.4 L1012.6,606.1 L1012.0,603.8 L1013.3,601.4 L1014.4,599.0 L1015.5,596.5 L1016.8,594.2Z" fill="#c5e4ec"/>
<path d="M1369.6,414.0 L1372.1,412.2 L1374.7,410.8 L1377.6,410.0 L1379.6,408.4 L1382.2,407.8 L1384.0,406.0 L1383.9,408.4 L1383.5,410.8 L1383.8,413.3 L1383.7,415.7 L1384.0,418.1 L1383.9,420.5 L1384.6,423.0 L1384.5,425.4 L1384.6,427.8 L1384.1,430.2 L1384.6,432.7 L1384.4,435.1 L1384.5,437.5 L1384.0,439.9 L1382.7,437.9 L1380.4,436.8 L1378.6,435.2 L1377.4,433.0 L1375.5,431.5 L1373.6,430.0 L1372.1,427.4 L1370.7,424.7 L1369.6,422.0 L1370.1,419.3 L1369.2,416.6Z" fill="#002060"/>
<path d="M1367.6,390.0 L1370.0,389.0 L1372.6,388.9 L1375.2,388.7 L1377.6,388.0 L1379.6,389.5 L1382.2,390.2 L1384.0,392.0 L1384.1,394.7 L1384.0,397.3 L1384.0,400.0 L1381.2,400.4 L1378.4,401.1 L1375.6,402.0 L1374.2,400.0 L1373.2,397.8 L1371.6,396.0 L1369.9,394.2 L1368.6,392.2Z" fill="#8bb3be"/>
<path d="M1016.0,655.0 L1019.0,653.9 L1022.0,653.0 L1023.6,655.3 L1026.0,656.9 L1027.4,658.9 L1028.5,661.0 L1030.0,662.9 L1029.9,665.9 L1030.0,668.9 L1027.3,668.8 L1024.7,669.5 L1022.0,668.9 L1018.9,669.8 L1016.0,670.9 L1014.8,668.9 L1013.7,666.7 L1012.0,664.9 L1013.4,662.6 L1014.2,660.0 L1015.1,657.5Z" fill="#0070c0"/>
<path d="M1396.0,281.9 L1398.9,282.8 L1401.3,284.7 L1404.0,285.9 L1406.6,286.3 L1409.3,286.4 L1412.0,285.9 L1412.8,288.5 L1413.9,291.0 L1415.5,293.2 L1416.0,295.9 L1419.0,296.8 L1422.0,297.9 L1420.1,300.3 L1419.6,303.4 L1418.0,305.9 L1416.1,307.7 L1414.8,309.8 L1413.3,311.8 L1412.0,313.9 L1411.3,316.6 L1410.8,319.3 L1410.0,321.9 L1407.5,320.3 L1404.8,319.0 L1402.0,317.9 L1399.5,317.9 L1397.0,318.5 L1394.5,318.0 L1392.0,317.9 L1391.0,315.3 L1390.2,312.7 L1390.0,309.9 L1390.7,307.6 L1391.2,305.2 L1392.6,303.1 L1392.4,300.5 L1393.7,298.4 L1394.0,295.9 L1394.0,293.1 L1394.8,290.3 L1395.0,287.5 L1395.0,284.7Z" fill="#0f5584"/>
<path d="M1469.9,299.9 L1471.6,298.0 L1474.0,297.0 L1476.2,295.8 L1477.9,293.9 L1481.1,294.4 L1483.9,295.9 L1485.6,298.4 L1486.2,301.4 L1487.9,303.9 L1486.4,305.8 L1485.0,307.8 L1483.9,309.9 L1481.9,311.9 L1479.9,313.9 L1477.7,312.1 L1475.9,309.9 L1473.9,308.6 L1471.6,307.7 L1469.9,305.9 L1470.3,302.9Z" fill="#0070c0"/>
<path d="M1547.8,307.9 L1549.5,305.8 L1551.5,304.2 L1553.9,303.0 L1555.5,300.9 L1557.7,299.4 L1559.8,297.9 L1559.8,300.6 L1560.6,303.2 L1560.8,305.9 L1563.2,304.6 L1565.2,302.7 L1567.9,301.9 L1569.8,299.9 L1573.8,297.9 L1575.7,299.6 L1576.7,302.0 L1578.6,303.7 L1579.8,305.9 L1581.2,308.5 L1582.7,311.1 L1583.8,313.9 L1582.2,316.0 L1579.4,316.7 L1577.7,318.5 L1575.6,320.0 L1573.8,321.9 L1571.4,320.3 L1570.0,317.8 L1567.8,315.9 L1565.7,317.4 L1564.1,319.4 L1562.1,321.1 L1559.7,322.1 L1557.8,323.9 L1556.4,322.0 L1555.0,320.0 L1553.8,317.9 L1552.8,315.2 L1551.2,312.7 L1549.0,310.6Z" fill="#8bb3be"/>
<path d="M1483.9,335.9 L1486.4,337.5 L1489.5,338.0 L1491.9,339.9 L1493.7,338.2 L1495.5,336.4 L1498.0,335.6 L1499.9,333.9 L1502.1,334.9 L1503.9,336.6 L1505.9,337.9 L1507.4,340.5 L1508.8,343.1 L1509.9,345.9 L1509.6,348.5 L1510.2,351.2 L1509.9,353.9 L1507.4,353.7 L1504.9,353.8 L1502.4,353.4 L1499.9,353.9 L1497.6,352.1 L1495.6,350.2 L1493.9,347.9 L1492.1,345.7 L1489.8,344.0 L1487.9,341.9 L1486.8,339.7 L1485.0,338.0Z" fill="#0070c0"/>
<path d="M1459.9,365.9 L1463.9,363.9 L1466.3,365.5 L1467.9,367.9 L1469.6,370.2 L1471.9,371.9 L1470.3,373.7 L1468.8,375.5 L1467.9,377.9 L1464.7,378.3 L1461.9,379.9 L1460.3,378.1 L1458.8,376.1 L1457.9,373.9 L1458.3,371.1 L1459.0,368.5Z" fill="#c5e4ec"/>
<path d="M1380.0,389.8 L1382.5,389.4 L1384.9,388.5 L1387.1,387.1 L1389.7,386.9 L1392.0,385.8 L1392.5,388.2 L1392.3,390.7 L1392.8,393.1 L1394.0,395.4 L1394.0,397.8 L1391.9,399.8 L1390.3,402.1 L1388.0,403.8 L1385.2,404.1 L1382.5,404.6 L1380.0,405.8 L1380.3,403.2 L1380.3,400.5 L1379.6,397.8 L1379.8,395.2 L1380.6,392.5Z" fill="#8bb3be"/>
<path d="M1380.0,405.8 L1381.9,404.4 L1384.2,403.5 L1386.0,401.8 L1388.2,400.9 L1390.3,399.6 L1392.0,397.8 L1394.2,398.9 L1396.5,399.6 L1399.0,399.7 L1401.4,400.1 L1403.6,401.5 L1406.0,401.8 L1404.9,404.4 L1404.7,407.2 L1404.0,409.8 L1405.4,412.4 L1406.5,415.2 L1408.0,417.8 L1408.8,420.7 L1411.0,422.9 L1412.0,425.8 L1409.2,426.1 L1406.6,426.8 L1404.0,427.8 L1401.5,428.4 L1399.1,429.1 L1396.8,430.1 L1394.3,430.6 L1392.0,431.8 L1389.0,431.7 L1386.0,431.4 L1383.0,431.3 L1380.0,431.8 L1379.5,429.2 L1380.1,426.6 L1380.6,424.0 L1379.8,421.4 L1379.4,418.8 L1379.9,416.2 L1380.1,413.6 L1379.7,411.0 L1380.5,408.4Z" fill="#002060"/>
<path d="M1443.9,405.8 L1446.1,404.5 L1448.7,404.0 L1451.2,403.8 L1453.4,402.3 L1455.9,401.8 L1458.8,402.8 L1461.4,404.3 L1463.9,405.8 L1462.9,408.0 L1461.0,409.7 L1459.9,411.8 L1457.2,412.1 L1454.7,413.5 L1451.9,413.8 L1449.3,413.9 L1446.8,414.4 L1444.5,415.4 L1441.9,415.8 L1442.3,413.3 L1443.4,410.9 L1443.2,408.3Z" fill="#c5e4ec"/>
<path d="M1597.8,419.8 L1599.9,418.3 L1602.1,416.9 L1603.8,414.9 L1605.6,412.9 L1607.8,411.5 L1609.8,409.8 L1611.8,408.6 L1613.8,407.1 L1615.8,405.8 L1618.0,407.6 L1620.2,409.4 L1621.5,412.1 L1624.2,413.4 L1625.8,415.8 L1625.1,418.2 L1625.2,420.7 L1624.8,423.0 L1624.7,425.5 L1623.8,427.8 L1625.2,429.8 L1627.0,431.6 L1628.6,433.5 L1629.8,435.8 L1629.7,438.8 L1629.9,441.8 L1630.0,444.8 L1629.8,447.8 L1626.7,447.1 L1623.8,445.8 L1622.4,443.8 L1621.3,441.6 L1620.2,439.5 L1618.4,437.8 L1616.9,435.9 L1615.8,433.8 L1613.1,432.6 L1610.9,430.6 L1608.1,429.6 L1605.8,427.8 L1603.5,426.1 L1601.9,423.7 L1599.8,421.8Z" fill="#0f5584"/>
<path d="M1553.8,429.8 L1557.8,427.8 L1559.3,430.1 L1560.4,432.6 L1561.4,435.1 L1561.8,437.8 L1564.0,439.6 L1565.8,441.8 L1564.4,444.1 L1563.5,446.6 L1563.0,449.4 L1561.8,451.8 L1559.3,451.3 L1556.8,451.9 L1554.3,451.7 L1551.8,451.8 L1549.2,451.5 L1546.5,452.2 L1543.8,451.8 L1544.5,449.1 L1546.2,446.9 L1546.6,444.2 L1547.8,441.8 L1549.3,439.5 L1550.2,437.0 L1551.2,434.5 L1553.1,432.4Z" fill="#0f5584"/>
<path d="M1491.9,449.8 L1494.6,449.3 L1497.1,448.0 L1499.9,447.8 L1501.4,449.6 L1502.8,451.6 L1503.9,453.8 L1504.7,456.7 L1506.4,459.2 L1507.9,461.8 L1507.7,464.3 L1507.0,466.8 L1506.8,469.3 L1505.9,471.8 L1505.8,474.3 L1504.5,476.5 L1503.9,479.0 L1501.4,478.4 L1499.0,477.8 L1496.8,476.6 L1494.4,476.1 L1491.9,475.8 L1491.6,473.3 L1490.8,471.0 L1490.4,468.6 L1489.6,466.3 L1488.5,464.1 L1487.9,461.8 L1488.9,459.5 L1489.2,456.9 L1489.8,454.4 L1490.5,452.0Z" fill="#0f5584"/>
<path d="M1525.9,457.8 L1528.5,457.0 L1531.1,456.2 L1533.8,455.8 L1535.9,457.0 L1537.7,458.6 L1539.8,459.8 L1542.8,460.6 L1545.1,462.6 L1547.8,463.8 L1546.6,466.5 L1545.7,469.3 L1543.8,471.8 L1541.2,472.4 L1538.4,472.8 L1535.8,473.8 L1533.1,473.5 L1530.6,472.2 L1527.9,471.8 L1527.9,468.9 L1526.7,466.2 L1527.2,463.3 L1526.0,460.6Z" fill="#c5e4ec"/>
<path d="M1491.9,452.0 L1494.5,450.5 L1497.4,449.6 L1499.9,448.0 L1502.1,449.8 L1503.9,452.0 L1504.1,454.7 L1504.2,457.3 L1503.9,460.0 L1505.2,462.0 L1506.7,463.8 L1507.9,466.0 L1507.0,468.3 L1507.5,470.8 L1506.2,473.1 L1506.6,475.6 L1505.9,478.0 L1503.1,477.6 L1500.6,476.4 L1497.9,476.0 L1496.0,474.5 L1493.7,473.7 L1491.9,472.0 L1491.0,469.4 L1489.7,467.0 L1489.0,464.4 L1487.9,462.0 L1488.8,459.4 L1489.9,457.0 L1490.4,454.3Z" fill="#0f5584"/>
<path d="M1525.9,458.0 L1528.7,456.5 L1531.8,456.0 L1534.3,457.7 L1537.4,458.3 L1539.8,460.0 L1542.4,461.0 L1545.2,461.1 L1547.8,462.0 L1546.3,464.5 L1545.3,467.4 L1543.8,470.0 L1541.2,470.6 L1538.6,471.6 L1535.8,472.0 L1533.2,472.2 L1530.5,472.4 L1527.9,472.0 L1527.8,469.1 L1526.5,466.5 L1527.1,463.5 L1526.6,460.7Z" fill="#c5e4ec"/>
<path d="M1541.8,497.9 L1544.4,496.3 L1547.0,495.0 L1549.8,493.9 L1552.9,493.3 L1555.8,491.9 L1557.4,493.9 L1559.1,495.7 L1560.3,498.0 L1561.8,499.9 L1562.0,502.7 L1562.7,505.4 L1563.8,507.9 L1564.4,510.6 L1565.1,513.3 L1565.8,515.9 L1565.5,518.9 L1565.8,521.9 L1563.4,522.6 L1560.9,523.5 L1558.3,523.4 L1555.8,523.9 L1551.8,525.9 L1549.5,524.2 L1547.6,522.1 L1545.8,519.9 L1542.8,519.1 L1539.8,517.9 L1540.4,515.4 L1540.3,512.8 L1541.0,510.4 L1541.8,507.9 L1541.3,505.4 L1542.3,502.9 L1542.4,500.4Z" fill="#0f5584"/>
<path d="M1477.9,517.9 L1480.6,517.5 L1483.1,516.0 L1485.9,515.9 L1487.6,513.6 L1489.9,511.9 L1490.9,514.7 L1492.6,517.2 L1493.9,519.9 L1495.7,521.5 L1498.0,522.4 L1499.9,523.9 L1503.9,525.9 L1502.4,528.8 L1501.9,531.9 L1500.0,533.6 L1497.8,534.8 L1495.8,536.3 L1493.9,537.9 L1492.0,539.5 L1490.0,540.8 L1487.9,541.9 L1487.1,539.0 L1485.7,536.3 L1483.9,533.9 L1483.3,530.8 L1481.9,527.9 L1481.2,525.3 L1480.0,522.9 L1478.7,520.5Z" fill="#8bb3be"/>
<path d="M1495.9,539.9 L1498.5,539.1 L1501.3,539.8 L1503.9,539.2 L1506.5,538.3 L1509.3,538.7 L1511.9,537.9 L1512.4,540.6 L1513.7,543.1 L1513.9,545.9 L1516.6,546.4 L1519.3,546.9 L1521.9,547.9 L1521.9,550.3 L1522.3,552.8 L1522.9,555.1 L1523.5,557.5 L1523.9,559.9 L1524.1,562.6 L1525.3,565.2 L1525.9,567.9 L1523.1,568.3 L1520.3,567.7 L1517.5,567.4 L1514.7,567.4 L1511.9,567.9 L1509.0,567.9 L1506.3,568.7 L1503.5,569.1 L1500.7,569.3 L1497.9,569.9 L1496.9,567.4 L1496.4,564.7 L1495.1,562.3 L1493.9,559.9 L1494.5,557.4 L1494.5,554.9 L1494.1,552.3 L1494.4,549.8 L1494.8,547.4 L1495.5,544.9 L1496.1,542.4Z" fill="#0f5584"/>
<path d="M1611.8,515.9 L1614.1,514.3 L1615.8,512.0 L1617.8,509.9 L1620.7,508.7 L1623.8,507.9 L1623.6,510.6 L1624.1,513.3 L1623.8,515.9 L1622.4,518.6 L1621.1,521.3 L1619.8,523.9 L1616.8,523.4 L1613.8,523.9 L1611.5,524.8 L1610.1,527.0 L1607.8,527.9 L1608.9,525.6 L1609.5,523.2 L1610.3,520.8 L1610.9,518.3Z" fill="#8bb3be"/>
<path d="M1585.8,579.9 L1588.1,578.9 L1590.0,577.5 L1591.8,575.9 L1594.5,575.4 L1597.1,575.7 L1599.8,575.9 L1600.7,578.5 L1601.4,581.1 L1601.8,583.9 L1600.6,586.1 L1598.6,587.7 L1597.4,589.9 L1595.8,591.8 L1594.7,594.6 L1593.3,597.3 L1591.8,599.8 L1588.9,600.8 L1586.6,602.9 L1583.8,603.8 L1582.8,601.6 L1581.2,599.8 L1579.8,597.8 L1580.8,595.3 L1581.4,592.7 L1583.4,590.6 L1583.8,587.9 L1584.8,585.3 L1585.3,582.6Z" fill="#8bb3be"/>
<path d="M1553.8,623.8 L1556.8,622.9 L1559.8,621.8 L1562.5,622.0 L1565.1,621.7 L1567.8,621.8 L1569.6,623.5 L1570.8,625.6 L1571.8,627.8 L1572.0,630.8 L1571.8,633.8 L1569.3,634.9 L1566.4,634.8 L1563.8,635.8 L1560.8,636.7 L1557.8,637.8 L1557.6,635.0 L1556.9,632.4 L1555.8,629.8 L1554.9,626.8Z" fill="#8bb3be"/>
<path d="M1579.8,629.8 L1582.5,629.3 L1585.0,628.2 L1587.8,627.8 L1590.3,627.7 L1592.5,628.9 L1594.9,629.5 L1597.4,629.1 L1599.8,629.8 L1600.8,632.0 L1602.5,633.8 L1603.8,635.8 L1601.1,636.4 L1598.3,636.7 L1595.8,637.8 L1593.3,637.3 L1590.8,637.4 L1588.3,637.4 L1585.8,637.8 L1581.8,635.8 L1581.0,632.7Z" fill="#c5e4ec"/>
<path d="M672.2,289.4 L674.8,288.2 L677.6,288.1 L678.4,290.7 L678.9,293.4 L677.9,296.2 L676.2,298.8 L678.0,301.2 L678.9,304.1 L682.9,305.4 L681.6,308.1 L680.3,310.8 L682.7,313.1 L685.6,314.8 L686.6,317.4 L686.9,320.3 L688.3,322.8 L686.5,325.0 L684.3,326.8 L681.7,325.5 L678.7,325.3 L676.1,324.2 L673.6,322.8 L671.2,322.0 L668.7,322.3 L666.4,321.2 L664.0,320.7 L661.6,320.1 L663.5,318.4 L665.0,316.2 L666.8,314.3 L668.2,312.1 L669.1,309.2 L670.5,306.6 L672.2,304.1 L673.7,301.5 L674.9,298.8 L674.3,296.4 L674.1,293.9 L673.4,291.6Z" fill="#0070c0"/>
<path d="M689.6,312.1 L693.0,311.8 L696.3,310.8 L699.4,310.7 L702.5,309.6 L705.6,309.4 L707.5,307.7 L709.2,305.9 L711.0,304.1 L713.6,302.8 L714.8,305.3 L716.5,307.4 L717.7,309.9 L719.3,312.2 L720.3,314.8 L721.4,317.6 L723.5,319.9 L724.0,323.0 L725.7,325.5 L724.8,328.1 L725.2,330.9 L724.3,333.5 L721.5,334.0 L719.1,335.6 L716.3,336.2 L715.7,339.2 L715.9,342.5 L715.0,345.5 L712.5,347.7 L709.6,349.5 L707.0,347.4 L704.3,345.5 L703.4,342.9 L701.8,340.7 L700.0,338.7 L699.0,336.2 L696.9,334.5 L695.9,331.9 L693.7,330.3 L692.3,328.1 L691.8,325.5 L691.6,322.8 L691.2,320.1 L690.1,317.5 L690.1,314.8Z" fill="#002060"/>
<path d="M713.6,298.8 L716.6,297.9 L719.0,296.1 L721.1,297.9 L723.0,300.1 L720.9,302.0 L719.0,304.1 L717.1,302.4 L715.0,300.9Z" fill="#0070c0"/>
<path d="M593.5,354.9 L597.5,353.5 L599.1,355.6 L601.6,356.7 L603.1,359.0 L605.5,360.2 L607.5,361.5 L609.5,362.9 L611.6,364.0 L613.5,365.5 L616.9,365.7 L620.2,366.9 L621.9,369.7 L624.2,372.2 L623.1,375.7 L621.5,378.9 L618.8,379.0 L616.1,379.6 L613.5,380.2 L611.8,378.5 L609.4,377.7 L607.4,376.4 L605.5,374.9 L603.8,372.5 L601.9,370.4 L600.1,368.2 L599.2,365.9 L597.4,364.3 L596.4,362.0 L594.8,360.2 L593.8,357.6Z" fill="#8bb3be"/>
<path d="M638.9,366.9 L640.9,365.3 L643.2,364.3 L645.3,362.9 L647.2,361.3 L649.5,360.2 L651.7,361.6 L653.5,363.4 L654.9,365.5 L656.4,368.1 L657.7,370.8 L658.9,373.5 L659.0,376.2 L658.9,378.9 L658.9,381.6 L657.0,383.1 L654.9,384.2 L652.0,383.2 L649.4,381.8 L646.9,380.2 L644.6,378.0 L642.8,375.4 L640.2,373.5 L640.0,370.1Z" fill="#c5e4ec"/>
<path d="M624.2,373.5 L626.6,372.9 L628.5,371.1 L630.7,370.0 L632.9,368.8 L635.5,368.4 L637.5,366.9 L639.1,369.3 L640.7,371.7 L642.9,373.5 L645.1,374.9 L647.2,376.4 L648.9,378.5 L650.9,380.2 L652.9,382.1 L654.1,384.5 L655.6,386.7 L656.8,389.1 L658.9,390.9 L656.3,393.0 L653.5,394.9 L650.9,394.2 L648.3,393.7 L645.5,393.6 L643.0,392.1 L640.2,390.9 L637.5,389.6 L634.9,388.5 L632.3,387.4 L629.5,386.9 L627.2,384.4 L625.5,381.6 L624.5,379.0 L624.9,376.2Z" fill="#0f5584"/>
<path d="M628.2,389.6 L631.4,388.5 L634.9,388.2 L635.9,390.4 L637.5,392.2 L634.9,393.7 L632.2,394.9 L630.6,391.9Z" fill="#0070c0"/>
<path d="M624.2,388.2 L626.8,389.1 L629.5,389.6 L630.2,392.3 L630.8,395.0 L631.4,397.7 L631.8,400.4 L631.8,403.2 L632.2,406.0 L629.5,405.7 L626.8,405.4 L624.2,406.0 L624.5,403.5 L624.2,400.9 L624.3,398.4 L624.3,395.8 L623.6,393.3 L624.3,390.8Z" fill="#c5e4ec"/>
<path d="M974.8,350.8 L977.4,350.1 L980.1,349.4 L982.6,351.1 L985.5,352.1 L988.1,352.9 L990.9,353.3 L993.5,354.0 L996.2,354.8 L998.6,355.2 L1001.1,354.8 L1003.5,355.6 L1005.9,355.7 L1008.4,355.8 L1010.8,356.1 L1009.2,358.5 L1006.8,360.1 L1004.7,361.3 L1003.1,363.3 L1001.0,364.5 L998.8,365.5 L996.2,366.8 L994.7,369.5 L992.1,370.8 L990.0,372.2 L988.6,374.4 L986.8,376.2 L987.7,378.8 L988.1,381.5 L989.8,383.6 L990.4,386.4 L992.5,388.3 L993.5,390.8 L992.6,393.5 L992.1,396.2 L990.1,394.2 L988.1,392.2 L986.4,389.7 L985.1,387.0 L983.8,384.3 L982.8,381.5 L980.4,379.1 L978.8,376.2 L977.1,374.3 L974.8,373.5 L974.1,370.9 L974.7,368.1 L973.5,365.5 L973.5,362.8 L973.7,360.4 L973.6,357.9 L974.4,355.6 L974.3,353.2Z" fill="#0f5584"/>
<path d="M1009.5,350.8 L1010.4,348.2 L1011.8,345.9 L1013.4,343.7 L1014.9,341.4 L1015.3,338.6 L1016.2,335.9 L1017.5,333.4 L1018.7,330.7 L1020.3,328.1 L1021.5,325.4 L1024.1,323.8 L1026.9,322.7 L1026.1,325.4 L1025.5,328.1 L1023.8,330.1 L1022.1,332.2 L1020.3,334.1 L1018.7,336.3 L1017.5,338.8 L1016.4,341.5 L1014.8,344.1 L1013.1,346.5 L1012.2,349.4Z" fill="#0f5584"/>
<path d="M1014.9,378.8 L1017.1,377.8 L1019.0,376.4 L1021.1,375.2 L1022.9,373.5 L1025.2,371.8 L1027.4,370.0 L1029.8,368.4 L1032.2,366.8 L1035.1,365.0 L1037.6,362.8 L1039.6,364.7 L1041.6,366.8 L1040.2,369.3 L1037.6,371.0 L1036.2,373.5 L1034.8,375.6 L1032.3,376.7 L1030.9,378.8 L1027.4,379.8 L1024.2,381.5 L1020.9,380.9 L1017.5,380.2Z" fill="#8bb3be"/>
<path d="M1360.2,482.1 L1363.0,479.9 L1365.0,476.8 L1367.9,477.8 L1369.7,480.3 L1370.8,483.1 L1373.8,484.8 L1376.6,486.9 L1379.5,488.9 L1381.8,491.0 L1383.3,493.7 L1387.2,495.6 L1388.8,493.7 L1391.0,492.3 L1392.9,490.8 L1394.9,486.9 L1397.5,487.4 L1399.7,488.9 L1401.6,492.7 L1401.8,495.7 L1402.6,498.5 L1403.6,500.9 L1404.6,503.3 L1405.5,505.7 L1406.4,508.1 L1406.9,510.5 L1406.5,513.0 L1407.5,515.3 L1407.4,517.7 L1407.1,520.2 L1407.8,522.6 L1407.1,525.0 L1407.4,527.4 L1409.4,530.2 L1411.2,533.1 L1412.1,535.7 L1411.8,538.5 L1413.2,541.0 L1413.1,543.7 L1410.3,542.9 L1407.4,542.8 L1404.8,542.6 L1402.2,542.5 L1399.7,541.8 L1395.8,542.8 L1392.9,543.3 L1390.0,542.8 L1387.6,542.3 L1385.2,542.8 L1382.0,544.2 L1378.5,544.7 L1376.6,546.6 L1378.2,549.3 L1380.4,551.4 L1380.8,554.8 L1380.4,558.2 L1380.6,561.1 L1381.0,564.0 L1381.4,566.8 L1378.5,569.7 L1376.2,568.6 L1373.6,567.9 L1371.3,566.9 L1368.9,565.9 L1367.8,563.5 L1366.9,561.1 L1367.6,558.2 L1367.9,555.3 L1366.2,553.2 L1364.1,551.4 L1361.6,551.2 L1359.3,550.0 L1357.0,549.4 L1354.4,549.5 L1355.5,547.1 L1356.4,544.7 L1356.1,541.3 L1355.4,538.0 L1357.9,537.0 L1360.0,535.6 L1362.1,534.1 L1363.1,538.0 L1366.0,538.3 L1368.9,538.0 L1369.8,534.1 L1369.3,530.7 L1369.8,527.4 L1369.3,524.5 L1368.9,521.6 L1371.8,519.7 L1370.9,516.9 L1369.3,514.5 L1367.9,512.0 L1366.5,509.6 L1364.3,507.7 L1363.1,505.2 L1360.8,503.7 L1358.9,501.7 L1357.3,499.5 L1357.0,496.9 L1357.5,494.3 L1357.3,491.8 L1360.2,488.9 L1360.5,485.5Z" fill="#002060"/>
<path d="M305.6,605.6 L308.5,606.8 L310.9,608.8 L313.4,609.8 L316.0,610.1 L318.6,610.8 L321.3,610.9 L324.4,611.4 L327.5,611.9 L330.6,613.0 L333.8,614.0 L337.0,614.1 L340.1,615.0 L344.2,616.1 L347.0,617.0 L349.7,618.3 L352.6,619.2 L355.1,621.1 L358.0,622.2 L360.9,623.4 L363.3,625.2 L364.8,627.8 L367.2,629.6 L368.9,632.5 L371.3,634.8 L369.5,637.7 L367.2,640.1 L367.7,643.0 L368.8,645.8 L370.3,648.4 L370.3,651.2 L371.6,653.9 L371.3,656.7 L373.1,659.1 L375.5,660.9 L377.8,663.4 L380.7,665.1 L380.1,667.9 L378.6,670.3 L376.2,668.8 L373.4,668.2 L370.9,668.2 L368.6,669.3 L366.1,669.2 L365.0,671.9 L363.4,674.2 L361.9,676.5 L360.2,678.8 L358.6,681.1 L357.3,683.6 L355.7,685.9 L357.6,687.4 L359.5,688.9 L361.5,690.2 L363.0,692.2 L364.6,695.3 L366.1,698.4 L363.4,699.5 L360.7,700.3 L357.8,700.5 L355.2,701.2 L352.6,701.6 L349.8,701.5 L347.4,702.6 L345.5,701.0 L343.9,699.3 L341.5,698.3 L340.1,696.4 L335.9,694.3 L332.7,695.1 L329.6,696.4 L327.0,694.3 L324.4,692.2 L325.9,690.2 L328.1,688.9 L329.6,687.0 L328.4,683.9 L327.5,680.7 L328.2,678.1 L329.9,676.0 L330.7,673.4 L330.1,670.1 L328.6,667.2 L327.1,664.2 L326.5,660.9 L326.4,658.4 L325.9,656.0 L325.5,653.6 L323.0,651.9 L320.1,651.3 L317.8,649.4 L315.0,648.4 L313.7,646.2 L311.4,644.9 L310.3,642.5 L308.3,641.0 L306.7,639.0 L306.8,636.5 L306.0,634.0 L306.4,631.5 L305.5,629.0 L305.6,626.5 L305.0,623.6 L304.2,620.7 L302.9,618.0 L302.5,615.0 L302.7,612.5 L304.0,610.3 L305.3,608.1Z" fill="#002060"/>
<path d="M300.4,596.3 L302.3,594.3 L304.3,592.4 L305.6,590.0 L308.3,590.3 L311.0,589.8 L313.6,590.5 L316.3,590.2 L319.0,590.0 L321.6,590.2 L324.3,589.6 L327.0,590.1 L329.6,590.0 L332.3,591.3 L334.6,593.0 L337.5,593.7 L340.1,595.2 L342.2,596.4 L344.4,597.6 L346.1,599.5 L348.4,600.4 L347.7,603.1 L346.3,605.5 L346.6,608.4 L345.3,610.9 L341.1,611.9 L338.7,609.5 L335.9,607.7 L333.7,609.0 L331.4,610.0 L329.6,611.9 L326.8,611.4 L324.0,610.7 L321.3,609.8 L318.7,609.2 L316.0,609.0 L313.5,608.1 L310.9,607.7 L307.9,605.8 L304.6,604.6 L302.9,602.8 L300.8,601.4 L299.4,599.4Z" fill="#0070c0"/>
<path d="M353.6,612.9 L355.1,610.4 L356.7,607.9 L357.9,605.3 L358.8,602.5 L361.4,602.7 L364.0,602.4 L366.6,602.0 L369.2,602.5 L371.6,604.1 L374.2,605.1 L376.5,606.7 L378.6,609.6 L379.7,612.9 L382.6,613.1 L385.2,614.3 L388.0,615.0 L390.6,615.4 L392.8,616.7 L395.2,617.5 L397.4,618.9 L400.0,619.2 L397.3,621.1 L394.3,622.3 L391.7,622.1 L389.1,622.4 L386.5,622.9 L383.8,622.3 L380.8,623.4 L377.6,623.4 L376.5,626.3 L375.2,629.1 L373.4,631.7 L369.2,629.6 L367.3,627.4 L365.0,625.6 L363.0,623.4 L361.2,621.2 L358.9,619.5 L357.1,617.3 L355.6,614.9Z" fill="#c5e4ec"/>
<path d="M366.1,700.5 L367.6,698.5 L369.7,697.3 L371.4,695.7 L373.4,694.3 L376.4,693.7 L378.9,692.0 L381.8,691.1 L383.3,688.2 L383.8,684.9 L384.9,687.8 L387.0,690.1 L389.8,692.0 L392.2,694.3 L394.7,693.5 L397.4,693.2 L400.0,693.2 L399.6,696.1 L399.7,699.0 L399.2,701.9 L398.4,704.7 L396.8,706.9 L395.4,709.2 L393.2,711.0 L391.1,715.1 L388.4,713.8 L386.0,712.1 L383.8,709.9 L381.2,709.2 L378.7,708.2 L376.0,707.7 L373.4,706.8 L370.3,705.7 L367.2,704.7Z" fill="#0070c0"/>
<path d="M442.8,575.6 L445.0,574.4 L447.2,573.3 L449.0,571.4 L451.2,570.3 L453.5,569.2 L455.8,568.1 L457.6,566.2 L460.1,565.5 L462.1,563.9 L465.1,562.8 L467.9,561.3 L470.6,559.6 L473.3,561.7 L475.9,563.9 L478.3,563.5 L480.7,563.0 L483.1,562.2 L485.6,562.3 L484.0,565.3 L482.4,568.2 L482.1,570.9 L481.3,573.5 L482.2,576.2 L483.4,578.8 L481.4,580.6 L479.1,582.1 L477.3,585.0 L474.9,587.4 L477.4,589.1 L479.1,591.7 L477.5,593.5 L476.2,595.6 L474.8,597.7 L472.7,599.1 L471.0,596.6 L469.6,593.9 L467.4,591.7 L464.8,589.4 L462.1,587.4 L459.6,586.2 L457.8,584.2 L454.5,584.9 L451.4,586.3 L450.3,584.2 L453.3,582.1 L456.7,581.0 L454.0,580.0 L451.4,578.8 L448.7,577.4 L445.6,577.0Z" fill="#002060"/>
<path d="M502.6,570.3 L504.8,566.0 L507.6,565.3 L510.5,564.6 L513.3,563.9 L515.9,563.0 L518.3,561.7 L520.8,560.7 L520.5,557.7 L518.8,555.1 L518.7,552.1 L521.3,551.9 L523.8,551.2 L526.4,551.1 L528.9,550.0 L531.5,550.0 L533.1,552.3 L534.9,554.4 L536.8,556.4 L538.9,559.4 L540.0,562.8 L538.2,564.8 L536.8,567.1 L535.7,569.4 L535.0,571.8 L534.9,574.5 L533.6,576.7 L531.7,579.1 L529.4,581.0 L526.2,578.8 L523.3,576.9 L520.8,574.6 L518.2,573.7 L515.5,573.5 L514.0,576.6 L513.3,579.9 L509.9,578.8 L506.9,576.7 L505.8,579.2 L504.3,581.5 L503.7,584.2 L500.5,582.1 L500.8,579.2 L501.5,576.4 L501.6,573.5Z" fill="#0f5584"/>
<path d="M509.1,558.5 L512.0,558.3 L514.8,557.4 L517.6,556.4 L518.7,560.7 L516.3,560.4 L513.9,561.3 L511.5,560.8 L509.1,560.7Z" fill="#c5e4ec"/>
<path d="M489.8,606.6 L491.8,604.9 L493.8,603.3 L496.2,602.4 L498.7,602.6 L501.2,602.5 L503.7,602.4 L503.7,604.9 L504.8,607.3 L504.8,609.8 L504.5,613.1 L503.7,616.2 L501.8,618.2 L500.1,620.5 L498.4,622.6 L494.1,624.8 L491.4,623.7 L488.4,623.5 L485.6,622.6 L483.0,621.3 L480.2,620.5 L481.3,616.2 L483.9,614.3 L486.9,613.3 L489.8,612.0 L489.8,609.3Z" fill="#0070c0"/>
<path d="M568.9,614.1 L570.8,612.2 L573.5,611.3 L575.4,609.5 L577.4,607.7 L580.0,606.0 L581.7,603.4 L582.2,600.9 L581.4,598.4 L581.7,595.9 L584.1,595.0 L586.1,593.5 L587.9,591.5 L590.3,590.6 L592.4,586.3 L593.9,589.4 L594.5,592.7 L596.1,595.8 L596.7,599.1 L597.9,601.4 L599.9,603.2 L600.9,605.6 L601.7,608.7 L602.0,612.0 L603.9,613.9 L605.2,616.2 L603.1,620.5 L605.6,622.3 L607.5,624.6 L609.5,626.9 L609.5,631.2 L606.8,633.0 L603.6,633.6 L600.9,635.5 L598.8,638.7 L595.8,636.6 L592.4,635.5 L589.9,636.7 L587.2,637.4 L584.2,637.4 L581.7,638.7 L583.7,636.4 L586.0,634.4 L583.7,632.8 L582.0,630.5 L579.6,629.1 L576.9,629.2 L574.2,629.1 L572.6,626.9 L570.8,625.1 L568.3,623.8 L566.8,621.6 L567.5,619.1 L568.0,616.5Z" fill="#002060"/>
<path d="M603.1,598.1 L605.4,596.9 L607.4,595.2 L609.5,593.8 L612.2,595.9 L614.8,598.1 L612.9,600.0 L611.6,602.4 L608.3,603.0 L605.2,604.5 L604.5,601.2Z" fill="#002060"/>
<path d="M761.7,285.2 L764.0,284.0 L765.7,282.0 L768.8,281.3 L772.1,281.2 L773.8,279.5 L776.1,278.4 L777.7,276.4 L780.1,276.5 L782.5,276.4 L784.8,275.5 L787.3,275.6 L789.7,278.8 L791.3,281.6 L793.7,283.6 L795.3,287.6 L794.5,290.0 L792.5,291.5 L790.3,292.8 L788.1,294.1 L786.5,298.1 L788.8,299.5 L791.3,300.5 L793.5,301.8 L796.1,302.1 L798.5,303.7 L800.9,305.3 L801.7,307.7 L797.7,308.5 L796.1,311.7 L796.9,315.7 L794.5,314.9 L792.9,312.8 L791.1,310.8 L789.7,308.5 L787.0,306.4 L784.9,303.7 L782.3,303.4 L780.1,302.1 L778.5,304.5 L780.1,308.5 L781.0,310.8 L780.9,313.3 L779.3,314.9 L778.0,312.7 L777.7,310.1 L775.6,307.7 L773.7,305.3 L772.1,307.7 L770.5,310.1 L767.3,308.5 L765.8,306.4 L764.1,304.5 L764.1,302.1 L766.5,300.9 L768.9,299.7 L767.4,297.6 L765.7,295.7 L764.1,293.5 L763.3,290.9 L762.9,287.9Z" fill="#002060"/>
<path d="M796.1,282.8 L798.1,281.1 L799.3,278.8 L802.6,278.8 L804.2,282.0 L803.4,286.0 L802.5,288.4 L802.6,290.9 L799.3,290.0 L796.1,287.6 L796.3,285.2Z" fill="#002060"/>
<path d="M757.6,324.5 L760.8,323.2 L764.1,322.1 L767.3,322.3 L770.5,322.1 L771.7,324.4 L773.7,326.1 L776.0,327.3 L777.7,329.3 L780.8,330.9 L783.3,333.4 L784.9,335.8 L787.5,336.5 L789.7,338.2 L786.4,337.8 L783.3,336.6 L781.0,335.2 L778.5,334.2 L775.7,332.2 L773.7,329.3 L771.4,327.8 L768.9,326.9 L766.4,328.8 L764.1,330.9 L762.1,329.3 L760.0,327.7Z" fill="#c5e4ec"/>
<path d="M805.8,324.5 L809.0,322.9 L811.4,323.2 L813.8,323.7 L815.4,327.7 L817.4,329.1 L819.5,330.5 L821.0,332.6 L824.2,335.0 L825.0,338.2 L822.5,338.2 L820.2,339.0 L817.6,338.7 L815.4,337.4 L813.0,336.6 L810.6,335.8 L807.2,335.4 L804.2,334.2 L804.1,331.7 L805.3,329.4 L805.3,326.9Z" fill="#8bb3be"/>
<path d="M796.1,335.8 L798.8,335.0 L801.5,335.0 L804.2,334.2 L807.5,334.5 L810.6,335.8 L813.9,336.7 L817.0,338.2 L819.4,338.6 L821.8,339.0 L825.0,338.4 L828.2,338.2 L828.5,340.8 L828.6,343.5 L829.0,346.2 L829.7,348.8 L829.3,351.6 L829.8,354.2 L826.6,355.8 L824.2,358.2 L824.5,361.4 L824.2,364.6 L821.8,365.1 L819.4,365.4 L816.2,362.2 L813.6,359.9 L810.6,358.2 L808.4,356.8 L806.6,355.0 L803.5,353.7 L800.1,353.4 L796.9,350.2 L795.7,347.4 L794.5,344.6 L795.2,341.7 L796.0,338.8Z" fill="#002060"/>
<path d="M762.5,348.6 L764.7,349.8 L767.3,350.2 L770.0,351.3 L772.1,353.4 L773.2,355.7 L773.7,358.2 L772.7,361.3 L772.9,364.6 L770.5,368.6 L767.3,367.8 L766.0,365.5 L765.0,363.1 L764.1,360.6 L763.9,357.8 L763.3,355.0 L763.0,351.8Z" fill="#c5e4ec"/>
<path d="M740.0,336.6 L742.5,336.0 L744.8,335.0 L747.9,336.0 L751.2,336.6 L753.6,337.8 L756.0,339.0 L759.2,342.2 L759.2,346.2 L756.1,346.8 L752.8,347.0 L750.5,345.9 L748.0,345.4 L746.4,347.8 L744.8,350.2 L741.6,353.4 L740.0,350.2 L739.8,347.5 L739.8,344.7 L739.9,342.0 L739.9,339.3Z" fill="#c5e4ec"/>
<path d="M726.0,455.6 L728.8,454.3 L731.8,453.7 L734.4,452.0 L737.4,451.8 L740.0,450.3 L742.9,449.6 L746.0,449.6 L748.9,448.4 L749.9,451.4 L750.1,454.4 L751.4,457.0 L753.7,459.0 L754.9,461.7 L755.0,464.8 L756.1,467.7 L755.1,470.8 L753.7,473.7 L750.8,474.8 L747.7,474.9 L745.8,472.4 L744.0,469.8 L741.7,467.7 L739.3,466.0 L736.8,464.5 L734.4,462.9 L732.4,460.8 L729.6,459.7 L727.2,458.0Z" fill="#002060"/>
<path d="M754.9,467.7 L757.1,465.1 L759.7,462.9 L762.5,462.2 L765.3,462.0 L768.1,461.7 L770.8,463.2 L773.8,463.9 L776.6,465.3 L778.4,466.8 L780.4,468.1 L782.2,469.8 L783.9,471.5 L786.2,472.5 L785.0,474.9 L783.3,477.1 L782.6,479.7 L780.4,482.4 L777.8,484.5 L775.5,486.1 L772.9,486.9 L770.5,488.1 L768.5,490.9 L765.7,492.9 L764.9,495.3 L764.1,497.7 L763.3,500.2 L761.6,502.1 L759.5,503.6 L757.3,505.0 L756.9,508.0 L756.1,511.0 L753.2,509.4 L750.1,508.6 L747.9,507.0 L745.0,506.7 L742.9,505.0 L743.7,502.5 L745.2,500.4 L745.8,497.8 L746.5,495.3 L748.3,493.3 L750.1,491.2 L751.5,488.7 L753.7,486.9 L755.6,485.1 L757.6,483.6 L759.7,482.1 L758.0,479.3 L757.3,476.1 L756.5,473.3 L755.1,470.6Z" fill="#0070c0"/>
<path d="M801.8,478.5 L804.3,477.8 L806.8,477.3 L809.0,476.1 L811.5,477.8 L813.9,479.7 L816.4,478.7 L818.9,477.7 L821.1,476.1 L823.4,475.1 L825.7,474.1 L828.3,473.7 L828.8,476.1 L828.6,478.5 L828.6,481.0 L829.6,483.3 L829.5,485.7 L830.5,488.4 L833.0,490.2 L833.6,493.2 L835.5,495.3 L833.0,497.1 L830.7,499.0 L828.3,495.3 L825.5,493.6 L822.3,492.9 L819.3,493.9 L816.5,494.9 L813.9,496.6 L811.6,495.5 L809.0,495.3 L808.8,492.9 L807.5,490.6 L807.2,488.1 L806.6,485.7 L805.0,483.3 L803.1,481.1Z" fill="#c5e4ec"/>
<path d="M829.5,473.7 L832.2,474.6 L835.1,474.3 L837.9,474.9 L840.4,474.9 L842.8,475.4 L845.1,476.1 L847.2,473.4 L849.9,471.3 L849.5,468.9 L850.5,466.5 L849.7,464.1 L849.9,461.7 L851.6,459.3 L853.7,457.3 L856.0,455.6 L859.6,453.2 L861.8,455.8 L864.4,458.0 L867.1,460.1 L869.2,462.9 L871.6,466.5 L872.4,469.1 L874.1,471.2 L875.2,473.7 L878.2,472.8 L881.2,472.5 L883.9,473.2 L886.0,475.0 L888.5,476.1 L890.8,477.0 L893.4,477.4 L895.7,478.5 L898.1,480.0 L900.0,482.1 L898.0,483.8 L895.7,484.9 L893.3,485.7 L890.6,485.5 L887.9,485.8 L885.3,485.5 L882.7,484.5 L880.0,484.5 L877.0,484.6 L874.0,484.5 L871.7,487.2 L870.4,490.5 L870.7,493.5 L870.4,496.6 L867.3,497.6 L864.4,499.0 L862.1,500.0 L859.6,500.2 L857.2,498.3 L854.8,496.6 L853.3,493.7 L852.4,490.5 L849.9,486.9 L847.5,483.3 L845.3,484.8 L842.7,485.7 L840.3,485.1 L837.9,486.3 L835.5,485.5 L833.1,485.7 L830.7,485.7 L830.2,483.3 L830.5,480.9 L830.1,478.5 L829.3,476.1Z" fill="#002060"/>
<path d="M834.3,502.6 L837.4,503.5 L840.3,505.0 L841.9,507.7 L843.9,510.2 L846.3,512.2 L848.6,513.5 L850.2,515.5 L852.4,517.0 L854.8,517.5 L857.2,517.9 L859.5,519.2 L862.0,519.4 L864.6,520.7 L866.7,522.8 L869.2,524.2 L871.4,526.3 L872.8,529.0 L870.1,529.7 L867.5,530.2 L864.7,530.4 L862.0,530.2 L859.7,529.3 L857.2,529.1 L854.8,529.0 L852.7,526.3 L849.9,524.2 L847.3,523.0 L844.2,523.1 L841.5,521.8 L840.7,519.2 L838.9,517.1 L837.5,514.8 L837.0,512.0 L835.5,509.8 L834.6,507.5 L834.5,505.0Z" fill="#c5e4ec"/>
<path d="M874.0,517.0 L877.1,516.7 L880.0,515.8 L880.5,518.8 L881.2,521.8 L878.7,522.7 L876.4,524.2 L876.0,521.7 L875.0,519.4Z" fill="#c5e4ec"/>
<path d="M874.0,524.2 L876.3,523.3 L878.8,523.6 L881.2,523.2 L883.6,523.0 L886.1,521.3 L888.5,519.4 L890.9,519.2 L893.2,518.5 L895.7,518.2 L893.5,520.0 L892.4,522.7 L890.5,524.8 L888.5,526.6 L886.7,528.5 L884.8,530.3 L883.6,532.6 L881.3,533.6 L878.8,533.9 L876.9,532.1 L875.0,530.4 L872.8,529.0 L873.2,526.6Z" fill="#002060"/>
<path d="M847.5,531.4 L850.0,531.6 L852.4,531.0 L854.8,530.6 L857.2,530.2 L860.0,529.8 L862.8,530.2 L865.6,530.2 L866.0,533.0 L865.8,535.9 L866.8,538.7 L869.6,539.5 L872.3,540.5 L875.2,541.1 L875.3,543.5 L875.5,546.0 L876.4,548.3 L876.8,550.7 L876.8,553.1 L876.1,555.5 L876.4,557.9 L878.1,559.7 L879.6,561.5 L881.2,563.4 L882.2,565.6 L883.6,567.5 L881.2,569.0 L879.0,570.9 L876.1,571.6 L874.0,573.6 L872.1,571.8 L870.6,569.7 L869.2,567.5 L867.3,565.4 L865.8,562.8 L864.4,560.3 L862.7,558.0 L860.7,556.0 L858.4,554.3 L855.5,555.4 L852.4,555.5 L849.8,553.3 L847.5,550.7 L845.8,547.9 L845.1,544.7 L845.8,542.1 L846.2,539.4 L846.9,536.8 L847.0,534.1Z" fill="#002060"/>
<path d="M780.2,521.8 L782.5,521.0 L784.9,520.8 L787.4,520.6 L789.9,520.5 L792.2,519.4 L794.7,521.7 L797.0,524.2 L799.3,525.7 L801.7,526.8 L804.2,527.8 L805.1,530.8 L806.6,533.5 L807.8,536.3 L807.4,538.7 L806.6,541.1 L804.0,543.2 L801.8,545.9 L799.4,546.1 L797.0,545.9 L794.6,545.4 L792.2,545.9 L789.8,544.6 L787.4,543.5 L785.1,542.2 L782.9,540.8 L781.0,539.0 L779.0,537.5 L779.9,534.4 L781.4,531.4 L780.7,529.1 L780.3,526.7 L780.0,524.3Z" fill="#0070c0"/>
<path d="M794.6,529.0 L798.2,527.8 L798.9,530.8 L800.1,533.7 L801.8,536.3 L802.0,538.7 L802.8,541.0 L803.0,543.5 L799.4,544.7 L797.4,543.0 L796.5,540.4 L794.6,538.7 L794.5,536.3 L795.0,533.9 L794.6,531.4Z" fill="#ffffff"/>
<path d="M746.5,545.9 L748.9,545.9 L751.3,545.5 L753.7,545.9 L755.3,549.0 L757.3,551.9 L758.2,554.7 L759.5,557.4 L759.7,560.3 L761.8,561.9 L763.4,564.0 L765.7,565.1 L763.4,566.3 L760.9,566.7 L758.5,567.5 L756.1,568.2 L753.6,568.9 L751.3,569.9 L748.6,571.2 L745.5,571.0 L742.9,572.4 L741.8,569.6 L741.6,566.6 L740.5,563.9 L742.3,560.9 L744.1,557.9 L744.8,555.6 L744.6,553.0 L745.4,550.7 L745.7,548.2Z" fill="#8bb3be"/>
<path d="M720.0,565.1 L722.2,563.2 L724.5,561.5 L727.2,560.3 L729.7,560.4 L732.0,561.2 L734.5,560.7 L736.8,561.5 L737.9,564.4 L739.0,567.2 L740.5,569.9 L741.2,572.3 L740.7,574.8 L741.1,577.2 L741.7,579.6 L740.3,581.6 L738.8,583.5 L737.9,585.8 L736.8,588.0 L734.5,588.8 L732.0,588.7 L729.6,589.3 L727.3,589.8 L724.8,590.0 L722.4,589.7 L720.0,590.0 L719.4,587.6 L720.3,585.1 L719.4,582.6 L719.8,580.1 L719.5,577.6 L719.9,575.1 L719.7,572.6 L720.2,570.1 L719.9,567.6Z" fill="#8bb3be"/>
<path d="M791.0,567.5 L794.6,565.1 L797.0,565.4 L799.4,565.1 L800.6,567.4 L801.5,569.8 L801.8,572.4 L802.9,575.1 L803.3,578.0 L804.2,580.8 L806.6,581.6 L808.9,582.9 L811.4,583.2 L810.0,585.9 L807.8,588.0 L804.7,588.6 L801.8,590.0 L799.4,589.6 L797.0,589.6 L794.6,590.6 L792.2,589.9 L789.8,590.6 L787.4,590.0 L789.4,588.5 L790.3,586.0 L792.2,584.4 L791.9,582.0 L791.7,579.6 L791.2,577.2 L791.5,574.8 L791.4,572.3 L790.7,570.0Z" fill="#0070c0"/>
<path d="M576.6,382.4 L578.8,381.1 L581.2,380.7 L583.6,380.0 L586.4,379.9 L589.1,380.5 L591.9,380.0 L593.0,382.2 L593.6,384.7 L594.2,387.1 L596.3,389.8 L597.8,393.0 L600.7,393.7 L603.7,394.2 L605.1,392.1 L607.2,390.6 L610.2,391.2 L613.1,391.8 L614.9,393.5 L616.3,395.7 L618.2,397.4 L620.2,398.9 L622.6,401.2 L624.9,403.6 L624.2,406.2 L622.5,408.3 L621.8,410.6 L621.4,413.0 L618.3,412.1 L615.5,410.7 L613.4,408.6 L610.8,407.1 L608.3,405.5 L606.0,403.6 L602.4,403.4 L599.0,402.4 L598.4,405.9 L597.8,409.5 L596.1,411.6 L595.4,414.2 L593.2,413.2 L590.7,413.0 L589.3,410.9 L587.2,409.5 L584.3,408.1 L581.3,407.1 L582.0,404.0 L583.6,401.2 L582.6,398.9 L582.2,396.4 L580.6,394.3 L580.1,391.8 L579.1,389.3 L577.7,387.1 L577.6,384.6Z" fill="#002060"/>
<path d="M632.0,456.7 L634.9,456.1 L637.9,455.5 L639.9,457.0 L642.1,458.2 L643.8,460.2 L646.3,459.3 L648.5,457.8 L649.9,460.1 L650.8,462.5 L652.5,465.3 L653.2,468.4 L652.2,470.9 L650.8,473.2 L647.3,473.9 L643.8,474.3 L640.2,473.2 L638.0,470.5 L636.7,467.3 L634.7,464.6 L632.0,462.5 L632.5,459.6Z" fill="#0070c0"/>
<path d="M660.3,496.7 L662.2,495.1 L664.5,493.9 L666.2,492.0 L669.0,493.1 L671.7,494.3 L674.4,495.6 L676.6,497.7 L678.0,500.3 L676.9,502.5 L676.8,505.0 L674.7,506.7 L672.1,507.4 L673.3,510.9 L670.8,510.6 L668.5,509.7 L666.7,508.0 L664.6,506.6 L662.6,505.0 L661.1,503.0 L659.1,501.5 L659.9,499.2Z" fill="#0f5584"/>
<path d="M720.4,437.8 L723.2,438.0 L725.9,439.1 L728.7,439.0 L730.9,440.9 L733.4,442.5 L735.6,444.5 L738.1,446.0 L740.5,446.6 L743.0,447.2 L745.2,448.4 L742.7,449.5 L740.6,451.5 L737.9,452.3 L736.0,454.5 L733.4,455.5 L731.0,454.9 L728.8,453.6 L726.3,453.1 L724.2,451.6 L722.6,449.8 L721.2,447.6 L719.2,446.0 L719.7,443.3 L720.4,440.6Z" fill="#c5e4ec"/>
<path d="M709.8,472.0 L712.4,470.8 L714.5,468.8 L716.9,467.3 L719.4,467.6 L721.5,469.1 L724.0,469.6 L726.5,471.8 L728.7,474.3 L729.6,477.4 L731.0,480.2 L728.4,481.1 L725.5,481.0 L722.8,481.4 L722.4,483.8 L721.6,486.1 L719.3,485.0 L717.4,483.3 L715.7,481.4 L713.3,480.2 L711.0,479.1 L709.9,475.6Z" fill="#c5e4ec"/>
<path d="M611.9,502.6 L614.5,502.4 L616.8,501.6 L619.0,500.3 L621.6,501.7 L623.7,503.8 L623.8,506.6 L623.5,509.4 L622.5,512.1 L623.3,515.0 L625.3,517.4 L626.1,520.3 L627.2,522.6 L628.7,524.7 L629.6,527.1 L626.9,527.2 L624.2,526.5 L621.5,526.8 L618.8,526.7 L616.1,526.9 L613.5,526.9 L610.8,527.1 L612.2,524.4 L614.3,522.0 L615.5,519.2 L615.1,516.7 L614.4,514.4 L613.2,512.2 L613.1,509.7 L612.9,506.1Z" fill="#0f5584"/>
<path d="M1055.9,322.7 L1057.4,320.5 L1059.0,318.4 L1060.8,316.5 L1062.6,314.6 L1063.7,312.2 L1065.6,310.3 L1070.0,308.5 L1072.4,308.9 L1074.7,309.8 L1077.1,310.3 L1080.0,310.9 L1083.0,310.9 L1085.9,311.2 L1087.3,313.3 L1089.4,314.7 L1091.2,316.5 L1092.1,319.1 L1093.0,321.8 L1095.3,323.5 L1097.9,325.0 L1100.0,327.1 L1102.5,327.9 L1104.4,329.8 L1106.5,331.3 L1108.8,332.4 L1111.0,333.5 L1113.3,334.4 L1115.5,335.6 L1117.7,336.8 L1120.6,334.7 L1123.8,333.2 L1126.0,331.4 L1128.8,330.6 L1130.9,328.8 L1132.8,326.7 L1135.3,325.3 L1136.4,322.1 L1138.0,319.1 L1137.8,316.2 L1138.3,313.2 L1138.0,310.3 L1140.5,309.0 L1142.8,307.5 L1145.0,305.7 L1147.4,304.3 L1149.4,302.4 L1152.4,302.7 L1155.3,303.4 L1158.3,303.2 L1160.7,301.6 L1163.1,300.1 L1165.8,299.1 L1168.0,297.1 L1169.7,300.6 L1169.9,303.2 L1169.9,305.9 L1170.2,308.5 L1169.5,311.2 L1169.3,313.8 L1169.7,316.5 L1172.4,317.2 L1174.9,318.5 L1177.7,319.1 L1178.7,321.5 L1180.3,323.5 L1179.4,326.4 L1179.3,329.5 L1178.6,332.4 L1180.0,334.5 L1180.1,337.2 L1181.2,339.4 L1178.2,339.9 L1175.3,340.3 L1172.4,341.2 L1169.9,342.6 L1167.1,343.0 L1166.3,345.5 L1166.2,348.3 L1162.8,347.0 L1160.0,344.7 L1158.3,346.8 L1156.6,348.9 L1154.7,350.9 L1158.3,353.5 L1159.7,356.2 L1160.9,358.8 L1158.7,357.5 L1156.5,356.2 L1154.6,353.7 L1152.7,351.2 L1150.3,349.1 L1149.3,352.1 L1149.4,355.3 L1147.9,357.7 L1145.9,359.7 L1141.5,360.6 L1138.4,359.4 L1135.3,358.0 L1133.6,360.2 L1131.8,362.4 L1129.1,364.0 L1126.5,365.9 L1125.2,362.6 L1123.0,359.7 L1120.4,358.9 L1117.7,358.8 L1116.9,361.5 L1116.9,364.2 L1115.9,366.8 L1113.5,367.3 L1111.1,366.3 L1108.6,366.4 L1106.2,366.8 L1103.9,364.7 L1101.8,362.4 L1099.2,360.0 L1096.5,358.0 L1092.9,357.8 L1089.4,357.1 L1087.2,356.2 L1084.7,356.0 L1082.4,355.3 L1080.2,353.7 L1077.9,352.5 L1075.3,351.8 L1073.7,349.4 L1071.8,347.4 L1069.1,349.2 L1066.5,350.9 L1064.5,348.4 L1062.1,346.5 L1063.1,343.9 L1062.9,341.2 L1061.6,338.3 L1060.5,335.4 L1059.4,332.4 L1058.2,330.1 L1058.0,327.4 L1056.5,325.2Z" fill="#c5e4ec"/>
<path d="M1141.5,360.6 L1145.9,360.6 L1147.9,363.0 L1150.3,365.0 L1151.7,367.2 L1153.7,368.7 L1155.9,370.0 L1157.4,372.1 L1159.6,369.5 L1161.8,366.8 L1165.3,365.9 L1168.9,365.9 L1171.8,367.0 L1174.9,367.9 L1177.7,369.4 L1176.9,372.1 L1175.9,374.7 L1174.8,377.3 L1174.2,380.0 L1176.2,382.5 L1177.7,385.3 L1174.6,386.3 L1171.5,387.1 L1167.1,385.3 L1164.6,386.6 L1161.8,387.1 L1160.3,389.1 L1158.3,390.6 L1155.8,391.4 L1153.9,393.3 L1150.6,393.7 L1147.7,395.0 L1145.9,391.5 L1148.2,390.0 L1149.8,387.7 L1152.1,386.2 L1152.5,383.6 L1152.8,380.9 L1153.0,378.3 L1150.7,377.0 L1148.5,375.4 L1145.9,374.7 L1143.4,373.3 L1141.5,371.2 L1141.3,368.6 L1141.5,365.9 L1141.1,363.3Z" fill="#002060"/>
<path d="M1128.3,377.4 L1131.0,376.7 L1133.6,375.6 L1136.3,376.3 L1138.9,377.4 L1138.9,380.9 L1135.4,381.9 L1131.8,381.8 L1129.8,379.8Z" fill="#8bb3be"/>
<path d="M989.4,415.4 L991.9,416.3 L994.3,417.6 L997.1,418.0 L999.1,419.3 L1000.1,421.7 L1002.2,423.1 L1004.7,424.1 L1007.4,424.7 L1009.9,425.7 L1007.9,427.5 L1006.4,429.9 L1004.2,431.5 L1002.2,433.4 L1001.7,435.9 L1001.0,438.5 L1000.2,441.0 L999.6,443.5 L999.6,446.2 L997.6,447.6 L996.4,449.8 L994.5,451.3 L994.9,454.0 L996.5,456.4 L997.1,459.0 L999.8,459.6 L1002.0,461.6 L1004.7,462.1 L1007.5,462.7 L1009.9,464.2 L1012.3,465.6 L1015.2,465.7 L1017.5,467.5 L1020.2,468.1 L1022.7,469.3 L1022.5,471.9 L1023.1,474.4 L1022.7,477.0 L1024.2,479.7 L1025.7,482.4 L1027.9,484.7 L1025.3,485.0 L1022.7,485.1 L1020.2,484.7 L1017.6,483.4 L1015.0,482.1 L1012.5,480.7 L1009.9,479.5 L1007.2,479.0 L1004.8,477.7 L1002.4,476.5 L999.4,476.7 L996.9,475.7 L994.5,474.4 L992.0,473.4 L989.3,473.6 L986.8,473.0 L984.2,472.6 L981.7,471.9 L981.3,469.1 L980.3,466.6 L979.1,464.2 L980.4,461.9 L982.4,460.2 L983.4,457.7 L985.2,455.9 L986.8,453.9 L989.5,452.4 L991.9,450.5 L994.5,448.8 L994.5,446.2 L994.4,443.6 L994.7,441.1 L994.0,438.5 L994.0,435.9 L994.6,433.4 L994.5,430.8 L993.6,428.2 L992.8,425.7 L992.3,423.0 L991.0,420.5 L990.3,418.0Z" fill="#0f5584"/>
<path d="M549.8,798.1 L552.2,796.8 L554.8,796.4 L557.3,795.9 L559.9,795.1 L562.5,794.8 L564.9,793.8 L567.2,792.5 L569.4,791.1 L571.4,789.4 L573.6,788.0 L575.9,786.7 L577.9,785.1 L579.5,787.0 L580.3,789.4 L581.7,791.3 L582.3,793.8 L584.2,795.7 L586.9,796.6 L588.9,798.4 L590.9,800.3 L593.3,801.0 L595.4,802.2 L597.2,804.0 L599.4,804.8 L601.6,805.9 L603.9,806.8 L601.6,807.5 L599.8,809.3 L597.6,810.3 L595.2,811.1 L595.4,813.5 L595.8,815.9 L596.4,818.3 L597.1,820.6 L597.4,823.0 L594.7,822.5 L592.4,821.1 L589.9,820.1 L587.1,819.9 L585.0,818.0 L582.3,817.6 L579.8,817.1 L577.2,817.4 L574.8,816.7 L572.4,815.9 L569.8,816.3 L567.4,815.5 L564.9,815.4 L562.2,815.5 L559.7,815.0 L557.1,814.3 L554.5,814.1 L551.9,813.2 L550.8,810.9 L549.0,808.9 L547.6,806.8 L548.0,803.8 L549.5,801.1Z" fill="#0f5584"/>
<path d="M894.0,338.8 L896.9,337.9 L899.9,337.8 L902.8,337.0 L903.8,339.8 L905.0,342.5 L906.8,344.9 L908.1,347.6 L910.1,349.2 L911.7,351.1 L913.1,353.1 L915.2,354.6 L918.1,355.4 L921.1,355.8 L924.0,356.4 L923.1,359.3 L921.0,361.5 L920.0,364.3 L918.7,367.0 L918.3,369.5 L917.3,371.9 L916.5,374.4 L916.3,377.0 L915.2,379.3 L914.6,381.8 L914.9,384.3 L915.4,386.7 L915.5,389.2 L915.2,391.7 L913.5,394.2 L912.9,397.2 L911.7,400.0 L909.0,400.2 L906.4,399.6 L903.7,400.4 L901.1,400.4 L898.4,400.0 L895.8,400.5 L893.1,399.6 L890.5,400.0 L890.2,397.1 L889.2,394.5 L888.9,391.7 L887.8,389.1 L887.0,386.4 L887.4,383.9 L887.9,381.3 L889.0,378.9 L889.6,376.5 L890.5,374.0 L890.7,371.5 L890.8,369.0 L891.4,366.5 L891.5,364.0 L891.4,361.4 L891.9,358.9 L892.2,356.4 L892.4,353.9 L892.5,351.3 L893.1,348.8 L892.7,346.3 L893.2,343.8 L893.7,341.3Z" fill="#0f5584"/>
<path d="M952.4,220.6 L955.4,219.5 L958.2,217.7 L959.9,220.5 L961.1,223.5 L961.5,226.6 L963.3,229.2 L963.9,232.2 L966.6,232.0 L969.1,231.3 L971.4,229.4 L974.0,229.3 L976.9,230.7 L976.1,233.6 L975.5,236.5 L978.4,237.1 L981.3,237.5 L984.2,238.0 L982.9,240.9 L981.3,243.7 L979.2,244.9 L977.1,246.3 L975.0,247.4 L972.6,248.1 L971.5,245.7 L969.7,243.7 L966.7,243.7 L964.0,242.5 L961.1,242.3 L960.0,239.4 L959.5,236.4 L958.2,233.6 L956.6,231.8 L955.8,229.4 L953.8,227.9 L953.5,225.4 L952.8,223.1Z" fill="#8bb3be"/>
<path d="M994.3,223.5 L996.9,223.0 L999.5,223.3 L1002.1,223.0 L1004.7,223.9 L1007.2,223.5 L1007.2,226.5 L1007.4,229.4 L1007.8,232.2 L1008.7,235.1 L1007.7,238.2 L1005.8,240.8 L1006.7,243.1 L1008.0,245.3 L1008.2,247.9 L1009.8,249.9 L1010.1,252.4 L1009.6,255.4 L1008.2,258.2 L1007.2,261.1 L1004.5,262.5 L1001.7,263.5 L998.6,263.9 L995.8,262.6 L992.9,261.7 L989.9,261.1 L988.3,259.1 L987.8,256.7 L986.9,254.4 L985.6,252.4 L985.5,249.5 L985.2,246.6 L984.9,243.7 L984.2,240.8 L986.7,239.0 L989.0,237.0 L991.4,235.1 L991.8,232.1 L992.3,229.2 L993.2,226.3Z" fill="#8bb3be"/>
<path d="M962.5,258.2 L965.3,256.6 L968.3,255.3 L970.8,257.0 L972.6,259.6 L975.6,259.4 L978.4,258.1 L981.2,257.0 L984.2,256.7 L987.1,257.1 L989.9,258.2 L992.2,259.4 L994.4,260.8 L996.7,262.1 L998.6,263.9 L999.9,266.2 L1001.7,268.1 L1002.7,270.6 L1004.4,272.6 L1001.5,274.0 L999.5,275.5 L996.9,275.7 L994.9,277.1 L992.8,278.4 L990.0,279.2 L987.0,279.9 L984.1,280.4 L981.3,281.3 L980.8,278.7 L979.7,276.3 L978.4,274.0 L976.7,272.0 L974.7,270.2 L973.3,267.8 L971.3,266.1 L969.7,263.9 L967.3,262.1 L964.6,260.4Z" fill="#8bb3be"/>
<path d="M930.7,190.3 L933.3,190.0 L935.7,189.3 L938.3,189.1 L940.8,188.9 L942.7,190.5 L944.1,192.5 L945.2,194.6 L944.1,197.7 L942.3,200.4 L939.1,199.5 L936.5,197.5 L934.8,195.0 L932.3,193.0Z" fill="#8bb3be"/>
<path d="M906.2,281.3 L908.2,279.4 L911.1,278.9 L913.2,277.0 L915.6,275.7 L917.7,274.0 L918.1,276.9 L918.2,279.9 L919.2,282.7 L921.4,284.9 L923.5,287.0 L923.4,289.9 L923.9,292.8 L923.5,295.7 L922.7,298.0 L923.0,300.6 L922.1,302.9 L924.1,304.7 L925.6,307.1 L927.9,308.7 L926.6,311.0 L925.0,313.0 L922.7,314.3 L920.2,315.0 L917.7,315.9 L914.9,313.0 L912.7,311.3 L911.0,309.2 L909.1,307.2 L908.1,304.5 L907.6,301.6 L907.6,298.6 L906.7,295.7 L905.4,292.9 L904.8,289.9 L904.7,286.9 L905.6,284.1Z" fill="#0070c0"/>
<path d="M929.3,308.7 L933.6,310.1 L935.4,312.7 L938.0,314.5 L933.6,315.9 L931.3,314.7 L929.3,313.0Z" fill="#0070c0"/>
<path d="M612.4,502.9 L615.5,501.3 L618.8,500.3 L620.9,502.1 L622.7,504.2 L622.6,506.8 L621.5,509.3 L621.4,511.9 L622.1,514.4 L622.1,517.1 L622.7,519.6 L624.9,521.9 L627.8,523.4 L628.0,526.7 L629.1,529.9 L626.0,529.0 L622.7,528.6 L619.8,530.1 L617.6,532.4 L615.0,531.0 L612.4,529.9 L611.7,527.0 L609.9,524.7 L611.5,521.9 L613.7,519.6 L614.6,517.1 L614.8,514.5 L615.0,511.9 L612.4,508.0 L612.5,505.5Z" fill="#0f5584"/>
<path d="M1070.6,596.8 L1074.0,595.7 L1074.8,598.6 L1076.3,601.3 L1077.4,605.8 L1078.5,610.3 L1080.1,612.7 L1081.2,615.4 L1081.9,618.2 L1084.1,621.5 L1086.7,619.0 L1088.6,615.9 L1091.4,616.1 L1094.2,615.9 L1096.4,618.3 L1098.7,620.4 L1096.8,622.5 L1095.3,624.9 L1091.9,625.9 L1088.6,627.2 L1085.3,627.9 L1081.9,628.3 L1080.8,630.6 L1079.2,632.6 L1078.5,635.0 L1076.0,637.2 L1072.9,638.4 L1069.9,639.3 L1066.8,639.6 L1063.9,640.6 L1061.9,642.2 L1059.4,642.9 L1057.2,644.0 L1054.7,645.2 L1052.0,645.8 L1049.3,646.3 L1050.7,643.0 L1051.5,639.5 L1053.4,636.8 L1054.9,633.9 L1057.0,631.8 L1059.3,630.1 L1061.7,628.3 L1062.8,623.8 L1060.3,621.8 L1058.3,619.3 L1057.2,614.8 L1059.2,613.2 L1061.7,612.6 L1064.4,613.6 L1067.3,613.7 L1069.7,613.0 L1071.8,611.4 L1071.8,608.5 L1070.6,605.8 L1070.3,602.8 L1070.2,599.8Z" fill="#0f5584"/>
</g>
<g fill="none" stroke="#8090a8" stroke-width="0.8" stroke-linejoin="round">
<path d="M1367.9,510.0 L1374.6,512.0 L1380.4,512.9 L1385.2,513.9 L1393.9,514.9 L1399.7,517.7 L1406.4,518.7"/>
<path d="M1399.7,491.8 L1399.7,498.5 L1392.9,507.2 L1394.9,513.9 L1386.2,521.6 L1378.5,529.3 L1378.5,534.1 L1385.2,538.9 L1385.2,542.8"/>
<path d="M330.7,622.3 L339.0,622.3 L343.2,617.1"/>
<path d="M330.7,622.3 L329.6,638.0 L331.7,646.3 L339.0,650.5 L346.3,656.7 L345.3,667.2 L349.4,681.8 L354.7,685.9"/>
<path d="M331.7,644.2 L346.3,647.4 L356.7,638.0 L369.2,636.9"/>
</g>
<g font-weight="bold" font-size="9.9" fill="#f77b16" text-anchor="middle" stroke="#f77b16" stroke-width="0.3">
<text x="402.9" y="406.2">Skalica</text>
<text x="373.9" y="416.6">Holíč</text>
<text x="356.9" y="441.5">Gbely</text>
<text x="366.9" y="477.1">Šaštín-Stráže</text>
<text x="421.8" y="467.1">Senica</text>
<text x="464.8" y="478.5">Brezová pod Bradlom</text>
<text x="467.8" y="444.5">Myjava</text>
<text x="498.8" y="428.6">Stará Turá</text>
<text x="541.7" y="449.5">Nové Mesto nad Váhom</text>
<text x="505.8" y="497.1">Vrbové</text>
<text x="529.7" y="508.5">Piešťany</text>
<text x="619.7" y="522.1">Topoľčany</text>
<text x="327.9" y="545.0">Malacky</text>
<text x="393.5" y="583.0">Modra</text>
<text x="377.9" y="594.0">Pezinok</text>
<text x="323.9" y="604.4">Stupava</text>
<text x="466.8" y="580.4">Trnava</text>
<text x="515.8" y="558.4">Leopoldov</text>
<text x="519.8" y="569.4">Hlohovec</text>
<text x="365.9" y="620.2">Svätý Jur</text>
<text x="411.9" y="629.6">Senec</text>
<text x="336.9" y="653.0">Bratislava</text>
<text x="444.8" y="645.2">Sládkovičovo</text>
<text x="494.8" y="648.6">Galanta</text>
<text x="496.8" y="618.2">Sereď</text>
<text x="585.7" y="621.0">Nitra</text>
<text x="534.7" y="678.9">Šaľa</text>
<text x="384.9" y="706.1">Šamorín</text>
<text x="462.8" y="715.5">Dunajská Streda</text>
<text x="601.7" y="702.5">Šurany</text>
<text x="598.7" y="736.9">Nové Zámky</text>
<text x="545.7" y="758.5">Kolárovo</text>
<text x="447.8" y="764.8">Gabčíkovo</text>
<text x="490.8" y="776.4">Veľký Meder</text>
<text x="600.7" y="781.4">Hurbanovo</text>
<text x="576.7" y="809.4">Komárno</text>
<text x="801.8" y="217.9">Čadca</text>
<text x="753.9" y="232.5">Turzovka</text>
<text x="807.8" y="243.5">Krásno nad Kysucou</text>
<text x="792.8" y="268.1">Kysucké Nové Mesto</text>
<text x="731.9" y="289.9">Bytča</text>
<text x="776.9" y="299.1">Žilina</text>
<text x="675.0" y="319.0">Púchov</text>
<text x="706.9" y="330.4">Považská Bystrica</text>
<text x="787.5" y="323.4">Rajecké Teplice</text>
<text x="809.8" y="334.8">Vrútky</text>
<text x="847.8" y="331.4">Turany</text>
<text x="747.9" y="344.8">Rajec</text>
<text x="812.8" y="351.0">Martin</text>
<text x="915.7" y="300.1">Dolný Kubín</text>
<text x="904.7" y="374.0">Ružomberok</text>
<text x="966.7" y="238.5">Námestovo</text>
<text x="995.6" y="249.5">Trstená</text>
<text x="984.7" y="271.5">Tvrdošín</text>
<text x="794.8" y="433.2">Turčianske Teplice</text>
<text x="727.9" y="451.1">Bojnice</text>
<text x="742.9" y="464.5">Prievidza</text>
<text x="718.9" y="478.9">Nováky</text>
<text x="765.9" y="487.5">Handlová</text>
<text x="668.0" y="503.1">Partizánske</text>
<text x="817.8" y="493.1">Kremnica</text>
<text x="866.8" y="482.5">Banská Bystrica</text>
<text x="850.8" y="524.1">Sliač</text>
<text x="963.7" y="532.5">Hriňová</text>
<text x="927.7" y="553.4">Detva</text>
<text x="863.8" y="550.4">Zvolen</text>
<text x="785.9" y="537.4">Žiar nad Hronom</text>
<text x="750.9" y="561.4">Žarnovica</text>
<text x="725.9" y="580.4">Nová Baňa</text>
<text x="796.8" y="579.8">Banská Štiavnica</text>
<text x="675.0" y="598.4">Zlaté Moravce</text>
<text x="832.8" y="611.4">Krupina</text>
<text x="992.6" y="461.9">Brezno</text>
<text x="606.1" y="377.0">Nemšová</text>
<text x="650.2" y="376.3">Ilava</text>
<text x="639.7" y="388.4">Dubnica nad Váhom</text>
<text x="601.5" y="402.4">Trenčín</text>
<text x="652.2" y="399.7">Nová Dubnica</text>
<text x="666.6" y="411.0">Trenčianske Teplice</text>
<text x="644.4" y="469.5">Bánovce nad Bebravou</text>
<text x="699.9" y="634.6">Tlmače</text>
<text x="641.0" y="647.6">Vráble</text>
<text x="720.9" y="669.1">Levice</text>
<text x="785.9" y="686.1">Dudince</text>
<text x="715.9" y="724.1">Želiezovce</text>
<text x="799.8" y="721.5">Šahy</text>
<text x="719.9" y="821.0">Štúrovo</text>
<text x="897.7" y="662.9">Modrý Kameň</text>
<text x="903.7" y="678.5">Veľký Krtíš</text>
<text x="983.7" y="640.2">Lučenec</text>
<text x="1179.8" y="266.5">Spišská Stará Ves</text>
<text x="1259.8" y="294.5">Stará Ľubovňa</text>
<text x="1221.8" y="305.9">Podolínec</text>
<text x="1195.8" y="334.4">Spišská Belá</text>
<text x="1194.8" y="351.8">Kežmarok</text>
<text x="1113.9" y="353.4">Vysoké Tatry</text>
<text x="1325.7" y="353.8">Lipany</text>
<text x="1357.7" y="378.4">Sabinov</text>
<text x="1131.3" y="381.0">Svit</text>
<text x="1158.9" y="381.0">Poprad</text>
<text x="1226.8" y="399.2">Levoča</text>
<text x="1266.7" y="410.6">Spišské Podhradie</text>
<text x="1280.7" y="433.6">Spišské Vlachy</text>
<text x="1211.8" y="445.1">Spišská Nová Ves</text>
<text x="1298.7" y="447.9">Krompachy</text>
<text x="1162.2" y="465.5">Dobšiná</text>
<text x="1312.7" y="475.1">Gelnica</text>
<text x="1057.0" y="511.5">Tisovec</text>
<text x="1100.9" y="512.5">Revúca</text>
<text x="1217.8" y="522.5">Rožňava</text>
<text x="1297.7" y="513.5">Medzev</text>
<text x="1134.9" y="537.4">Jelšava</text>
<text x="1064.9" y="549.4">Hnúšťa</text>
<text x="1320.7" y="559.0">Moldava nad Bodvou</text>
<text x="1166.8" y="613.4">Tornaľa</text>
<text x="1074.9" y="627.8">Rimavská Sobota</text>
<text x="1017.0" y="607.4">Poltár</text>
<text x="1020.0" y="665.5">Fiľakovo</text>
<text x="1406.0" y="306.5">Bardejov</text>
<text x="1477.9" y="308.1">Svidník</text>
<text x="1565.8" y="315.1">Medzilaborce</text>
<text x="1497.9" y="348.5">Stropkov</text>
<text x="1460.9" y="377.5">Giraltovce</text>
<text x="1383.0" y="402.6">Veľký Šariš</text>
<text x="1460.9" y="414.8">Hanušovce nad Topľou</text>
<text x="1390.0" y="419.6">Prešov</text>
<text x="1616.8" y="425.4">Snina</text>
<text x="1557.8" y="446.0">Humenné</text>
<text x="1467.9" y="467.0">Vranov nad Topľou</text>
<text x="1533.8" y="468.4">Strážske</text>
<text x="1551.8" y="513.5">Michalovce</text>
<text x="1617.8" y="522.1">Sobrance</text>
<text x="1489.9" y="530.1">Sečovce</text>
<text x="1505.9" y="558.9">Trebišov</text>
<text x="1393.0" y="522.6">Košice</text>
<text x="1589.8" y="592.9">Veľké Kapušany</text>
<text x="1565.8" y="633.8">Kráľovský Chlmec</text>
<text x="1589.8" y="645.0">Čierna nad Tisou</text>
<text x="987.5" y="367.7">Liptovský Mikuláš</text>
<text x="1031.5" y="379.1">Liptovský Hrádok</text>
</g>
<g>
<rect x="137.60" y="269.20" width="9.7" height="811.80" fill="#002060"/>
<rect x="148.99" y="269.20" width="9.7" height="811.80" fill="#002060"/>
<rect x="160.38" y="272.56" width="9.7" height="808.44" fill="#002060"/>
<rect x="171.77" y="349.93" width="9.7" height="731.07" fill="#002060"/>
<rect x="183.16" y="371.63" width="9.7" height="709.37" fill="#002060"/>
<rect x="194.55" y="383.01" width="9.7" height="697.99" fill="#002060"/>
<rect x="205.94" y="489.80" width="9.7" height="591.20" fill="#002060"/>
<rect x="217.33" y="579.50" width="9.7" height="501.50" fill="#002060"/>
<rect x="228.72" y="581.85" width="9.7" height="499.15" fill="#002060"/>
<rect x="240.11" y="614.16" width="9.7" height="466.84" fill="#002060"/>
<rect x="251.50" y="658.55" width="9.7" height="422.45" fill="#002060"/>
<rect x="262.89" y="695.91" width="9.7" height="385.09" fill="#002060"/>
<rect x="274.28" y="719.48" width="9.7" height="361.52" fill="#002060"/>
<rect x="285.67" y="726.01" width="9.7" height="354.99" fill="#0f5584"/>
<rect x="297.06" y="733.82" width="9.7" height="347.18" fill="#0f5584"/>
<rect x="308.45" y="742.97" width="9.7" height="338.03" fill="#0f5584"/>
<rect x="319.84" y="772.57" width="9.7" height="308.43" fill="#0f5584"/>
<rect x="331.23" y="777.35" width="9.7" height="303.65" fill="#0f5584"/>
<rect x="342.62" y="778.36" width="9.7" height="302.64" fill="#0f5584"/>
<rect x="354.01" y="786.02" width="9.7" height="294.98" fill="#0f5584"/>
<rect x="365.40" y="797.19" width="9.7" height="283.81" fill="#0f5584"/>
<rect x="376.79" y="827.33" width="9.7" height="253.67" fill="#0f5584"/>
<rect x="388.18" y="830.42" width="9.7" height="250.58" fill="#0f5584"/>
<rect x="399.57" y="836.74" width="9.7" height="244.26" fill="#0f5584"/>
<rect x="410.96" y="847.88" width="9.7" height="233.12" fill="#0f5584"/>
<rect x="422.35" y="859.47" width="9.7" height="221.53" fill="#0f5584"/>
<rect x="433.74" y="860.61" width="9.7" height="220.39" fill="#0f5584"/>
<rect x="445.13" y="862.13" width="9.7" height="218.87" fill="#0f5584"/>
<rect x="456.52" y="863.29" width="9.7" height="217.71" fill="#0f5584"/>
<rect x="467.91" y="873.53" width="9.7" height="207.47" fill="#0f5584"/>
<rect x="479.30" y="876.39" width="9.7" height="204.61" fill="#0f5584"/>
<rect x="490.69" y="876.76" width="9.7" height="204.24" fill="#0f5584"/>
<rect x="502.08" y="876.83" width="9.7" height="204.17" fill="#0f5584"/>
<rect x="513.47" y="878.35" width="9.7" height="202.65" fill="#0f5584"/>
<rect x="524.86" y="883.14" width="9.7" height="197.86" fill="#0f5584"/>
<rect x="536.25" y="890.22" width="9.7" height="190.78" fill="#0f5584"/>
<rect x="547.64" y="896.95" width="9.7" height="184.05" fill="#0f5584"/>
<rect x="559.03" y="899.69" width="9.7" height="181.31" fill="#0f5584"/>
<rect x="570.42" y="900.30" width="9.7" height="180.70" fill="#0f5584"/>
<rect x="581.81" y="906.89" width="9.7" height="174.11" fill="#0070c0"/>
<rect x="593.20" y="906.98" width="9.7" height="174.02" fill="#0070c0"/>
<rect x="604.59" y="908.83" width="9.7" height="172.17" fill="#0070c0"/>
<rect x="615.98" y="909.65" width="9.7" height="171.35" fill="#0070c0"/>
<rect x="627.37" y="913.16" width="9.7" height="167.84" fill="#0070c0"/>
<rect x="638.76" y="919.32" width="9.7" height="161.68" fill="#0070c0"/>
<rect x="650.15" y="924.42" width="9.7" height="156.58" fill="#0070c0"/>
<rect x="661.54" y="925.30" width="9.7" height="155.70" fill="#0070c0"/>
<rect x="672.93" y="931.59" width="9.7" height="149.41" fill="#0070c0"/>
<rect x="684.32" y="933.66" width="9.7" height="147.34" fill="#0070c0"/>
<rect x="695.71" y="938.34" width="9.7" height="142.66" fill="#0070c0"/>
<rect x="707.10" y="943.62" width="9.7" height="137.38" fill="#0070c0"/>
<rect x="718.49" y="945.20" width="9.7" height="135.80" fill="#0070c0"/>
<rect x="729.88" y="946.46" width="9.7" height="134.54" fill="#0070c0"/>
<rect x="741.27" y="947.08" width="9.7" height="133.92" fill="#0070c0"/>
<rect x="752.66" y="947.49" width="9.7" height="133.51" fill="#0070c0"/>
<rect x="764.05" y="960.99" width="9.7" height="120.01" fill="#0070c0"/>
<rect x="775.44" y="966.35" width="9.7" height="114.65" fill="#0070c0"/>
<rect x="786.83" y="969.64" width="9.7" height="111.36" fill="#0070c0"/>
<rect x="798.22" y="971.67" width="9.7" height="109.33" fill="#0070c0"/>
<rect x="809.61" y="974.27" width="9.7" height="106.73" fill="#0070c0"/>
<rect x="821.00" y="975.85" width="9.7" height="105.15" fill="#0070c0"/>
<rect x="832.39" y="978.88" width="9.7" height="102.12" fill="#0070c0"/>
<rect x="843.78" y="979.13" width="9.7" height="101.87" fill="#0070c0"/>
<rect x="855.17" y="979.91" width="9.7" height="101.09" fill="#0070c0"/>
<rect x="866.56" y="980.42" width="9.7" height="100.58" fill="#0070c0"/>
<rect x="877.95" y="980.44" width="9.7" height="100.56" fill="#0070c0"/>
<rect x="889.34" y="980.88" width="9.7" height="100.12" fill="#0070c0"/>
<rect x="900.73" y="984.53" width="9.7" height="96.47" fill="#0070c0"/>
<rect x="912.12" y="984.75" width="9.7" height="96.25" fill="#0070c0"/>
<rect x="923.51" y="985.39" width="9.7" height="95.61" fill="#0070c0"/>
<rect x="934.90" y="986.60" width="9.7" height="94.40" fill="#0070c0"/>
<rect x="946.29" y="989.05" width="9.7" height="91.95" fill="#0070c0"/>
<rect x="957.68" y="991.76" width="9.7" height="89.24" fill="#8bb3be"/>
<rect x="969.07" y="997.87" width="9.7" height="83.13" fill="#8bb3be"/>
<rect x="980.46" y="998.86" width="9.7" height="82.14" fill="#8bb3be"/>
<rect x="991.85" y="999.78" width="9.7" height="81.22" fill="#8bb3be"/>
<rect x="1003.24" y="1000.41" width="9.7" height="80.59" fill="#8bb3be"/>
<rect x="1014.63" y="1001.18" width="9.7" height="79.82" fill="#8bb3be"/>
<rect x="1026.02" y="1002.24" width="9.7" height="78.76" fill="#8bb3be"/>
<rect x="1037.41" y="1002.72" width="9.7" height="78.28" fill="#8bb3be"/>
<rect x="1048.80" y="1005.05" width="9.7" height="75.95" fill="#8bb3be"/>
<rect x="1060.19" y="1009.34" width="9.7" height="71.66" fill="#8bb3be"/>
<rect x="1071.58" y="1009.90" width="9.7" height="71.10" fill="#8bb3be"/>
<rect x="1082.97" y="1011.10" width="9.7" height="69.90" fill="#8bb3be"/>
<rect x="1094.36" y="1011.11" width="9.7" height="69.89" fill="#8bb3be"/>
<rect x="1105.75" y="1012.22" width="9.7" height="68.78" fill="#8bb3be"/>
<rect x="1117.14" y="1012.62" width="9.7" height="68.38" fill="#8bb3be"/>
<rect x="1128.53" y="1012.69" width="9.7" height="68.31" fill="#8bb3be"/>
<rect x="1139.92" y="1012.73" width="9.7" height="68.27" fill="#8bb3be"/>
<rect x="1151.31" y="1012.78" width="9.7" height="68.22" fill="#8bb3be"/>
<rect x="1162.70" y="1013.21" width="9.7" height="67.79" fill="#8bb3be"/>
<rect x="1174.09" y="1014.11" width="9.7" height="66.89" fill="#8bb3be"/>
<rect x="1185.48" y="1014.28" width="9.7" height="66.72" fill="#8bb3be"/>
<rect x="1196.87" y="1014.53" width="9.7" height="66.47" fill="#8bb3be"/>
<rect x="1208.26" y="1015.32" width="9.7" height="65.68" fill="#8bb3be"/>
<rect x="1219.65" y="1018.35" width="9.7" height="62.65" fill="#8bb3be"/>
<rect x="1231.04" y="1019.59" width="9.7" height="61.41" fill="#8bb3be"/>
<rect x="1242.43" y="1020.97" width="9.7" height="60.03" fill="#8bb3be"/>
<rect x="1253.82" y="1021.29" width="9.7" height="59.71" fill="#8bb3be"/>
<rect x="1265.21" y="1022.91" width="9.7" height="58.09" fill="#8bb3be"/>
<rect x="1276.60" y="1023.10" width="9.7" height="57.90" fill="#8bb3be"/>
<rect x="1287.99" y="1023.63" width="9.7" height="57.37" fill="#8bb3be"/>
<rect x="1299.38" y="1023.72" width="9.7" height="57.28" fill="#8bb3be"/>
<rect x="1310.77" y="1025.34" width="9.7" height="55.66" fill="#8bb3be"/>
<rect x="1322.16" y="1025.76" width="9.7" height="55.24" fill="#8bb3be"/>
<rect x="1333.55" y="1026.29" width="9.7" height="54.71" fill="#8bb3be"/>
<rect x="1344.94" y="1026.98" width="9.7" height="54.02" fill="#c5e4ec"/>
<rect x="1356.33" y="1028.46" width="9.7" height="52.54" fill="#c5e4ec"/>
<rect x="1367.72" y="1029.46" width="9.7" height="51.54" fill="#c5e4ec"/>
<rect x="1379.11" y="1029.97" width="9.7" height="51.03" fill="#c5e4ec"/>
<rect x="1390.50" y="1030.55" width="9.7" height="50.45" fill="#c5e4ec"/>
<rect x="1401.89" y="1031.78" width="9.7" height="49.22" fill="#c5e4ec"/>
<rect x="1413.28" y="1032.40" width="9.7" height="48.60" fill="#c5e4ec"/>
<rect x="1424.67" y="1032.68" width="9.7" height="48.32" fill="#c5e4ec"/>
<rect x="1436.06" y="1033.16" width="9.7" height="47.84" fill="#c5e4ec"/>
<rect x="1447.45" y="1034.50" width="9.7" height="46.50" fill="#c5e4ec"/>
<rect x="1458.84" y="1035.23" width="9.7" height="45.77" fill="#c5e4ec"/>
<rect x="1470.23" y="1036.10" width="9.7" height="44.90" fill="#c5e4ec"/>
<rect x="1481.62" y="1036.36" width="9.7" height="44.64" fill="#c5e4ec"/>
<rect x="1493.01" y="1036.60" width="9.7" height="44.40" fill="#c5e4ec"/>
<rect x="1504.40" y="1041.19" width="9.7" height="39.81" fill="#c5e4ec"/>
<rect x="1515.79" y="1041.67" width="9.7" height="39.33" fill="#c5e4ec"/>
<rect x="1527.18" y="1042.29" width="9.7" height="38.71" fill="#c5e4ec"/>
<rect x="1538.57" y="1042.84" width="9.7" height="38.16" fill="#c5e4ec"/>
<rect x="1549.96" y="1043.15" width="9.7" height="37.85" fill="#c5e4ec"/>
<rect x="1561.35" y="1043.33" width="9.7" height="37.67" fill="#c5e4ec"/>
<rect x="1572.74" y="1043.34" width="9.7" height="37.66" fill="#c5e4ec"/>
<rect x="1584.13" y="1043.78" width="9.7" height="37.22" fill="#c5e4ec"/>
<rect x="1595.52" y="1044.29" width="9.7" height="36.71" fill="#c5e4ec"/>
<rect x="1606.91" y="1044.72" width="9.7" height="36.28" fill="#c5e4ec"/>
<rect x="1618.30" y="1046.96" width="9.7" height="34.04" fill="#c5e4ec"/>
<rect x="1629.69" y="1048.06" width="9.7" height="32.94" fill="#c5e4ec"/>
<rect x="1641.08" y="1048.42" width="9.7" height="32.58" fill="#c5e4ec"/>
<rect x="1652.47" y="1049.10" width="9.7" height="31.90" fill="#c5e4ec"/>
<rect x="1663.86" y="1052.19" width="9.7" height="28.81" fill="#c5e4ec"/>
<rect x="1675.25" y="1052.25" width="9.7" height="28.75" fill="#c5e4ec"/>
<rect x="1686.64" y="1054.07" width="9.7" height="26.93" fill="#c5e4ec"/>
<rect x="1698.03" y="1060.44" width="9.7" height="20.56" fill="#c5e4ec"/>
<rect x="1709.42" y="1066.44" width="9.7" height="14.56" fill="#c5e4ec"/>
<rect x="1720.81" y="1068.02" width="9.7" height="12.98" fill="#c5e4ec"/>
</g>
<path d="M136.6,1081.5 L1731.5,1081.5" stroke="#a0a0a0" stroke-width="1"/>
<path d="M136.8,1081.0 l0,3 M148.2,1081.0 l0,3 M159.6,1081.0 l0,3 M171.0,1081.0 l0,3 M182.4,1081.0 l0,3 M193.8,1081.0 l0,3 M205.1,1081.0 l0,3 M216.5,1081.0 l0,3 M227.9,1081.0 l0,3 M239.3,1081.0 l0,3 M250.7,1081.0 l0,3 M262.1,1081.0 l0,3 M273.5,1081.0 l0,3 M284.9,1081.0 l0,3 M296.3,1081.0 l0,3 M307.6,1081.0 l0,3 M319.0,1081.0 l0,3 M330.4,1081.0 l0,3 M341.8,1081.0 l0,3 M353.2,1081.0 l0,3 M364.6,1081.0 l0,3 M376.0,1081.0 l0,3 M387.4,1081.0 l0,3 M398.8,1081.0 l0,3 M410.2,1081.0 l0,3 M421.5,1081.0 l0,3 M432.9,1081.0 l0,3 M444.3,1081.0 l0,3 M455.7,1081.0 l0,3 M467.1,1081.0 l0,3 M478.5,1081.0 l0,3 M489.9,1081.0 l0,3 M501.3,1081.0 l0,3 M512.7,1081.0 l0,3 M524.1,1081.0 l0,3 M535.5,1081.0 l0,3 M546.8,1081.0 l0,3 M558.2,1081.0 l0,3 M569.6,1081.0 l0,3 M581.0,1081.0 l0,3 M592.4,1081.0 l0,3 M603.8,1081.0 l0,3 M615.2,1081.0 l0,3 M626.6,1081.0 l0,3 M638.0,1081.0 l0,3 M649.4,1081.0 l0,3 M660.7,1081.0 l0,3 M672.1,1081.0 l0,3 M683.5,1081.0 l0,3 M694.9,1081.0 l0,3 M706.3,1081.0 l0,3 M717.7,1081.0 l0,3 M729.1,1081.0 l0,3 M740.5,1081.0 l0,3 M751.9,1081.0 l0,3 M763.2,1081.0 l0,3 M774.6,1081.0 l0,3 M786.0,1081.0 l0,3 M797.4,1081.0 l0,3 M808.8,1081.0 l0,3 M820.2,1081.0 l0,3 M831.6,1081.0 l0,3 M843.0,1081.0 l0,3 M854.4,1081.0 l0,3 M865.8,1081.0 l0,3 M877.1,1081.0 l0,3 M888.5,1081.0 l0,3 M899.9,1081.0 l0,3 M911.3,1081.0 l0,3 M922.7,1081.0 l0,3 M934.1,1081.0 l0,3 M945.5,1081.0 l0,3 M956.9,1081.0 l0,3 M968.3,1081.0 l0,3 M979.7,1081.0 l0,3 M991.0,1081.0 l0,3 M1002.4,1081.0 l0,3 M1013.8,1081.0 l0,3 M1025.2,1081.0 l0,3 M1036.6,1081.0 l0,3 M1048.0,1081.0 l0,3 M1059.4,1081.0 l0,3 M1070.8,1081.0 l0,3 M1082.2,1081.0 l0,3 M1093.6,1081.0 l0,3 M1105.0,1081.0 l0,3 M1116.3,1081.0 l0,3 M1127.7,1081.0 l0,3 M1139.1,1081.0 l0,3 M1150.5,1081.0 l0,3 M1161.9,1081.0 l0,3 M1173.3,1081.0 l0,3 M1184.7,1081.0 l0,3 M1196.1,1081.0 l0,3 M1207.5,1081.0 l0,3 M1218.8,1081.0 l0,3 M1230.2,1081.0 l0,3 M1241.6,1081.0 l0,3 M1253.0,1081.0 l0,3 M1264.4,1081.0 l0,3 M1275.8,1081.0 l0,3 M1287.2,1081.0 l0,3 M1298.6,1081.0 l0,3 M1310.0,1081.0 l0,3 M1321.4,1081.0 l0,3 M1332.8,1081.0 l0,3 M1344.1,1081.0 l0,3 M1355.5,1081.0 l0,3 M1366.9,1081.0 l0,3 M1378.3,1081.0 l0,3 M1389.7,1081.0 l0,3 M1401.1,1081.0 l0,3 M1412.5,1081.0 l0,3 M1423.9,1081.0 l0,3 M1435.3,1081.0 l0,3 M1446.7,1081.0 l0,3 M1458.0,1081.0 l0,3 M1469.4,1081.0 l0,3 M1480.8,1081.0 l0,3 M1492.2,1081.0 l0,3 M1503.6,1081.0 l0,3 M1515.0,1081.0 l0,3 M1526.4,1081.0 l0,3 M1537.8,1081.0 l0,3 M1549.2,1081.0 l0,3 M1560.5,1081.0 l0,3 M1571.9,1081.0 l0,3 M1583.3,1081.0 l0,3 M1594.7,1081.0 l0,3 M1606.1,1081.0 l0,3 M1617.5,1081.0 l0,3 M1628.9,1081.0 l0,3 M1640.3,1081.0 l0,3 M1651.7,1081.0 l0,3 M1663.1,1081.0 l0,3 M1674.5,1081.0 l0,3 M1685.8,1081.0 l0,3 M1697.2,1081.0 l0,3 M1708.6,1081.0 l0,3 M1720.0,1081.0 l0,3 M1731.4,1081.0 l0,3 " stroke="#a0a0a0" stroke-width="0.8"/>
<g font-size="10" fill="#1a1a1a" stroke="#1a1a1a" stroke-width="0.22">
<text transform="translate(168.43,264.56) rotate(-90) scale(0.823,1)">89 618</text>
<text transform="translate(179.82,341.93) rotate(-90) scale(0.823,1)">81 041</text>
<text transform="translate(191.21,363.63) rotate(-90) scale(0.823,1)">78 635</text>
<text transform="translate(202.60,375.01) rotate(-90) scale(0.823,1)">77 374</text>
<text transform="translate(213.99,481.80) rotate(-90) scale(0.823,1)">65 536</text>
<text transform="translate(225.38,571.50) rotate(-90) scale(0.823,1)">55 593</text>
<text transform="translate(236.77,573.85) rotate(-90) scale(0.823,1)">55 332</text>
<text transform="translate(248.16,606.16) rotate(-90) scale(0.823,1)">51 750</text>
<text transform="translate(259.55,650.55) rotate(-90) scale(0.823,1)">46 830</text>
<text transform="translate(270.94,687.91) rotate(-90) scale(0.823,1)">42 688</text>
<text transform="translate(282.33,711.48) rotate(-90) scale(0.823,1)">40 075</text>
<text transform="translate(293.72,718.01) rotate(-90) scale(0.823,1)">39 351</text>
<text transform="translate(305.11,725.82) rotate(-90) scale(0.823,1)">38 486</text>
<text transform="translate(316.50,734.97) rotate(-90) scale(0.823,1)">37 472</text>
<text transform="translate(327.89,764.57) rotate(-90) scale(0.823,1)">34 190</text>
<text transform="translate(339.28,769.35) rotate(-90) scale(0.823,1)">33 660</text>
<text transform="translate(350.67,770.36) rotate(-90) scale(0.823,1)">33 548</text>
<text transform="translate(362.06,778.02) rotate(-90) scale(0.823,1)">32 699</text>
<text transform="translate(373.45,789.19) rotate(-90) scale(0.823,1)">31 461</text>
<text transform="translate(384.84,819.33) rotate(-90) scale(0.823,1)">28 120</text>
<text transform="translate(396.23,822.42) rotate(-90) scale(0.823,1)">27 777</text>
<text transform="translate(407.62,828.74) rotate(-90) scale(0.823,1)">27 077</text>
<text transform="translate(419.01,839.88) rotate(-90) scale(0.823,1)">25 842</text>
<text transform="translate(430.40,851.47) rotate(-90) scale(0.823,1)">24 557</text>
<text transform="translate(441.79,852.61) rotate(-90) scale(0.823,1)">24 431</text>
<text transform="translate(453.18,854.13) rotate(-90) scale(0.823,1)">24 262</text>
<text transform="translate(464.57,855.29) rotate(-90) scale(0.823,1)">24 134</text>
<text transform="translate(475.96,865.53) rotate(-90) scale(0.823,1)">22 999</text>
<text transform="translate(487.35,868.39) rotate(-90) scale(0.823,1)">22 682</text>
<text transform="translate(498.74,868.76) rotate(-90) scale(0.823,1)">22 641</text>
<text transform="translate(510.13,868.83) rotate(-90) scale(0.823,1)">22 633</text>
<text transform="translate(521.52,870.35) rotate(-90) scale(0.823,1)">22 464</text>
<text transform="translate(532.91,875.14) rotate(-90) scale(0.823,1)">21 933</text>
<text transform="translate(544.30,882.22) rotate(-90) scale(0.823,1)">21 148</text>
<text transform="translate(555.69,888.95) rotate(-90) scale(0.823,1)">20 402</text>
<text transform="translate(567.08,891.69) rotate(-90) scale(0.823,1)">20 099</text>
<text transform="translate(578.47,892.30) rotate(-90) scale(0.823,1)">20 031</text>
<text transform="translate(589.86,898.89) rotate(-90) scale(0.823,1)">19 301</text>
<text transform="translate(601.25,898.98) rotate(-90) scale(0.823,1)">19 291</text>
<text transform="translate(612.64,900.83) rotate(-90) scale(0.823,1)">19 086</text>
<text transform="translate(624.03,901.65) rotate(-90) scale(0.823,1)">18 995</text>
<text transform="translate(635.42,905.16) rotate(-90) scale(0.823,1)">18 606</text>
<text transform="translate(646.81,911.32) rotate(-90) scale(0.823,1)">17 923</text>
<text transform="translate(658.20,916.42) rotate(-90) scale(0.823,1)">17 357</text>
<text transform="translate(669.59,917.30) rotate(-90) scale(0.823,1)">17 260</text>
<text transform="translate(680.98,923.59) rotate(-90) scale(0.823,1)">16 562</text>
<text transform="translate(692.37,925.66) rotate(-90) scale(0.823,1)">16 333</text>
<text transform="translate(703.76,930.34) rotate(-90) scale(0.823,1)">15 814</text>
<text transform="translate(715.15,935.62) rotate(-90) scale(0.823,1)">15 229</text>
<text transform="translate(726.54,937.20) rotate(-90) scale(0.823,1)">15 054</text>
<text transform="translate(737.93,938.46) rotate(-90) scale(0.823,1)">14 914</text>
<text transform="translate(749.32,939.08) rotate(-90) scale(0.823,1)">14 845</text>
<text transform="translate(760.71,939.49) rotate(-90) scale(0.823,1)">14 800</text>
<text transform="translate(772.10,952.99) rotate(-90) scale(0.823,1)">13 303</text>
<text transform="translate(783.49,958.35) rotate(-90) scale(0.823,1)">12 709</text>
<text transform="translate(794.88,961.64) rotate(-90) scale(0.823,1)">12 344</text>
<text transform="translate(806.27,963.67) rotate(-90) scale(0.823,1)">12 119</text>
<text transform="translate(817.66,966.27) rotate(-90) scale(0.823,1)">11 831</text>
<text transform="translate(829.05,967.85) rotate(-90) scale(0.823,1)">11 656</text>
<text transform="translate(840.44,970.88) rotate(-90) scale(0.823,1)">11 320</text>
<text transform="translate(851.83,971.13) rotate(-90) scale(0.823,1)">11 293</text>
<text transform="translate(863.22,971.91) rotate(-90) scale(0.823,1)">11 206</text>
<text transform="translate(874.61,972.42) rotate(-90) scale(0.823,1)">11 149</text>
<text transform="translate(886.00,972.44) rotate(-90) scale(0.823,1)">11 147</text>
<text transform="translate(897.39,972.88) rotate(-90) scale(0.823,1)">11 099</text>
<text transform="translate(908.78,976.53) rotate(-90) scale(0.823,1)">10 694</text>
<text transform="translate(920.17,976.75) rotate(-90) scale(0.823,1)">10 669</text>
<text transform="translate(931.56,977.39) rotate(-90) scale(0.823,1)">10 599</text>
<text transform="translate(942.95,978.60) rotate(-90) scale(0.823,1)">10 465</text>
<text transform="translate(954.34,981.05) rotate(-90) scale(0.823,1)">10 193</text>
<text transform="translate(965.73,983.76) rotate(-90) scale(0.823,1)">9 892</text>
<text transform="translate(977.12,989.87) rotate(-90) scale(0.823,1)">9 215</text>
<text transform="translate(988.51,990.86) rotate(-90) scale(0.823,1)">9 105</text>
<text transform="translate(999.90,991.78) rotate(-90) scale(0.823,1)">9 003</text>
<text transform="translate(1011.29,992.41) rotate(-90) scale(0.823,1)">8 934</text>
<text transform="translate(1022.68,993.18) rotate(-90) scale(0.823,1)">8 848</text>
<text transform="translate(1034.07,994.24) rotate(-90) scale(0.823,1)">8 731</text>
<text transform="translate(1045.46,994.72) rotate(-90) scale(0.823,1)">8 678</text>
<text transform="translate(1056.85,997.05) rotate(-90) scale(0.823,1)">8 419</text>
<text transform="translate(1068.24,1001.34) rotate(-90) scale(0.823,1)">7 944</text>
<text transform="translate(1079.63,1001.90) rotate(-90) scale(0.823,1)">7 882</text>
<text transform="translate(1091.02,1003.10) rotate(-90) scale(0.823,1)">7 749</text>
<text transform="translate(1102.41,1003.11) rotate(-90) scale(0.823,1)">7 748</text>
<text transform="translate(1113.80,1004.22) rotate(-90) scale(0.823,1)">7 624</text>
<text transform="translate(1125.19,1004.62) rotate(-90) scale(0.823,1)">7 580</text>
<text transform="translate(1136.58,1004.69) rotate(-90) scale(0.823,1)">7 572</text>
<text transform="translate(1147.97,1004.73) rotate(-90) scale(0.823,1)">7 568</text>
<text transform="translate(1159.36,1004.78) rotate(-90) scale(0.823,1)">7 562</text>
<text transform="translate(1170.75,1005.21) rotate(-90) scale(0.823,1)">7 515</text>
<text transform="translate(1182.14,1006.11) rotate(-90) scale(0.823,1)">7 415</text>
<text transform="translate(1193.53,1006.28) rotate(-90) scale(0.823,1)">7 396</text>
<text transform="translate(1204.92,1006.53) rotate(-90) scale(0.823,1)">7 368</text>
<text transform="translate(1216.31,1007.32) rotate(-90) scale(0.823,1)">7 281</text>
<text transform="translate(1227.70,1010.35) rotate(-90) scale(0.823,1)">6 945</text>
<text transform="translate(1239.09,1011.59) rotate(-90) scale(0.823,1)">6 807</text>
<text transform="translate(1250.48,1012.97) rotate(-90) scale(0.823,1)">6 654</text>
<text transform="translate(1261.87,1013.29) rotate(-90) scale(0.823,1)">6 619</text>
<text transform="translate(1273.26,1014.91) rotate(-90) scale(0.823,1)">6 439</text>
<text transform="translate(1284.65,1015.10) rotate(-90) scale(0.823,1)">6 418</text>
<text transform="translate(1296.04,1015.63) rotate(-90) scale(0.823,1)">6 360</text>
<text transform="translate(1307.43,1015.72) rotate(-90) scale(0.823,1)">6 350</text>
<text transform="translate(1318.82,1017.34) rotate(-90) scale(0.823,1)">6 170</text>
<text transform="translate(1330.21,1017.76) rotate(-90) scale(0.823,1)">6 124</text>
<text transform="translate(1341.60,1018.29) rotate(-90) scale(0.823,1)">6 065</text>
<text transform="translate(1352.99,1018.98) rotate(-90) scale(0.823,1)">5 988</text>
<text transform="translate(1364.38,1020.46) rotate(-90) scale(0.823,1)">5 824</text>
<text transform="translate(1375.77,1021.46) rotate(-90) scale(0.823,1)">5 713</text>
<text transform="translate(1387.16,1021.97) rotate(-90) scale(0.823,1)">5 657</text>
<text transform="translate(1398.55,1022.55) rotate(-90) scale(0.823,1)">5 593</text>
<text transform="translate(1409.94,1023.78) rotate(-90) scale(0.823,1)">5 456</text>
<text transform="translate(1421.33,1024.40) rotate(-90) scale(0.823,1)">5 387</text>
<text transform="translate(1432.72,1024.68) rotate(-90) scale(0.823,1)">5 356</text>
<text transform="translate(1444.11,1025.16) rotate(-90) scale(0.823,1)">5 303</text>
<text transform="translate(1455.50,1026.50) rotate(-90) scale(0.823,1)">5 155</text>
<text transform="translate(1466.89,1027.23) rotate(-90) scale(0.823,1)">5 074</text>
<text transform="translate(1478.28,1028.10) rotate(-90) scale(0.823,1)">4 977</text>
<text transform="translate(1489.67,1028.36) rotate(-90) scale(0.823,1)">4 949</text>
<text transform="translate(1501.06,1028.60) rotate(-90) scale(0.823,1)">4 922</text>
<text transform="translate(1512.45,1033.19) rotate(-90) scale(0.823,1)">4 413</text>
<text transform="translate(1523.84,1033.67) rotate(-90) scale(0.823,1)">4 360</text>
<text transform="translate(1535.23,1034.29) rotate(-90) scale(0.823,1)">4 291</text>
<text transform="translate(1546.62,1034.84) rotate(-90) scale(0.823,1)">4 230</text>
<text transform="translate(1558.01,1035.15) rotate(-90) scale(0.823,1)">4 196</text>
<text transform="translate(1569.40,1035.33) rotate(-90) scale(0.823,1)">4 176</text>
<text transform="translate(1580.79,1035.34) rotate(-90) scale(0.823,1)">4 175</text>
<text transform="translate(1592.18,1035.78) rotate(-90) scale(0.823,1)">4 126</text>
<text transform="translate(1603.57,1036.29) rotate(-90) scale(0.823,1)">4 069</text>
<text transform="translate(1614.96,1036.72) rotate(-90) scale(0.823,1)">4 022</text>
<text transform="translate(1626.35,1038.96) rotate(-90) scale(0.823,1)">3 773</text>
<text transform="translate(1637.74,1040.06) rotate(-90) scale(0.823,1)">3 651</text>
<text transform="translate(1649.13,1040.42) rotate(-90) scale(0.823,1)">3 612</text>
<text transform="translate(1660.52,1041.10) rotate(-90) scale(0.823,1)">3 536</text>
<text transform="translate(1671.91,1044.19) rotate(-90) scale(0.823,1)">3 194</text>
<text transform="translate(1683.30,1044.25) rotate(-90) scale(0.823,1)">3 187</text>
<text transform="translate(1694.69,1046.07) rotate(-90) scale(0.823,1)">2 985</text>
<text transform="translate(1706.08,1052.44) rotate(-90) scale(0.823,1)">2 279</text>
<text transform="translate(1717.47,1058.44) rotate(-90) scale(0.823,1)">1 614</text>
<text transform="translate(1728.86,1060.02) rotate(-90) scale(0.823,1)">1 439</text>
</g>
<g font-size="10" fill="#1a1a1a" text-anchor="end" stroke="#1a1a1a" stroke-width="0.22">
<text transform="translate(145.65,1083.00) rotate(-90) scale(0.814,1)">Bratislava, hl. m. SR</text>
<text transform="translate(157.04,1083.00) rotate(-90) scale(0.814,1)">Košice</text>
<text transform="translate(168.43,1083.00) rotate(-90) scale(0.814,1)">Prešov</text>
<text transform="translate(179.82,1083.00) rotate(-90) scale(0.814,1)">Žilina</text>
<text transform="translate(191.21,1083.00) rotate(-90) scale(0.814,1)">Banská Bystrica</text>
<text transform="translate(202.60,1083.00) rotate(-90) scale(0.814,1)">Nitra</text>
<text transform="translate(213.99,1083.00) rotate(-90) scale(0.814,1)">Trnava</text>
<text transform="translate(225.38,1083.00) rotate(-90) scale(0.814,1)">Trenčín</text>
<text transform="translate(236.77,1083.00) rotate(-90) scale(0.814,1)">Martin</text>
<text transform="translate(248.16,1083.00) rotate(-90) scale(0.814,1)">Poprad</text>
<text transform="translate(259.55,1083.00) rotate(-90) scale(0.814,1)">Prievidza</text>
<text transform="translate(270.94,1083.00) rotate(-90) scale(0.814,1)">Zvolen</text>
<text transform="translate(282.33,1083.00) rotate(-90) scale(0.814,1)">Považská Bystrica</text>
<text transform="translate(293.72,1083.00) rotate(-90) scale(0.814,1)">Michalovce</text>
<text transform="translate(305.11,1083.00) rotate(-90) scale(0.814,1)">Nové Zámky</text>
<text transform="translate(316.50,1083.00) rotate(-90) scale(0.814,1)">Spišská Nová Ves</text>
<text transform="translate(327.89,1083.00) rotate(-90) scale(0.814,1)">Komárno</text>
<text transform="translate(339.28,1083.00) rotate(-90) scale(0.814,1)">Humenné</text>
<text transform="translate(350.67,1083.00) rotate(-90) scale(0.814,1)">Levice</text>
<text transform="translate(362.06,1083.00) rotate(-90) scale(0.814,1)">Bardejov</text>
<text transform="translate(373.45,1083.00) rotate(-90) scale(0.814,1)">Liptovský Mikuláš</text>
<text transform="translate(384.84,1083.00) rotate(-90) scale(0.814,1)">Lučenec</text>
<text transform="translate(396.23,1083.00) rotate(-90) scale(0.814,1)">Piešťany</text>
<text transform="translate(407.62,1083.00) rotate(-90) scale(0.814,1)">Ružomberok</text>
<text transform="translate(419.01,1083.00) rotate(-90) scale(0.814,1)">Topoľčany</text>
<text transform="translate(430.40,1083.00) rotate(-90) scale(0.814,1)">Trebišov</text>
<text transform="translate(441.79,1083.00) rotate(-90) scale(0.814,1)">Čadca</text>
<text transform="translate(453.18,1083.00) rotate(-90) scale(0.814,1)">Dubnica nad Váhom</text>
<text transform="translate(464.57,1083.00) rotate(-90) scale(0.814,1)">Rimavská Sobota</text>
<text transform="translate(475.96,1083.00) rotate(-90) scale(0.814,1)">Partizánske</text>
<text transform="translate(487.35,1083.00) rotate(-90) scale(0.814,1)">Vranov nad Topľou</text>
<text transform="translate(498.74,1083.00) rotate(-90) scale(0.814,1)">Dunajská Streda</text>
<text transform="translate(510.13,1083.00) rotate(-90) scale(0.814,1)">Pezinok</text>
<text transform="translate(521.52,1083.00) rotate(-90) scale(0.814,1)">Šaľa</text>
<text transform="translate(532.91,1083.00) rotate(-90) scale(0.814,1)">Hlohovec</text>
<text transform="translate(544.30,1083.00) rotate(-90) scale(0.814,1)">Brezno</text>
<text transform="translate(555.69,1083.00) rotate(-90) scale(0.814,1)">Senica</text>
<text transform="translate(567.08,1083.00) rotate(-90) scale(0.814,1)">Nové Mesto nad Váhom</text>
<text transform="translate(578.47,1083.00) rotate(-90) scale(0.814,1)">Snina</text>
<text transform="translate(589.86,1083.00) rotate(-90) scale(0.814,1)">Žiar nad Hronom</text>
<text transform="translate(601.25,1083.00) rotate(-90) scale(0.814,1)">Rožňava</text>
<text transform="translate(612.64,1083.00) rotate(-90) scale(0.814,1)">Senec</text>
<text transform="translate(624.03,1083.00) rotate(-90) scale(0.814,1)">Dolný Kubín</text>
<text transform="translate(635.42,1083.00) rotate(-90) scale(0.814,1)">Bánovce nad Bebravou</text>
<text transform="translate(646.81,1083.00) rotate(-90) scale(0.814,1)">Púchov</text>
<text transform="translate(658.20,1083.00) rotate(-90) scale(0.814,1)">Malacky</text>
<text transform="translate(669.59,1083.00) rotate(-90) scale(0.814,1)">Handlová</text>
<text transform="translate(680.98,1083.00) rotate(-90) scale(0.814,1)">Kežmarok</text>
<text transform="translate(692.37,1083.00) rotate(-90) scale(0.814,1)">Stará Ľubovňa</text>
<text transform="translate(703.76,1083.00) rotate(-90) scale(0.814,1)">Sereď</text>
<text transform="translate(715.15,1083.00) rotate(-90) scale(0.814,1)">Kysucké Nové Mesto</text>
<text transform="translate(726.54,1083.00) rotate(-90) scale(0.814,1)">Galanta</text>
<text transform="translate(737.93,1083.00) rotate(-90) scale(0.814,1)">Skalica</text>
<text transform="translate(749.32,1083.00) rotate(-90) scale(0.814,1)">Detva</text>
<text transform="translate(760.71,1083.00) rotate(-90) scale(0.814,1)">Levoča</text>
<text transform="translate(772.10,1083.00) rotate(-90) scale(0.814,1)">Šamorín</text>
<text transform="translate(783.49,1083.00) rotate(-90) scale(0.814,1)">Sabinov</text>
<text transform="translate(794.88,1083.00) rotate(-90) scale(0.814,1)">Revúca</text>
<text transform="translate(806.27,1083.00) rotate(-90) scale(0.814,1)">Veľký Krtíš</text>
<text transform="translate(817.66,1083.00) rotate(-90) scale(0.814,1)">Myjava</text>
<text transform="translate(829.05,1083.00) rotate(-90) scale(0.814,1)">Zlaté Moravce</text>
<text transform="translate(840.44,1083.00) rotate(-90) scale(0.814,1)">Bytča</text>
<text transform="translate(851.83,1083.00) rotate(-90) scale(0.814,1)">Moldava nad Bodvou</text>
<text transform="translate(863.22,1083.00) rotate(-90) scale(0.814,1)">Svidník</text>
<text transform="translate(874.61,1083.00) rotate(-90) scale(0.814,1)">Holíč</text>
<text transform="translate(886.00,1083.00) rotate(-90) scale(0.814,1)">Nová Dubnica</text>
<text transform="translate(897.39,1083.00) rotate(-90) scale(0.814,1)">Stupava</text>
<text transform="translate(908.78,1083.00) rotate(-90) scale(0.814,1)">Fiľakovo</text>
<text transform="translate(920.17,1083.00) rotate(-90) scale(0.814,1)">Stropkov</text>
<text transform="translate(931.56,1083.00) rotate(-90) scale(0.814,1)">Kolárovo</text>
<text transform="translate(942.95,1083.00) rotate(-90) scale(0.814,1)">Štúrovo</text>
<text transform="translate(954.34,1083.00) rotate(-90) scale(0.814,1)">Banská Štiavnica</text>
<text transform="translate(965.73,1083.00) rotate(-90) scale(0.814,1)">Šurany</text>
<text transform="translate(977.12,1083.00) rotate(-90) scale(0.814,1)">Tvrdošín</text>
<text transform="translate(988.51,1083.00) rotate(-90) scale(0.814,1)">Veľké Kapušany</text>
<text transform="translate(999.90,1083.00) rotate(-90) scale(0.814,1)">Stará Turá</text>
<text transform="translate(1011.29,1083.00) rotate(-90) scale(0.814,1)">Modra</text>
<text transform="translate(1022.68,1083.00) rotate(-90) scale(0.814,1)">Krompachy</text>
<text transform="translate(1034.07,1083.00) rotate(-90) scale(0.814,1)">Vráble</text>
<text transform="translate(1045.46,1083.00) rotate(-90) scale(0.814,1)">Veľký Meder</text>
<text transform="translate(1056.85,1083.00) rotate(-90) scale(0.814,1)">Sečovce</text>
<text transform="translate(1068.24,1083.00) rotate(-90) scale(0.814,1)">Krupina</text>
<text transform="translate(1079.63,1083.00) rotate(-90) scale(0.814,1)">Námestovo</text>
<text transform="translate(1091.02,1083.00) rotate(-90) scale(0.814,1)">Vrútky</text>
<text transform="translate(1102.41,1083.00) rotate(-90) scale(0.814,1)">Svit</text>
<text transform="translate(1113.80,1083.00) rotate(-90) scale(0.814,1)">Turzovka</text>
<text transform="translate(1125.19,1083.00) rotate(-90) scale(0.814,1)">Kráľovský Chlmec</text>
<text transform="translate(1136.58,1083.00) rotate(-90) scale(0.814,1)">Liptovský Hrádok</text>
<text transform="translate(1147.97,1083.00) rotate(-90) scale(0.814,1)">Hriňová</text>
<text transform="translate(1159.36,1083.00) rotate(-90) scale(0.814,1)">Hnúšťa</text>
<text transform="translate(1170.75,1083.00) rotate(-90) scale(0.814,1)">Hurbanovo</text>
<text transform="translate(1182.14,1083.00) rotate(-90) scale(0.814,1)">Nová Baňa</text>
<text transform="translate(1193.53,1083.00) rotate(-90) scale(0.814,1)">Trstená</text>
<text transform="translate(1204.92,1083.00) rotate(-90) scale(0.814,1)">Šahy</text>
<text transform="translate(1216.31,1083.00) rotate(-90) scale(0.814,1)">Tornaľa</text>
<text transform="translate(1227.70,1083.00) rotate(-90) scale(0.814,1)">Želiezovce</text>
<text transform="translate(1239.09,1083.00) rotate(-90) scale(0.814,1)">Krásno nad Kysucou</text>
<text transform="translate(1250.48,1083.00) rotate(-90) scale(0.814,1)">Medzilaborce</text>
<text transform="translate(1261.87,1083.00) rotate(-90) scale(0.814,1)">Spišská Belá</text>
<text transform="translate(1273.26,1083.00) rotate(-90) scale(0.814,1)">Lipany</text>
<text transform="translate(1284.65,1083.00) rotate(-90) scale(0.814,1)">Turčianske Teplice</text>
<text transform="translate(1296.04,1083.00) rotate(-90) scale(0.814,1)">Žarnovica</text>
<text transform="translate(1307.43,1083.00) rotate(-90) scale(0.814,1)">Nemšová</text>
<text transform="translate(1318.82,1083.00) rotate(-90) scale(0.814,1)">Sobrance</text>
<text transform="translate(1330.21,1083.00) rotate(-90) scale(0.814,1)">Gelnica</text>
<text transform="translate(1341.60,1083.00) rotate(-90) scale(0.814,1)">Veľký Šariš</text>
<text transform="translate(1352.99,1083.00) rotate(-90) scale(0.814,1)">Vrbové</text>
<text transform="translate(1364.38,1083.00) rotate(-90) scale(0.814,1)">Rajec</text>
<text transform="translate(1375.77,1083.00) rotate(-90) scale(0.814,1)">Poltár</text>
<text transform="translate(1387.16,1083.00) rotate(-90) scale(0.814,1)">Dobšiná</text>
<text transform="translate(1398.55,1083.00) rotate(-90) scale(0.814,1)">Svätý Jur</text>
<text transform="translate(1409.94,1083.00) rotate(-90) scale(0.814,1)">Ilava</text>
<text transform="translate(1421.33,1083.00) rotate(-90) scale(0.814,1)">Gabčíkovo</text>
<text transform="translate(1432.72,1083.00) rotate(-90) scale(0.814,1)">Kremnica</text>
<text transform="translate(1444.11,1083.00) rotate(-90) scale(0.814,1)">Sládkovičovo</text>
<text transform="translate(1455.50,1083.00) rotate(-90) scale(0.814,1)">Gbely</text>
<text transform="translate(1466.89,1083.00) rotate(-90) scale(0.814,1)">Šaštín-Stráže</text>
<text transform="translate(1478.28,1083.00) rotate(-90) scale(0.814,1)">Sliač</text>
<text transform="translate(1489.67,1083.00) rotate(-90) scale(0.814,1)">Brezová pod Bradlom</text>
<text transform="translate(1501.06,1083.00) rotate(-90) scale(0.814,1)">Bojnice</text>
<text transform="translate(1512.45,1083.00) rotate(-90) scale(0.814,1)">Medzev</text>
<text transform="translate(1523.84,1083.00) rotate(-90) scale(0.814,1)">Strážske</text>
<text transform="translate(1535.23,1083.00) rotate(-90) scale(0.814,1)">Turany</text>
<text transform="translate(1546.62,1083.00) rotate(-90) scale(0.814,1)">Nováky</text>
<text transform="translate(1558.01,1083.00) rotate(-90) scale(0.814,1)">Trenčianske Teplice</text>
<text transform="translate(1569.40,1083.00) rotate(-90) scale(0.814,1)">Tisovec</text>
<text transform="translate(1580.79,1083.00) rotate(-90) scale(0.814,1)">Leopoldov</text>
<text transform="translate(1592.18,1083.00) rotate(-90) scale(0.814,1)">Giraltovce</text>
<text transform="translate(1603.57,1083.00) rotate(-90) scale(0.814,1)">Vysoké Tatry</text>
<text transform="translate(1614.96,1083.00) rotate(-90) scale(0.814,1)">Spišské Podhradie</text>
<text transform="translate(1626.35,1083.00) rotate(-90) scale(0.814,1)">Hanušovce nad Topľou</text>
<text transform="translate(1637.74,1083.00) rotate(-90) scale(0.814,1)">Čierna nad Tisou</text>
<text transform="translate(1649.13,1083.00) rotate(-90) scale(0.814,1)">Tlmače</text>
<text transform="translate(1660.52,1083.00) rotate(-90) scale(0.814,1)">Spišské Vlachy</text>
<text transform="translate(1671.91,1083.00) rotate(-90) scale(0.814,1)">Jelšava</text>
<text transform="translate(1683.30,1083.00) rotate(-90) scale(0.814,1)">Podolínec</text>
<text transform="translate(1694.69,1083.00) rotate(-90) scale(0.814,1)">Rajecké Teplice</text>
<text transform="translate(1706.08,1083.00) rotate(-90) scale(0.814,1)">Spišská Stará Ves</text>
<text transform="translate(1717.47,1083.00) rotate(-90) scale(0.814,1)">Modrý Kameň</text>
<text transform="translate(1728.86,1083.00) rotate(-90) scale(0.814,1)">Dudince</text>
</g>
<rect x="136.3" y="166.0" width="9.7" height="69.8" fill="#002060"/>
<text transform="translate(144.75,172.20) rotate(-90) scale(0.93,1)" font-size="10.8" font-weight="bold" fill="#fff" text-anchor="end">425 923</text>
<path d="M141.7,269 L141.2,236.8 M136.2,243.8 L141.2,236.8 L146.2,243.8" stroke="#3a5a8c" stroke-width="1" fill="none"/>
<rect x="149.2" y="178.0" width="9.7" height="63.4" fill="#002060"/>
<text transform="translate(157.65,184.20) rotate(-90) scale(0.93,1)" font-size="10.8" font-weight="bold" fill="#fff" text-anchor="end">239 141</text>
<path d="M152.8,269 L152.3,242.4 M147.3,249.4 L152.3,242.4 L157.3,249.4" stroke="#3a5a8c" stroke-width="1" fill="none"/>
<text x="1199" y="718" font-size="15.3" font-weight="bold" fill="#000">Počet obyvateľov</text>
<rect x="1198.9" y="725.6" width="43.5" height="14.5" fill="#c5e4ec" stroke="#999" stroke-width="0.8"/>
<text x="1310" y="737.8" font-size="14" fill="#111" text-anchor="end">1 439 -</text>
<text x="1370" y="737.8" font-size="14" fill="#111" text-anchor="end">6 000</text>
<rect x="1198.9" y="748.2" width="43.5" height="14.5" fill="#8bb3be" stroke="#999" stroke-width="0.8"/>
<text x="1310" y="760.5" font-size="14" fill="#111" text-anchor="end">6 001 -</text>
<text x="1370" y="760.5" font-size="14" fill="#111" text-anchor="end">10 000</text>
<rect x="1198.9" y="770.9" width="43.5" height="14.5" fill="#0070c0" stroke="#999" stroke-width="0.8"/>
<text x="1310" y="783.1" font-size="14" fill="#111" text-anchor="end">10 001 -</text>
<text x="1370" y="783.1" font-size="14" fill="#111" text-anchor="end">20 000</text>
<rect x="1198.9" y="793.5" width="43.5" height="14.5" fill="#0f5584" stroke="#999" stroke-width="0.8"/>
<text x="1310" y="805.8" font-size="14" fill="#111" text-anchor="end">20 001 -</text>
<text x="1370" y="805.8" font-size="14" fill="#111" text-anchor="end">40 000</text>
<rect x="1198.9" y="816.2" width="43.5" height="14.5" fill="#002060" stroke="#999" stroke-width="0.8"/>
<text x="1310" y="828.4" font-size="14" fill="#111" text-anchor="end">40 001 -</text>
<text x="1370" y="828.4" font-size="14" fill="#111" text-anchor="end">425 923</text>
<text x="1199" y="858.5" font-size="14" fill="#111">SR spolu</text><text x="1290.5" y="858.5" font-size="14" fill="#111">5 435 343</text>
<text x="1199" y="874.5" font-size="14" fill="#111">z toho mestá</text><text x="1290.5" y="874.5" font-size="14" fill="#111">2 923 463</text>
<rect x="1201.2" y="659.5" width="84.7" height="4.8" fill="#606060" stroke="#222" stroke-width="0.8"/>
<rect x="1285.9" y="659.5" width="84.7" height="4.8" fill="#fff" stroke="#222" stroke-width="0.8"/>
<g font-size="8" fill="#555"><text x="1199" y="656.8">0</text><text x="1281.4" y="656.8">25</text><text x="1365.6" y="656.8">50 km</text></g>
</svg></body></html>
